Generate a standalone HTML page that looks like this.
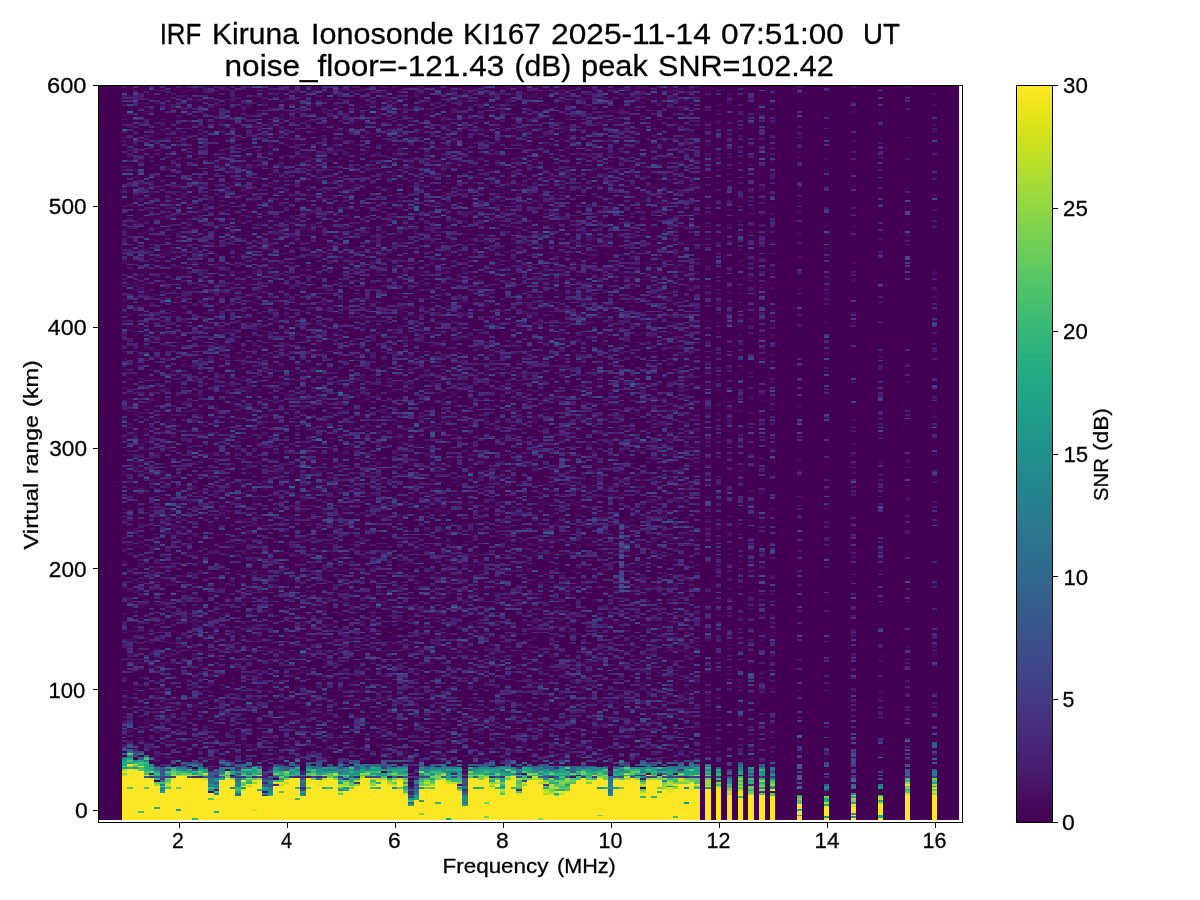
<!DOCTYPE html>
<html><head><meta charset="utf-8"><title>IRF Kiruna Ionosonde KI167</title>
<style>
html,body{margin:0;padding:0;background:#fff;width:1200px;height:900px;overflow:hidden}
svg{display:block;position:absolute;left:0;top:0}
text{font-family:"Liberation Sans",sans-serif;fill:#000;stroke:#000;stroke-width:0.3px}
#txt{will-change:transform}
</style></head><body>
<svg width="1200" height="900" viewBox="0 0 1200 900">
<defs><linearGradient id="vir" x1="0" y1="1" x2="0" y2="0"><stop offset="0.0000" stop-color="#440154"/><stop offset="0.0333" stop-color="#470d60"/><stop offset="0.0667" stop-color="#481a6c"/><stop offset="0.1000" stop-color="#482475"/><stop offset="0.1333" stop-color="#472f7d"/><stop offset="0.1667" stop-color="#443983"/><stop offset="0.2000" stop-color="#414487"/><stop offset="0.2333" stop-color="#3d4d8a"/><stop offset="0.2667" stop-color="#39568c"/><stop offset="0.3000" stop-color="#355f8d"/><stop offset="0.3333" stop-color="#31688e"/><stop offset="0.3667" stop-color="#2d708e"/><stop offset="0.4000" stop-color="#2a788e"/><stop offset="0.4333" stop-color="#27808e"/><stop offset="0.4667" stop-color="#23888e"/><stop offset="0.5000" stop-color="#21918c"/><stop offset="0.5333" stop-color="#1f988b"/><stop offset="0.5667" stop-color="#1fa188"/><stop offset="0.6000" stop-color="#22a884"/><stop offset="0.6333" stop-color="#2ab07f"/><stop offset="0.6667" stop-color="#35b779"/><stop offset="0.7000" stop-color="#44bf70"/><stop offset="0.7333" stop-color="#54c568"/><stop offset="0.7667" stop-color="#67cc5c"/><stop offset="0.8000" stop-color="#7ad151"/><stop offset="0.8333" stop-color="#90d743"/><stop offset="0.8667" stop-color="#a5db36"/><stop offset="0.9000" stop-color="#bddf26"/><stop offset="0.9333" stop-color="#d2e21b"/><stop offset="0.9667" stop-color="#eae51a"/><stop offset="1.0000" stop-color="#fde725"/></linearGradient></defs>
<rect x="0" y="0" width="1200" height="900" fill="#fff"/>
<rect x="98" y="85" width="861" height="735" fill="#440154"/>
<g shape-rendering="crispEdges" fill="none">
<path stroke="#470d60" stroke-width="1" d="M408 786.5h6M230 775.5h5m341 0h5m157 0h5M608 766.5h5M203 757.5h5m114 0h5m103 0h11m70 0h11m10 0h6m21 0h6m11 0h5m65 0h5m16 0h6m97 0h5M176 748.5h5m22 0h5m49 0h5m22 0h5m22 0h5m6 0h5m70 0h11m211 0h5M144 737.5h16m43 0h5m17 0h5m54 0h5m6 0h5m43 0h6m178 0h5m81 0h6m16 0h5M149 728.5h5m49 0h5m76 0h5m222 0h5m33 0h5m38 0h5m11 0h5m135 0h6M203 717.5h11m75 0h11m54 0h11m157 0h5m157 0h5M306 708.5h5m65 0h5m38 0h11m97 0h5m38 0h6m48 0h6m16 0h5m33 0h5M138 699.5h6m16 0h5m43 0h6m75 0h6m16 0h5m17 0h5m97 0h6m5 0h5m22 0h5m38 0h6m16 0h11m37 0h6m102 0h6M171 690.5h5m92 0h5m11 0h5m54 0h6m32 0h6m16 0h5m6 0h5m108 0h5m6 0h5m16 0h6m75 0h6m81 0h5M165 679.5h6m10 0h11m22 0h5m22 0h5m265 0h5m54 0h6m32 0h5m33 0h11m81 0h5m5 0h6M122 670.5h5m27 0h6m75 0h6m21 0h6m70 0h5m17 0h5m92 0h5m22 0h5m54 0h11m49 0h5m43 0h11m16 0h6m5 0h5m54 0h6M144 659.5h5m81 0h5m76 0h5m103 0h5m38 0h6m86 0h5m108 0h6m11 0h5M198 650.5h5m184 0h5m32 0h6m59 0h6m43 0h5m11 0h5m22 0h5m22 0h5m27 0h6M127 641.5h6m21 0h6m16 0h16m33 0h5m11 0h5m178 0h17m178 0h5m38 0h5m60 0h5m38 0h5m76 0h5M181 632.5h6m21 0h11m200 0h5m11 0h6m16 0h5m49 0h5m76 0h5m151 0h6m5 0h6m5 0h5M127 621.5h6m59 0h6m54 0h5m113 0h6m54 0h5m33 0h5m65 0h11m48 0h11m76 0h5M149 612.5h5m6 0h5m60 0h5m32 0h6m11 0h5m27 0h5m173 0h6m5 0h5m92 0h6M181 601.5h6m16 0h5m33 0h11m16 0h5m81 0h6m118 0h6m340 0h5M144 592.5h5m5 0h6m11 0h5m5 0h6m48 0h6m21 0h6m5 0h6m21 0h6m145 0h6m38 0h5m5 0h6m48 0h11m11 0h5m71 0h5m86 0h6M133 583.5h5m27 0h6m21 0h6m151 0h5m38 0h5m130 0h5m6 0h5m11 0h5m27 0h6m5 0h6m16 0h5m16 0h6m70 0h5m211 0h5M187 574.5h5m227 0h5m6 0h5m27 0h6m135 0h5m16 0h6M122 563.5h5m22 0h11m5 0h6m86 0h5m38 0h6m70 0h5m49 0h5m49 0h5m97 0h6m81 0h5M295 554.5h11m27 0h10m92 0h6m10 0h6m70 0h5m373 0h5M122 543.5h5m92 0h6m59 0h5m33 0h5m114 0h5m5 0h6m81 0h16m43 0h6m27 0h16m27 0h5M122 534.5h5m6 0h5m33 0h10m27 0h11m38 0h5m17 0h5m38 0h5m6 0h5m49 0h5m167 0h6m81 0h5m27 0h6M171 525.5h10m71 0h5m16 0h6m5 0h5m27 0h6m21 0h6m38 0h5m22 0h5m43 0h6m48 0h6m10 0h6m146 0h5m27 0h5m103 0h5M219 516.5h6m64 0h6m102 0h6m54 0h5m70 0h6m119 0h5m86 0h6M127 505.5h6m124 0h5m33 0h11m70 0h11m16 0h5m11 0h5m38 0h6m70 0h5m76 0h5m70 0h6M122 496.5h5m17 0h5m38 0h5m92 0h5m6 0h5m11 0h5m87 0h5m6 0h5m32 0h6m5 0h6m70 0h5m49 0h11m86 0h5m184 0h5M127 485.5h6m27 0h11m10 0h6m5 0h6m37 0h6m92 0h10m11 0h11m81 0h5m6 0h5m38 0h5m98 0h5m65 0h5m70 0h6M133 476.5h5m87 0h5m43 0h6m21 0h6m10 0h6m5 0h11m124 0h6m37 0h6m38 0h5m43 0h6m5 0h5m114 0h5M181 467.5h6m54 0h5m43 0h11m114 0h5m54 0h5m76 0h5m81 0h6m32 0h6m54 0h5M171 458.5h5m49 0h5m11 0h11m91 0h6m59 0h6m27 0h5m43 0h6m27 0h5m16 0h6m81 0h5m43 0h6m5 0h5M160 447.5h5m65 0h11m11 0h5m437 0h6M176 438.5h5m6 0h11m21 0h6m334 0h11m22 0h5m60 0h5m27 0h5M154 427.5h6m75 0h6m11 0h5m43 0h6m167 0h5m65 0h6m10 0h6m119 0h5m49 0h5M144 418.5h5m16 0h6m54 0h5m49 0h5m130 0h5m38 0h11m27 0h5m32 0h6m21 0h6m38 0h10m11 0h6M149 409.5h5m17 0h5m54 0h5m76 0h5m38 0h6m37 0h6m27 0h5m22 0h5m211 0h5m49 0h5m200 0h5M154 400.5h6m27 0h5m60 0h5m38 0h5m60 0h5m22 0h5m59 0h6m54 0h11m32 0h11m27 0h5m49 0h5m16 0h6m21 0h6m59 0h6M138 389.5h6m10 0h6m5 0h6m32 0h5m11 0h6m21 0h11m184 0h5m27 0h5m125 0h10m103 0h5m6 0h5m65 0h5M154 380.5h6m151 0h5m38 0h6m16 0h5m92 0h5m60 0h5m11 0h5m92 0h6m16 0h5m6 0h5m189 0h5M160 369.5h16m32 0h6m21 0h6m11 0h5m49 0h5m11 0h5m27 0h6m75 0h6m108 0h5m16 0h6m54 0h5m103 0h5m27 0h5m76 0h5M181 360.5h6m43 0h5m11 0h6m32 0h5m76 0h5m22 0h5m119 0h6m75 0h6m54 0h5m27 0h5m76 0h5M176 351.5h5m27 0h6m81 0h5m38 0h5m6 0h5m38 0h5m87 0h5m87 0h5m22 0h10m6 0h5m22 0h5m16 0h6M235 342.5h6m11 0h5m11 0h5m65 0h5m38 0h6m86 0h5m87 0h5m27 0h6m37 0h6M246 331.5h6m16 0h5m38 0h5m22 0h5m87 0h11m10 0h6m5 0h6m43 0h5m108 0h6m43 0h5M181 322.5h6m11 0h5m32 0h6m32 0h6m10 0h6m21 0h6m81 0h5m92 0h5m98 0h5m130 0h5m81 0h5M208 311.5h6m16 0h5m38 0h6m102 0h6m54 0h5m32 0h6m16 0h5m319 0h5M327 302.5h6m16 0h5m27 0h6m10 0h6m65 0h5m5 0h6m54 0h5m43 0h6m5 0h6m10 0h6m108 0h5M127 293.5h6m16 0h5m87 0h5m60 0h5m32 0h6m129 0h6m70 0h5m76 0h5m87 0h5m6 0h5M203 284.5h5m17 0h5m59 0h6m108 0h5m11 0h11m21 0h6m75 0h6m11 0h5m11 0h5m16 0h6m43 0h11m70 0h5M154 273.5h6m11 0h5m27 0h5m27 0h6m48 0h6m48 0h6m38 0h5m227 0h5m33 0h5M203 264.5h5m11 0h11m43 0h6m59 0h5m87 0h11m189 0h5m38 0h5M133 253.5h5m141 0h5m103 0h5m22 0h5m43 0h6m21 0h6m48 0h6m54 0h5M208 244.5h6m11 0h5m16 0h6m21 0h6m5 0h5m27 0h6m92 0h5m86 0h6m21 0h6m27 0h5m6 0h5m108 0h5M154 235.5h11m16 0h6m16 0h5m11 0h6m27 0h5m43 0h6m5 0h5m11 0h6m21 0h6m86 0h5m44 0h5m27 0h5m6 0h5m16 0h11m27 0h6m43 0h5m16 0h6m232 0h5M198 226.5h5m32 0h6m5 0h6m16 0h5m11 0h5m141 0h11m75 0h6m43 0h5m81 0h6m27 0h5m162 0h5M187 215.5h5m54 0h6m21 0h6m10 0h6m21 0h6m65 0h5m108 0h5m33 0h5m11 0h5m17 0h5m16 0h6m21 0h6m43 0h5M133 206.5h5m114 0h5m27 0h5m103 0h5m49 0h5m114 0h5m16 0h6m38 0h5m22 0h5m16 0h6m86 0h5m130 0h5M133 195.5h5m49 0h5m22 0h11m10 0h6m65 0h5m5 0h6m5 0h6m27 0h5m5 0h6m16 0h5m6 0h5m49 0h5m130 0h5m27 0h6m10 0h6m11 0h5m43 0h6m221 0h5M149 186.5h5m65 0h11m5 0h6m59 0h6m64 0h6m43 0h5m60 0h5m11 0h5m60 0h5m27 0h6m5 0h5m6 0h5m27 0h6m21 0h6m5 0h11m59 0h6m59 0h5M176 177.5h5m11 0h6m37 0h6m237 0h6m21 0h6m5 0h6m37 0h6m21 0h6m5 0h6m86 0h5M149 168.5h5m11 0h6m16 0h5m54 0h6m59 0h5m44 0h5m65 0h5m11 0h5m98 0h5m130 0h5m81 0h5M176 157.5h5m22 0h5m6 0h5m6 0h5m5 0h6m65 0h5m27 0h5m6 0h5m119 0h11m81 0h5m11 0h5m76 0h5m11 0h6m5 0h5M138 148.5h6m59 0h5m152 0h5m22 0h5m243 0h5M144 137.5h5m16 0h11m22 0h5m103 0h5m27 0h5m135 0h6m48 0h6m16 0h5m49 0h5m22 0h11m16 0h5m92 0h6m113 0h5M138 128.5h6m91 0h6m16 0h5m44 0h5m140 0h6m16 0h11m43 0h11m5 0h6m97 0h5m6 0h5m11 0h5m92 0h5M149 119.5h5m6 0h5m205 0h6m38 0h5m54 0h5m33 0h5m49 0h5m16 0h6m11 0h5m151 0h6M127 110.5h6m75 0h6m27 0h5m70 0h6m16 0h5m49 0h5m211 0h11m59 0h11m189 0h5M192 99.5h6m145 0h11m103 0h5m6 0h5m5 0h6m48 0h6m70 0h5m135 0h6M133 90.5h5m87 0h5m5 0h6m21 0h6m146 0h5m27 0h5m92 0h6m43 0h5m70 0h6m32 0h6M181 85.5h6m92 0h5m16 0h6m48 0h6m5 0h5m22 0h11m232 0h5m54 0h6m16 0h5m27 0h6m151 0h5"/>
<path stroke="#470d60" stroke-width="2" d="M208 792h6m48 0h6m502 0h5M457 785h5M387 777h5m70 0h6m102 0h6M268 774h5m249 0h5m81 0h5m33 0h5m22 0h5M208 770h6m11 0h5M208 768h6m48 0h6M208 765h6m248 0h6M154 759h6m243 0h5m70 0h6m32 0h6m21 0h6m16 0h5m22 0h5M165 756h6m10 0h6m183 0h6m11 0h5m70 0h6m21 0h11m27 0h5m146 0h6M230 754h5m38 0h6m70 0h5m49 0h5m16 0h6m54 0h5m60 0h5m5 0h6m92 0h5M273 752h6m27 0h5m11 0h5m76 0h5m65 0h5m33 0h5m49 0h5m33 0h5m27 0h5m33 0h5M295 750h5m22 0h5m6 0h5m108 0h5m6 0h5m27 0h6m37 0h6m27 0h5m108 0h6M176 747h5m65 0h6m108 0h5m11 0h5m60 0h5m5 0h6m11 0h5m22 0h5m22 0h5m5 0h6m21 0h6m16 0h5m27 0h6m59 0h6M133 745h5m114 0h5m119 0h5m54 0h6m37 0h6m38 0h5m43 0h6M144 743h10m87 0h5m87 0h5m11 0h5m141 0h5m11 0h5m6 0h5m59 0h11m22 0h5m81 0h6m5 0h5M489 741h11m16 0h6m54 0h5m81 0h5m81 0h6M214 739h5m54 0h6m27 0h5m5 0h17m48 0h6m140 0h5m27 0h6M235 736h6m21 0h11m38 0h5m49 0h11m11 0h5m5 0h6m32 0h6m48 0h6m10 0h6m27 0h5m65 0h5m27 0h6M165 734h6m97 0h5m81 0h11m16 0h6m54 0h5m32 0h6m108 0h5m43 0h6M127 732h6m43 0h5m44 0h10m49 0h5m81 0h6m5 0h6m91 0h6m54 0h5m43 0h6m32 0h11m49 0h5m38 0h5M127 730h6m21 0h6m140 0h6m5 0h5m189 0h6m21 0h6m5 0h6m27 0h5M122 727h5m87 0h5m38 0h5m33 0h5m11 0h5m22 0h5m33 0h5m33 0h5m49 0h5m27 0h5m22 0h5m60 0h11m64 0h6m21 0h6M203 725h5m92 0h6m37 0h11m65 0h5m17 0h10m17 0h5m97 0h6m48 0h6m10 0h6m59 0h6m48 0h6M144 723h5m16 0h6m113 0h5m87 0h5m38 0h5m11 0h6m5 0h5m27 0h6m5 0h6m16 0h5m38 0h11m21 0h6m11 0h5m22 0h10m87 0h5M122 721h5m17 0h10m227 0h6m91 0h6m21 0h11m16 0h6m54 0h11m5 0h5m17 0h5m16 0h6m10 0h6m16 0h5m44 0h5M144 719h5m43 0h6m48 0h6m118 0h6m16 0h5m49 0h5m11 0h6m27 0h5m32 0h6m11 0h5M144 716h5m135 0h5m11 0h6m16 0h5m33 0h5m59 0h6m16 0h5m22 0h5m38 0h6m16 0h5m6 0h5m49 0h5m27 0h5m6 0h5m33 0h5M122 714h5m33 0h5m38 0h5m33 0h5m76 0h5m243 0h6m16 0h5M257 712h5m44 0h5m16 0h6m172 0h6m75 0h6m54 0h5m54 0h6M192 710h6m21 0h6m135 0h5m11 0h5m16 0h6m48 0h6m11 0h5m54 0h5m92 0h6m10 0h6m16 0h5m17 0h5m49 0h5M138 707h6m16 0h5m6 0h5m16 0h11m54 0h5m11 0h6m21 0h11m32 0h6m43 0h5m6 0h5m11 0h5m114 0h5m43 0h6m21 0h6m75 0h6M181 705h6m5 0h11m146 0h5m141 0h5m22 0h5m43 0h6m43 0h5m92 0h5M138 703h6m10 0h6m21 0h6m65 0h5m27 0h5m11 0h6m48 0h6m54 0h5m97 0h6m43 0h5m27 0h6m5 0h11m65 0h5M133 701h5m119 0h5m33 0h5m16 0h6m48 0h6m43 0h5m6 0h5m38 0h5m33 0h5m49 0h5m6 0h5m22 0h5m5 0h6m54 0h5m11 0h5M122 698h5m49 0h5m17 0h10m173 0h6m70 0h5m6 0h5m5 0h6m113 0h6m16 0h5m60 0h5m16 0h6m167 0h5M154 696h6m146 0h5m22 0h5m38 0h5m65 0h5m65 0h6m102 0h11m11 0h5m16 0h6M225 694h5m5 0h6m5 0h6m183 0h6m70 0h5m43 0h6m38 0h5m11 0h5m54 0h11m16 0h6M208 692h6m146 0h5m11 0h5m33 0h5m162 0h5m98 0h5m189 0h5M133 689h5m81 0h6m5 0h5m17 0h5m16 0h6m16 0h5m38 0h5m17 0h10m6 0h5m97 0h6m97 0h5m27 0h6m151 0h5M295 687h11m81 0h5m54 0h5m125 0h5m59 0h6m38 0h5m49 0h5M138 685h6m27 0h5m32 0h6m21 0h6m16 0h5m130 0h5m60 0h5m6 0h5m32 0h6m32 0h6m5 0h5m33 0h5m43 0h6m43 0h5M203 683h5m38 0h6m97 0h5m49 0h5m76 0h11m32 0h5m6 0h11m21 0h6m10 0h11m38 0h11m5 0h6m16 0h5m16 0h6m38 0h5m16 0h6M154 681h6m97 0h5m92 0h6m54 0h5m130 0h5m59 0h6m65 0h5M138 678h6m32 0h5m11 0h11m27 0h5m87 0h5m38 0h5m49 0h5m54 0h6m75 0h6m54 0h5m49 0h5m11 0h11m59 0h6M171 676h5m81 0h5m54 0h6m11 0h5m16 0h6m5 0h5m22 0h5m27 0h6m21 0h6m200 0h5m108 0h5M192 674h6m10 0h11m43 0h6m16 0h5m6 0h5m81 0h6m75 0h6m54 0h5m70 0h6m124 0h5m27 0h6M187 672h5m6 0h5m97 0h6m32 0h11m43 0h5m189 0h6m43 0h11m11 0h5m43 0h6m48 0h6M181 669h6m5 0h6m86 0h5m65 0h6m91 0h6m119 0h5M203 667h5m11 0h6m129 0h6m108 0h5m49 0h5m11 0h5m141 0h5M133 665h5m22 0h5m216 0h6m32 0h5m33 0h5m87 0h5m38 0h5m16 0h6m43 0h5M133 663h16m11 0h11m10 0h6m81 0h5m27 0h6m91 0h6m27 0h5m130 0h5m11 0h11m65 0h5m27 0h5m54 0h6M230 661h5m6 0h5m22 0h5m238 0h5m38 0h5m17 0h5m16 0h6m16 0h5m22 0h5m6 0h5m216 0h5M127 658h6m21 0h6m21 0h6m113 0h11m86 0h6m129 0h6m11 0h5m108 0h5m17 0h5m27 0h5M192 656h6m16 0h5m76 0h5m70 0h6m97 0h5m22 0h5m6 0h5m11 0h5m17 0h5m32 0h6m54 0h5m119 0h5m76 0h5M127 654h6m27 0h11m5 0h5m98 0h10m6 0h5m130 0h11m102 0h11m49 0h5m38 0h5m38 0h5m238 0h5M149 652h5m49 0h5m22 0h5m71 0h5m135 0h11m102 0h6m32 0h6m5 0h5m38 0h6m5 0h5m17 0h5M154 649h6m27 0h5m16 0h6m16 0h5m33 0h16m81 0h11m32 0h6m5 0h5m38 0h6m16 0h5m60 0h5m32 0h6m38 0h5m32 0h11m49 0h5M181 647h6m59 0h6m48 0h6m81 0h5m92 0h5m38 0h5m44 0h5m324 0h5m22 0h5M289 645h6m59 0h6m48 0h6m113 0h5m71 0h5m16 0h6m64 0h6m27 0h5m200 0h5M133 643h5m11 0h5m11 0h11m22 0h5m65 0h11m37 0h11m27 0h6m43 0h5m97 0h6m173 0h5M127 640h6m27 0h5m38 0h5m6 0h5m27 0h6m5 0h5m81 0h6m5 0h6m16 0h5m324 0h6m48 0h6M144 638h5m32 0h6m32 0h6m16 0h5m6 0h5m27 0h5m11 0h11m16 0h6m10 0h6m183 0h6M154 636h6m21 0h6m86 0h6m32 0h5m76 0h5m44 0h5m59 0h6m43 0h5m54 0h6m70 0h5m33 0h5m38 0h5M144 634h5m86 0h6m43 0h5m76 0h11m32 0h6m32 0h5m27 0h6m32 0h6m48 0h11m103 0h5m162 0h5M127 631h11m22 0h5m6 0h5m59 0h6m324 0h5m124 0h6m5 0h6M149 629h5m173 0h6m5 0h5m22 0h5m98 0h5m32 0h6m5 0h6m10 0h6m54 0h5m11 0h5m71 0h5m16 0h6m140 0h5M133 627h5m54 0h6m16 0h11m21 0h6m5 0h5m54 0h6m43 0h5m11 0h6m16 0h5m11 0h5m49 0h5m6 0h5m130 0h5m92 0h5M192 625h6m54 0h5m43 0h6m21 0h6m135 0h5m32 0h6m54 0h5m16 0h6m54 0h5m6 0h5M192 623h6m5 0h5m92 0h6m27 0h5m22 0h5m103 0h5m22 0h5m22 0h5m5 0h6m11 0h5m16 0h6m27 0h5m5 0h6m5 0h6m43 0h5M171 620h5m32 0h6m119 0h5m59 0h6m156 0h6m11 0h5m70 0h6M138 618h6m43 0h5m11 0h11m183 0h6m27 0h5m16 0h11m70 0h6m21 0h6m5 0h6m64 0h6m16 0h11m65 0h5m5 0h6M257 616h5m146 0h6m156 0h6m140 0h5m38 0h6m5 0h5M122 614h5m60 0h5m6 0h5m16 0h6m113 0h5m27 0h6m59 0h6m21 0h6m5 0h5m44 0h10m49 0h5m22 0h5m11 0h6m5 0h5m54 0h6M133 611h5m43 0h6m183 0h6m21 0h6m113 0h6m86 0h5m17 0h5m43 0h6M198 609h5m16 0h6m43 0h5m81 0h6m221 0h5m22 0h5m6 0h5m124 0h6M138 607h6m178 0h5m43 0h6m11 0h5m22 0h5m65 0h5m16 0h11m38 0h5m98 0h5M138 605h6m10 0h11m184 0h5m27 0h6m21 0h6m189 0h10m60 0h5M181 603h6m54 0h5m135 0h6m16 0h5m54 0h6m59 0h5M127 600h6m11 0h5m16 0h6m21 0h6m32 0h5m27 0h11m70 0h6m27 0h5m49 0h5m27 0h6m124 0h5m22 0h5m22 0h5m38 0h11M198 598h5m22 0h5m16 0h6m37 0h6m43 0h5m38 0h6m27 0h5m205 0h6m97 0h5M138 596h11m38 0h5m33 0h5m32 0h6m38 0h5m119 0h5m6 0h5m119 0h5M208 594h6m135 0h5m54 0h6m32 0h5m17 0h5m43 0h6m64 0h6m21 0h6m11 0h5m5 0h6m113 0h6m5 0h5M127 591h17m37 0h6m16 0h5m81 0h6m11 0h5m27 0h11m97 0h5m11 0h6m37 0h6m48 0h6m16 0h5m60 0h5m33 0h5M187 589h5m22 0h5m60 0h5m11 0h5m76 0h5m6 0h5m22 0h5m65 0h5m54 0h6m37 0h6m16 0h5m22 0h11m81 0h5M208 587h6m200 0h5m16 0h6m129 0h6m27 0h5m43 0h6m10 0h17m54 0h5M165 585h11m49 0h5m22 0h5m16 0h6m64 0h6m27 0h5m114 0h5m16 0h6m21 0h6m16 0h5m11 0h5m54 0h11M138 582h6m27 0h5m43 0h6m5 0h5m33 0h5m11 0h5m33 0h5m49 0h5m6 0h5m22 0h10m114 0h11m129 0h6M414 580h5m70 0h6m5 0h5m27 0h6m5 0h6m16 0h5m16 0h6m32 0h6m27 0h5M127 578h6m11 0h5m92 0h5m43 0h6m108 0h11m10 0h6m27 0h5m103 0h5m65 0h5m87 0h5M181 576h6m75 0h6m27 0h5m130 0h11m37 0h6m156 0h6m16 0h5m103 0h5M192 573h6m10 0h6m54 0h5m6 0h5m124 0h6m248 0h5M235 571h6m5 0h16m27 0h6m43 0h11m48 0h6m27 0h5m11 0h5m27 0h6m27 0h5m38 0h5m11 0h6m97 0h5M127 569h6m32 0h6m48 0h6m81 0h5m184 0h5m16 0h6m64 0h6m11 0h5M138 567h6m10 0h6m124 0h5m22 0h5m146 0h6m5 0h5m119 0h6m21 0h16m108 0h6M138 565h6m75 0h6m54 0h5m27 0h5m81 0h6m65 0h16m167 0h6m27 0h5m5 0h6M122 562h5m49 0h5m17 0h5m49 0h5m162 0h5m27 0h6m21 0h6m11 0h5m27 0h5m76 0h5m27 0h11m54 0h6m27 0h5M171 560h5m76 0h5m11 0h5m27 0h6m81 0h5m43 0h6m102 0h6m37 0h6m70 0h5m81 0h6M133 558h5m6 0h5m92 0h5m87 0h5m22 0h10m227 0h6m113 0h5m103 0h5m22 0h5M138 556h6m5 0h5m11 0h6m54 0h5m65 0h5m60 0h10m33 0h5m124 0h6m59 0h11m243 0h5M127 553h6m54 0h11m21 0h6m16 0h5m11 0h5m6 0h11m5 0h11m43 0h5m33 0h5m65 0h5m22 0h5m6 0h5m43 0h6m11 0h5m11 0h5m33 0h5m151 0h6M208 551h6m27 0h5m60 0h10m33 0h5m6 0h10m38 0h6m10 0h6m227 0h5m216 0h5M122 549h5m22 0h5m189 0h6m70 0h5m6 0h5m16 0h6m65 0h5m146 0h5m6 0h5m38 0h5M138 547h6m10 0h6m162 0h5m27 0h6m64 0h6m65 0h5m5 0h6m65 0h5m59 0h6m11 0h5m32 0h6M127 545h6m21 0h6m70 0h5m17 0h5m5 0h6m81 0h5m173 0h11m38 0h5m5 0h11m6 0h5m5 0h6m27 0h5M138 542h6m86 0h5m27 0h6m32 0h6m27 0h5m70 0h6m32 0h5m11 0h11m38 0h11m16 0h5m11 0h5m92 0h6m27 0h5m59 0h6M187 540h5m54 0h6m21 0h6m21 0h6m43 0h5m6 0h5m38 0h5m97 0h6m38 0h10m92 0h6m10 0h11m6 0h5m5 0h6m16 0h5M198 538h5m22 0h5m16 0h6m48 0h6m32 0h5m103 0h5m49 0h5m33 0h5m22 0h5m11 0h5m6 0h5m60 0h5m5 0h6m75 0h6M176 536h5m11 0h6m37 0h6m38 0h5m22 0h5m32 0h6m146 0h5m32 0h6m11 0h5m76 0h5m32 0h6m32 0h6m16 0h5M160 533h5m27 0h6m48 0h6m140 0h5m98 0h5m16 0h6m205 0h5M127 531h6m32 0h6m113 0h5m11 0h6m10 0h6m86 0h6m10 0h6m11 0h5m22 0h5m5 0h6m119 0h5m11 0h5m16 0h6m16 0h5m38 0h6M133 529h5m33 0h5m5 0h6m21 0h6m54 0h5m38 0h11m11 0h5m103 0h5m92 0h5m81 0h6m86 0h5M171 527h10m152 0h5m86 0h6m70 0h11m27 0h5m54 0h6m32 0h5m76 0h5M122 524h5m11 0h6m16 0h5m6 0h5m130 0h5m22 0h5m16 0h6m91 0h6m16 0h5m76 0h5m6 0h5M165 522h6m81 0h5m22 0h5m211 0h5m54 0h5m65 0h6M122 520h5m44 0h5m38 0h5m16 0h11m43 0h6m102 0h6m102 0h6m27 0h5m87 0h5m70 0h6M149 518h5m135 0h11m6 0h5m5 0h6m156 0h6m38 0h5m32 0h6m75 0h6m38 0h5M219 515h6m32 0h5m76 0h5m33 0h11m10 0h6m75 0h6m92 0h5m11 0h5m65 0h5m130 0h5m103 0h5M246 513h6m59 0h5m130 0h5m44 0h10m98 0h5m86 0h6M149 511h5m17 0h5m54 0h5m65 0h6m16 0h5m108 0h6m5 0h5m27 0h11m22 0h5m70 0h6m54 0h5m16 0h6m5 0h6M122 509h5m27 0h6m59 0h6m199 0h17m118 0h6m11 0h5m59 0h6m59 0h6m59 0h5m49 0h5M225 507h10m17 0h5m5 0h6m21 0h6m16 0h5m22 0h11m27 0h5m103 0h11m145 0h6M144 504h5m254 0h5m6 0h5m49 0h5m70 0h11m5 0h6m5 0h6M187 502h11m156 0h6m70 0h5m60 0h5m38 0h5m33 0h5m70 0h6m16 0h11m43 0h5M165 500h6m5 0h5m71 0h10m22 0h5m11 0h6m59 0h11m5 0h6m10 0h6m5 0h6m151 0h11m43 0h5m6 0h5m11 0h5m6 0h5m11 0h11m221 0h5M160 498h5m87 0h5m189 0h5m38 0h6m97 0h5m65 0h5m38 0h6m194 0h5M160 495h5m33 0h5m11 0h5m16 0h6m16 0h5m33 0h11m5 0h5m49 0h11m48 0h6m21 0h6m102 0h6m43 0h5m6 0h5m27 0h6m21 0h6M154 493h6m297 0h5m200 0h5m6 0h5m81 0h6m86 0h5M187 491h5m6 0h5m5 0h6m32 0h6m21 0h6m37 0h6m11 0h5m16 0h6m27 0h5m119 0h5m70 0h6m135 0h5m16 0h6m5 0h6M133 489h5m33 0h5m16 0h6m64 0h6m65 0h5m32 0h6m54 0h11m27 0h5m11 0h5m114 0h5m65 0h5m146 0h5M133 487h5m38 0h5m11 0h6m113 0h5m108 0h6m135 0h11m10 0h11m27 0h6m37 0h6M268 484h5m16 0h6m75 0h6m108 0h5m16 0h6m5 0h6m21 0h6m129 0h6M149 482h5m135 0h6m16 0h5m6 0h5m54 0h6m21 0h6m5 0h5m17 0h5m5 0h6m81 0h5m11 0h5m6 0h5m54 0h6m43 0h5m6 0h5M127 480h6m16 0h11m32 0h6m81 0h5m70 0h6m32 0h5m114 0h5m65 0h5m27 0h6m21 0h6m5 0h6m10 0h11m6 0h5M171 478h5m38 0h5m60 0h5m43 0h6m16 0h5m108 0h6m32 0h5m6 0h5M122 475h5m141 0h5m6 0h5m81 0h5m92 0h6m10 0h6m97 0h5M122 473h5m11 0h6m16 0h5m81 0h6m21 0h6m10 0h6m5 0h6m5 0h5m233 0h5m5 0h6m54 0h5m227 0h5M122 471h5m152 0h16m16 0h16m33 0h5m76 0h5m32 0h6m16 0h5m27 0h6m27 0h5m22 0h5m22 0h5m114 0h5m54 0h5M133 469h5m119 0h5m27 0h6m32 0h6m48 0h6m10 0h6m92 0h5m70 0h6m81 0h5m16 0h6m10 0h6M165 466h6m54 0h5m86 0h11m70 0h6m5 0h6m54 0h5m54 0h5m11 0h6m5 0h5m11 0h6m32 0h5m6 0h5m65 0h5M127 464h6m113 0h6m5 0h5m49 0h5m92 0h6m21 0h6m37 0h6m43 0h5m44 0h5m11 0h5m33 0h5m216 0h5M138 462h6m48 0h6m54 0h10m33 0h5m60 0h5m5 0h11m65 0h5m22 0h5m6 0h5m6 0h5m124 0h6m37 0h6m205 0h5m22 0h5M203 460h5m65 0h6m194 0h5m92 0h6m75 0h6m32 0h5m103 0h5m103 0h5M381 457h6m75 0h6m54 0h5m200 0h5M122 455h11m75 0h6m5 0h6m135 0h5m59 0h6m43 0h5m22 0h11m113 0h6m37 0h6m178 0h5m76 0h5M154 453h6m48 0h6m21 0h6m65 0h5m5 0h6m102 0h6m97 0h5m87 0h5m43 0h11m16 0h6M273 451h6m64 0h6m48 0h6m189 0h5m22 0h5m11 0h11M144 449h5m16 0h6m54 0h5m59 0h6m5 0h11m16 0h6m75 0h6m10 0h6m102 0h6m97 0h5m130 0h5M138 446h6m27 0h5m11 0h5m70 0h6m16 0h5m11 0h6m43 0h5m43 0h6m11 0h5m5 0h6m11 0h5m124 0h6m10 0h6m16 0h5m54 0h11M138 444h6m5 0h5m114 0h5m103 0h5m27 0h6m70 0h5m97 0h6m5 0h6m48 0h11m22 0h5m5 0h6m27 0h5m119 0h5M144 442h5m65 0h5m162 0h6m10 0h6m113 0h6m21 0h6m37 0h6m38 0h5M122 440h5m11 0h6m21 0h6m48 0h6m81 0h5m130 0h5m11 0h5m97 0h6m43 0h5m6 0h5m11 0h5m27 0h6M171 437h5m5 0h6m5 0h6m48 0h6m280 0h6m86 0h6m48 0h6m21 0h6m5 0h5m17 0h5m27 0h5M127 435h11m16 0h6m11 0h5m27 0h5m6 0h5m43 0h6m70 0h5m108 0h6m54 0h5m33 0h5m130 0h5M133 433h5m6 0h5m124 0h6M176 431h5m6 0h5m6 0h5m238 0h5m184 0h5m16 0h6m37 0h6m27 0h5M219 429h6m32 0h5m98 0h5m5 0h6m21 0h6m21 0h6m59 0h6m10 0h6m21 0h6m21 0h6m81 0h5m54 0h6M160 426h5m76 0h5m119 0h11m27 0h5m243 0h16M171 424h5m22 0h5m11 0h5m16 0h6m108 0h5m38 0h5m87 0h5m27 0h6m32 0h5m33 0h5m60 0h5m65 0h5M165 422h6m81 0h5m11 0h11m16 0h5m97 0h6m59 0h11m59 0h6m27 0h5m16 0h6m27 0h5m43 0h6m11 0h5m38 0h5m27 0h6m5 0h5M446 420h5m44 0h5m32 0h6m313 0h5M208 417h6m302 0h11m5 0h6m27 0h5m11 0h5m108 0h6m232 0h5M133 415h5m22 0h5m16 0h6m11 0h5m65 0h5m16 0h6m16 0h5m22 0h5m17 0h5m22 0h5m5 0h6m16 0h5m27 0h11m49 0h5m103 0h5m11 0h5m44 0h5m27 0h5m157 0h5M138 413h11m65 0h5m27 0h6m81 0h5m43 0h11m151 0h6m21 0h6m54 0h10m49 0h5m11 0h6m5 0h5m27 0h6M127 411h11m6 0h5m11 0h5m16 0h17m16 0h5m16 0h6m38 0h10m49 0h5m38 0h6m113 0h5m189 0h6m38 0h5m135 0h5M214 408h5m33 0h5m70 0h6m97 0h5m135 0h6m97 0h5m49 0h5M127 406h6m5 0h6m70 0h5m103 0h5m124 0h6m32 0h6m108 0h5m11 0h5m16 0h6m70 0h5m76 0h5M203 404h5m22 0h5m60 0h5m38 0h5m49 0h5m184 0h5m11 0h6m5 0h16m22 0h5m22 0h5m38 0h5M127 402h6m43 0h16m38 0h5m44 0h5m49 0h5m103 0h5m5 0h6m43 0h11m27 0h5m38 0h5m65 0h6m70 0h5M127 399h6m32 0h6m64 0h6m75 0h6m16 0h5m54 0h6m11 0h5m22 0h5m162 0h11m38 0h5m43 0h6m37 0h6m16 0h5m157 0h5M198 397h5m22 0h5m54 0h16m16 0h6m32 0h6m140 0h5m38 0h6m37 0h6m32 0h6m5 0h5m98 0h5m5 0h6M192 395h11m81 0h5m65 0h6m16 0h5m70 0h6m151 0h5m44 0h5m22 0h5m70 0h6M127 393h6m54 0h5m87 0h10m146 0h6m10 0h6m11 0h5m49 0h5m16 0h6m75 0h6M165 391h6m48 0h6m21 0h6m86 0h5m49 0h5m60 0h5m11 0h5m27 0h6m65 0h5m5 0h11m11 0h5M122 388h5m22 0h5m11 0h6m21 0h6m37 0h6m5 0h6m16 0h5m70 0h6m27 0h5m97 0h6m5 0h6m5 0h5m76 0h5m11 0h6M225 386h5m16 0h6m32 0h5m17 0h5m70 0h6m27 0h5m43 0h6m43 0h5m22 0h5m33 0h5m54 0h5m65 0h6M160 384h5m33 0h5m22 0h5m16 0h6m37 0h6m54 0h5m33 0h10m6 0h5m22 0h5m16 0h6m102 0h11m11 0h11m65 0h5M176 382h5m11 0h6m59 0h5m17 0h10m27 0h11m11 0h5m27 0h6m16 0h5m33 0h5m103 0h5m54 0h6m5 0h5m6 0h5m43 0h6m54 0h5m38 0h5m130 0h5M127 379h6m5 0h6m48 0h6m16 0h5m11 0h5m81 0h6m38 0h5m173 0h5m135 0h6M322 377h11m27 0h5m59 0h6m70 0h5m11 0h6m37 0h6m21 0h6m5 0h6m145 0h6M133 375h5m151 0h6m11 0h5m59 0h6m21 0h6m59 0h6m48 0h6m5 0h5m49 0h5M154 373h6m135 0h16m113 0h6m11 0h5m22 0h5m43 0h6m21 0h6m124 0h5m11 0h5m54 0h6M127 371h6m146 0h5m5 0h6m11 0h5m59 0h6m27 0h11m70 0h5m216 0h6m113 0h5M192 368h6m129 0h6m43 0h5m27 0h6m5 0h5m60 0h11m5 0h5m54 0h11m49 0h5m33 0h5m65 0h5M160 366h5m16 0h11m70 0h11m6 0h5m32 0h6m16 0h5m38 0h6m140 0h5m17 0h5m27 0h5m11 0h6m194 0h5M181 364h6m113 0h6m102 0h6m199 0h6m11 0h5m270 0h5M489 362h6m43 0h5m33 0h5m124 0h6M122 359h5m17 0h5m54 0h5m27 0h11m124 0h6m129 0h6m48 0h6m16 0h5m33 0h5m135 0h6M268 357h5m6 0h5m119 0h11m27 0h5m76 0h10m27 0h6m59 0h6m64 0h6m178 0h5M138 355h6m54 0h5m70 0h6m226 0h6m27 0h11m10 0h6m16 0h5m44 0h5m27 0h5m11 0h6m86 0h5M187 353h11m167 0h5m125 0h5m16 0h6m162 0h5m135 0h5M149 350h11m11 0h5m27 0h5m6 0h5m33 0h5m76 0h5m232 0h6m5 0h5m33 0h5m38 0h5m22 0h5M144 348h5m81 0h5m22 0h11m11 0h10m81 0h6m16 0h5m81 0h6m32 0h6m118 0h6m5 0h6m16 0h5M127 346h6m11 0h5m16 0h6m27 0h10m17 0h5m22 0h5m27 0h5m27 0h6m27 0h5m22 0h5m6 0h5m38 0h5m43 0h6m59 0h6m86 0h5m33 0h5M225 344h5m178 0h6m16 0h5m16 0h6m54 0h5m87 0h5m11 0h5m22 0h5m146 0h5M149 341h11m38 0h5m11 0h5m81 0h6m64 0h6m32 0h6m16 0h5m16 0h6m108 0h5m135 0h6M176 339h5m135 0h6m11 0h5m119 0h5m6 0h10m54 0h6m5 0h6m27 0h5m5 0h11M230 337h5m11 0h6m5 0h5m60 0h5m124 0h6m16 0h5m65 0h6m21 0h6m27 0h5m11 0h5m22 0h11M122 335h5m6 0h5m22 0h5m6 0h5m86 0h6m27 0h5m162 0h6m21 0h6m59 0h5m22 0h5m11 0h6m32 0h5m22 0h5m71 0h5m16 0h6m5 0h5M138 333h6m91 0h6m54 0h5m33 0h5m5 0h6m81 0h5m103 0h5m16 0h6m16 0h5m17 0h5m32 0h6m21 0h6m43 0h5M127 330h6m38 0h5m27 0h5m17 0h5m22 0h10m38 0h6m16 0h5m195 0h5m59 0h6m21 0h6M138 328h6m167 0h5m33 0h5m6 0h5m11 0h5m16 0h6m16 0h5m33 0h5m22 0h5m43 0h6m75 0h6m21 0h6M133 326h5m54 0h6m5 0h5m49 0h5m103 0h5m27 0h6m54 0h5M246 324h6m70 0h5m16 0h6m86 0h6m81 0h5m22 0h5m5 0h6m75 0h6m92 0h5m54 0h5M181 321h6m75 0h6m5 0h6m91 0h6m65 0h5m5 0h6m113 0h6m32 0h5m27 0h6m5 0h6m48 0h6m221 0h5M273 319h6m5 0h5m71 0h5m81 0h5m38 0h6m43 0h5m81 0h6m5 0h5m98 0h5m5 0h6M171 317h5m27 0h5m44 0h5m81 0h5m17 0h5m38 0h5m6 0h5m65 0h5m11 0h5m65 0h6m16 0h5m6 0h5m59 0h6m5 0h6M127 315h6m108 0h5m38 0h5m22 0h11m27 0h5m22 0h5m151 0h6m11 0h5m59 0h6m27 0h11M181 313h6m16 0h11m183 0h6m59 0h6m37 0h6m11 0h10m108 0h6m70 0h5m130 0h5M144 310h5m16 0h6m16 0h5m114 0h5m11 0h5m70 0h6m21 0h6m5 0h6m32 0h5m11 0h6m5 0h5m27 0h6m92 0h5m59 0h6m70 0h5M219 308h6m37 0h6m129 0h11m16 0h6m108 0h5m22 0h5M122 306h5m6 0h11m48 0h6m81 0h5m81 0h5m33 0h5m11 0h5m22 0h5m33 0h5m11 0h5m125 0h5m27 0h5M257 304h5m33 0h5m162 0h6m16 0h5m33 0h5m189 0h5M122 301h5m6 0h5m130 0h5m16 0h6m59 0h6m10 0h6m32 0h6m27 0h5m70 0h6m21 0h11m5 0h6m11 0h5m5 0h6M122 299h5m222 0h5m38 0h11m11 0h5m5 0h6m237 0h6m5 0h6M133 297h5m43 0h6m32 0h6m27 0h5m27 0h5m103 0h5m135 0h6m129 0h11m254 0h5M144 295h5m5 0h6m65 0h5m22 0h5m16 0h6m259 0h5m38 0h16M144 292h5m108 0h5m11 0h6m135 0h5m70 0h6m75 0h6m5 0h5m71 0h5m5 0h6m54 0h5M133 290h11m86 0h5m22 0h5m17 0h5m16 0h6m27 0h5m70 0h6m10 0h6m173 0h5m11 0h5m49 0h5m254 0h5M165 288h6m27 0h5m97 0h11m16 0h6m37 0h6m102 0h6m48 0h6m32 0h6m21 0h6m27 0h5m54 0h5m44 0h5m16 0h6m5 0h5M198 286h5m22 0h5m76 0h5m113 0h6m21 0h6m81 0h5m108 0h6m16 0h5m6 0h5M133 283h5m6 0h5m130 0h5m86 0h6m32 0h6m32 0h5m49 0h5m22 0h5m27 0h6m16 0h5m81 0h6M203 281h5m33 0h5m11 0h5m71 0h5m43 0h6m5 0h5m22 0h5m27 0h6m16 0h5m27 0h6m27 0h5m6 0h5m22 0h10m87 0h5m70 0h6m97 0h5M225 279h5m86 0h6m54 0h5m11 0h11m119 0h5m27 0h5m6 0h5m70 0h17m10 0h6m178 0h5M154 277h6m48 0h6m21 0h6m32 0h6m405 0h10m54 0h6M138 275h6m21 0h6m10 0h11m11 0h11m32 0h6m27 0h5m22 0h5m43 0h6m16 0h5m97 0h6m21 0h6m27 0h5m6 0h5m22 0h5m76 0h5M252 272h5m5 0h6m108 0h5m38 0h5m11 0h11m16 0h6m151 0h5m27 0h11m22 0h5m5 0h6m232 0h5M300 270h6m21 0h6m21 0h6m48 0h6m48 0h6m135 0h10m60 0h5m27 0h6m59 0h5M144 268h5m5 0h6m54 0h5m54 0h6m54 0h5m59 0h6m119 0h10m11 0h6m5 0h5m38 0h6m5 0h11m32 0h6m16 0h5m6 0h5m16 0h6m48 0h6M160 266h5m11 0h5m11 0h6m10 0h17m64 0h6m43 0h5m81 0h6m65 0h5m54 0h5m6 0h11m37 0h6m27 0h5m22 0h11m21 0h6M122 263h5m71 0h5m38 0h5m22 0h5m11 0h5m162 0h6m38 0h5m16 0h6m59 0h5m60 0h5m200 0h5M122 261h5m60 0h11m64 0h6m102 0h6m11 0h5m49 0h5m43 0h6m10 0h6m32 0h6m16 0h5m81 0h6m81 0h5M295 259h5m33 0h5m5 0h6m11 0h5m16 0h11m5 0h6m59 0h6m27 0h5m22 0h5m11 0h5m33 0h5m5 0h6m38 0h5M154 257h6m11 0h5m27 0h5m103 0h5m44 0h5m194 0h6m108 0h5m119 0h5M165 255h6m43 0h5m108 0h6m43 0h5m205 0h6m81 0h5M122 252h5m38 0h6m21 0h6m156 0h6m64 0h6m11 0h5m38 0h5m6 0h5m5 0h6m38 0h5m5 0h6m113 0h6M144 250h5m11 0h5m65 0h5m6 0h5m16 0h11m119 0h5m17 0h5m194 0h6m119 0h5m5 0h6M268 248h5m6 0h5m11 0h5m6 0h5m32 0h6m5 0h11m59 0h6m5 0h6m32 0h5m11 0h6m5 0h5m152 0h5m162 0h5M181 246h6m27 0h5m6 0h5m16 0h6m16 0h5m54 0h6m10 0h6m38 0h5m124 0h6m5 0h5m22 0h5m92 0h6M203 243h5m60 0h5m54 0h6m64 0h6m21 0h17m10 0h6m54 0h5m87 0h5m54 0h5m103 0h5M154 241h6m135 0h5m151 0h6m5 0h6m16 0h5m87 0h5m5 0h6m11 0h5m81 0h5m33 0h5M149 239h5m76 0h5m6 0h5m76 0h5m70 0h6m43 0h5m17 0h5m97 0h6m16 0h5m27 0h6m21 0h6m10 0h6m21 0h6m178 0h5M187 237h5m97 0h11m38 0h5m49 0h5m54 0h6m32 0h6m75 0h6m43 0h5m11 0h11m27 0h5M138 234h6m43 0h5m76 0h5m6 0h5m81 0h5m27 0h6m32 0h6m21 0h6m10 0h11m16 0h6m5 0h6m32 0h11m16 0h5m152 0h5m54 0h5m22 0h5m76 0h5M144 232h5m27 0h5m65 0h6m162 0h5m16 0h6m75 0h6m140 0h5m81 0h6M122 230h5m44 0h5m11 0h5m22 0h5m6 0h5m43 0h6m21 0h11m92 0h5m6 0h5m151 0h6m86 0h5m6 0h5M127 228h6m21 0h6m5 0h6m16 0h5m108 0h11m27 0h5m81 0h6m97 0h11m119 0h5m32 0h6m232 0h5M165 225h6m135 0h5m70 0h6m5 0h5m11 0h6m91 0h6m38 0h5m173 0h5M122 223h5m6 0h11m43 0h5m6 0h10m49 0h5m6 0h5m22 0h5m162 0h6m86 0h5M144 221h5m38 0h5m43 0h6m32 0h6m81 0h5m54 0h5m27 0h6m5 0h6m5 0h5m11 0h11m38 0h11m48 0h6m21 0h6m108 0h5M138 219h6m10 0h6m5 0h6m5 0h5m44 0h5m54 0h5m60 0h5m297 0h6M160 217h5m6 0h5m16 0h6m124 0h5m16 0h6m38 0h5m70 0h6m48 0h11m22 0h5m86 0h6m32 0h6M160 214h5m141 0h5m119 0h5m33 0h5m59 0h6m102 0h6m5 0h6m91 0h6m5 0h6m5 0h5m76 0h5M208 212h6m32 0h6m10 0h6m32 0h11m22 0h5m86 0h6m32 0h6m5 0h5m33 0h5m146 0h5m130 0h5M144 210h5m11 0h5m33 0h5m65 0h5m22 0h5m11 0h5m130 0h5m22 0h5m98 0h5m16 0h6m124 0h5M176 208h5m11 0h6m16 0h5m49 0h5m92 0h5m11 0h6m10 0h6m151 0h5m6 0h5m38 0h5m135 0h6M154 205h6m59 0h11m108 0h5m38 0h6m48 0h11m49 0h10m108 0h6m54 0h5m16 0h6m5 0h6M208 203h6m27 0h5m22 0h5m114 0h10m11 0h6m108 0h5m119 0h5M138 201h6m27 0h5m5 0h6m21 0h6m32 0h11m346 0h5m32 0h6M133 199h5m11 0h5m11 0h11m11 0h5m43 0h6m75 0h6m102 0h6m38 0h5m22 0h5m162 0h11M133 197h5m65 0h5m11 0h6m27 0h5m184 0h5m92 0h11m43 0h5m16 0h6m21 0h11M138 194h6m5 0h5m44 0h10m81 0h6m48 0h6m102 0h6m43 0h5m33 0h5m11 0h5m65 0h6M149 192h5m92 0h6m135 0h5m248 0h6m48 0h6m48 0h6M122 190h5m81 0h6m11 0h5m43 0h6m43 0h5m103 0h5m16 0h6m32 0h11m43 0h6m16 0h5m27 0h6m43 0h5m108 0h6M122 188h5m17 0h5m5 0h6m11 0h5m162 0h5m17 0h5m16 0h11m5 0h6m81 0h5m11 0h5m44 0h5m49 0h5m43 0h6m27 0h5m59 0h6m5 0h6m32 0h5m103 0h5M138 185h6m32 0h5m17 0h5m38 0h5m27 0h6m10 0h6m48 0h6m11 0h10m49 0h11m54 0h5m27 0h6m10 0h6m59 0h6m10 0h6m11 0h5m59 0h6M225 183h10m17 0h5m86 0h11m151 0h6m205 0h5M149 181h5m44 0h5m11 0h5m33 0h5m32 0h6m5 0h6m10 0h6m167 0h6m43 0h5m124 0h6M198 179h5m54 0h5m54 0h6m92 0h10m22 0h5m44 0h5m113 0h6m38 0h5m5 0h6m97 0h5M154 176h6m173 0h5m16 0h6m70 0h16m27 0h5m6 0h5m92 0h5m27 0h6m21 0h11m11 0h16M176 174h5m54 0h6m75 0h6m59 0h6m5 0h5m17 0h5m22 0h5m54 0h5m6 0h5m16 0h6m27 0h5m33 0h5m22 0h10m17 0h5m65 0h5M241 172h5m135 0h6m5 0h5m87 0h5m27 0h6m118 0h6M133 170h5m27 0h6m5 0h5m49 0h5m11 0h6m37 0h6m5 0h6m5 0h5m54 0h6m16 0h5m11 0h6m16 0h5m38 0h5m17 0h5m43 0h6m43 0h5m6 0h5m11 0h5m92 0h5m103 0h5M127 167h6m32 0h11m32 0h6m27 0h5m6 0h5m5 0h6m11 0h5m43 0h6m32 0h5m27 0h6m38 0h10m17 0h5m5 0h6m86 0h6m27 0h10m17 0h5m5 0h6M154 165h6m11 0h5m76 0h5m22 0h5m124 0h6m32 0h5m44 0h5m81 0h5m98 0h5m59 0h6M176 163h5m11 0h6m32 0h5m76 0h5m92 0h6m27 0h5m5 0h6m108 0h5M327 161h6m91 0h6m43 0h5m60 0h5m65 0h5m6 0h5m81 0h6m59 0h5M187 159h11m59 0h5m17 0h5m5 0h6m11 0h5m27 0h5m60 0h11m54 0h5m43 0h6m43 0h5m87 0h5m54 0h5m103 0h5M149 156h5m60 0h5m22 0h5m33 0h10m6 0h16m43 0h6m16 0h5m65 0h5m87 0h5m108 0h6m48 0h6M176 154h5m11 0h6m102 0h6m10 0h6m48 0h6m48 0h6m75 0h6m65 0h5m5 0h6m16 0h11m5 0h16m76 0h5M181 152h6m81 0h5m33 0h5m22 0h5m38 0h5m16 0h6m124 0h5m33 0h5m362 0h5M333 150h5m27 0h5m17 0h5m43 0h6m21 0h6m86 0h5m38 0h6m16 0h5m27 0h6m81 0h5M327 147h11m135 0h5m44 0h5m38 0h5m54 0h6m21 0h6m32 0h5M133 145h5m130 0h5m11 0h5m65 0h6m21 0h6m43 0h5m54 0h6m32 0h5m17 0h5m113 0h6m11 0h10m11 0h6m37 0h6M181 143h6m81 0h5m76 0h5m108 0h6m16 0h5m27 0h6m27 0h5m140 0h6m5 0h6M181 141h6m113 0h6m81 0h5m59 0h6m21 0h6m27 0h5m335 0h5M138 139h6m16 0h5m27 0h6m27 0h5m5 0h6m194 0h6m118 0h6m43 0h5m6 0h16M149 136h5m27 0h6m75 0h11m265 0h11m16 0h5m119 0h5M154 134h6m92 0h5m16 0h11m81 0h11m21 0h6m38 0h5m27 0h5m108 0h6m21 0h6m11 0h5m49 0h5M176 132h5m103 0h5m22 0h5m141 0h5m11 0h5m6 0h5m33 0h5m32 0h6m5 0h6m59 0h5m49 0h5m103 0h5m130 0h5M149 130h5m6 0h11m5 0h5m38 0h6m54 0h5m11 0h5m22 0h5m6 0h5m5 0h6m70 0h5m17 0h5m54 0h5m60 0h5m362 0h5M127 127h6m21 0h6m43 0h5m33 0h5m76 0h5m119 0h5m49 0h5m54 0h11m54 0h6m37 0h6M149 125h5m38 0h6m32 0h5m17 0h5m11 0h5m60 0h5m76 0h5m5 0h6m11 0h5m151 0h6m21 0h6m59 0h5m238 0h5M219 123h6m43 0h11m108 0h5m200 0h5m108 0h6m5 0h5m49 0h5M295 121h5m11 0h5m38 0h6m81 0h5m27 0h22m108 0h16m97 0h5M279 118h5m5 0h11m38 0h5m119 0h6m81 0h5m11 0h5m70 0h6m16 0h5M122 116h5m87 0h5m49 0h5m6 0h5m113 0h6m146 0h5m22 0h5m5 0h6m48 0h6M144 114h5m130 0h5m22 0h5m49 0h5m59 0h6m48 0h6m5 0h6m16 0h5m6 0h5m5 0h6m86 0h6M144 112h10m33 0h5m70 0h6m21 0h6m81 0h5m33 0h5m119 0h5m60 0h5m5 0h6m232 0h5M187 109h5m184 0h5m27 0h6m10 0h6m189 0h5m54 0h6m21 0h6M181 107h6m59 0h6m64 0h6m27 0h5m6 0h5m27 0h5m6 0h5m11 0h5m76 0h5m49 0h5m33 0h5m76 0h5M160 105h11m43 0h11m21 0h6m81 0h5m27 0h11m119 0h5m11 0h5m22 0h11m16 0h5m11 0h5m130 0h5m38 0h6m167 0h5M138 103h11m5 0h6m102 0h6m43 0h5m103 0h5m6 0h5m70 0h6m21 0h6m16 0h5m6 0h5m60 0h5m5 0h6m5 0h11m5 0h6m54 0h5m38 0h5M192 101h11m5 0h6m16 0h5m60 0h5m162 0h6m37 0h6m124 0h5m38 0h11m38 0h5M144 98h5m11 0h5m11 0h5m49 0h5m49 0h5m71 0h5m16 0h6m59 0h5m6 0h11m21 0h6m81 0h16m5 0h6m48 0h6m16 0h5M127 96h6m119 0h5m43 0h6m145 0h6m27 0h11m32 0h11m5 0h6m10 0h6m70 0h5M414 94h10m17 0h5m65 0h5m6 0h5m5 0h6m43 0h5m38 0h6m97 0h5m200 0h5M122 92h5m54 0h6m81 0h5m6 0h5m11 0h5m27 0h6m48 0h6m27 0h5m5 0h6m200 0h5m32 0h6M192 89h6m27 0h5m108 0h5m17 0h5m54 0h5m49 0h5m27 0h6m108 0h5m11 0h5m38 0h6m5 0h5M203 87h5m141 0h5m27 0h6m5 0h5m22 0h5m81 0h6m5 0h6m113 0h11m48 0h6m97 0h5m49 0h5m49 0h5"/>
<path stroke="#481a6c" stroke-width="1" d="M171 757.5h5m86 0h6m21 0h6m32 0h6m70 0h5m195 0h5m32 0h6m11 0h5M133 748.5h5m11 0h5m98 0h5m108 0h5m11 0h6m54 0h5m16 0h6m16 0h5m6 0h5m27 0h5m157 0h5M241 737.5h5m27 0h6m10 0h6m5 0h6m108 0h16m5 0h6m37 0h6m16 0h11m27 0h5m49 0h5m22 0h5m6 0h5m70 0h6m59 0h5M187 728.5h5m16 0h6m32 0h6m210 0h6m16 0h5m16 0h6m59 0h6m48 0h6m167 0h5M268 717.5h5m60 0h10m33 0h5m6 0h10m17 0h10m33 0h5m135 0h6m32 0h5m17 0h5m11 0h5m27 0h6m5 0h5m76 0h5M144 708.5h5m5 0h6m54 0h5m38 0h5m238 0h5m87 0h5m38 0h5m11 0h11m5 0h17m5 0h5m184 0h5M154 699.5h6m124 0h5m38 0h6m16 0h5m43 0h11m168 0h10m103 0h5m44 0h5M192 690.5h6m5 0h5m54 0h6m70 0h5m108 0h11m49 0h5m49 0h5m33 0h5m16 0h6m5 0h5m157 0h5m22 0h5m22 0h5M122 679.5h5m17 0h5m49 0h5m92 0h5m22 0h5m43 0h11m33 0h5m70 0h6m27 0h5m27 0h5m38 0h6m10 0h6m70 0h11M306 670.5h5m92 0h11m54 0h10m195 0h5m49 0h5M127 659.5h11m60 0h5m157 0h5m70 0h11m22 0h5m49 0h5m38 0h5m38 0h5m17 0h10m11 0h6m5 0h5m22 0h5M127 650.5h6m97 0h5m11 0h6m10 0h6m43 0h16m6 0h5m43 0h6m27 0h5m22 0h5m11 0h5m11 0h5m49 0h5m119 0h6m10 0h6m21 0h6M149 641.5h5m98 0h10m98 0h5m22 0h5m16 0h6m108 0h5m54 0h5m92 0h6m5 0h11m16 0h5M122 632.5h5m33 0h5m222 0h5m81 0h5m119 0h11M122 621.5h5m6 0h5m43 0h11m49 0h11m48 0h6m16 0h5m33 0h5m22 0h5m43 0h6m5 0h16m11 0h5m27 0h6m16 0h11m81 0h5m70 0h6M133 612.5h5m38 0h5m76 0h5m92 0h6m16 0h5m38 0h5m6 0h11m54 0h5m27 0h5m44 0h5m43 0h6m54 0h5M160 601.5h5m33 0h5m124 0h6m118 0h6m27 0h5m11 0h5m211 0h5m184 0h5M133 592.5h5m76 0h5m38 0h5m22 0h5m44 0h5m97 0h6m5 0h5m22 0h5m49 0h5m71 0h5m11 0h5m49 0h5M225 583.5h5m351 0h5m27 0h6m5 0h6m27 0h5m5 0h11M133 574.5h5m16 0h6m5 0h6m75 0h6m5 0h5m22 0h5m17 0h10m38 0h6m32 0h5m54 0h6m59 0h6m21 0h6m91 0h6m32 0h6m54 0h5m108 0h5M138 563.5h6m37 0h6m16 0h5m38 0h6m81 0h5m16 0h6m43 0h5m70 0h6m5 0h6m108 0h5m27 0h5m22 0h5m11 0h6M127 554.5h6m102 0h6m48 0h6m27 0h5m92 0h5m6 0h5m27 0h11m27 0h11m48 0h6m102 0h6m21 0h6m27 0h5M154 543.5h6m11 0h5m11 0h5m43 0h6m48 0h6m32 0h6m43 0h11m21 0h6m113 0h5m38 0h6m48 0h6m37 0h6m97 0h5M154 534.5h11m65 0h5m81 0h6m5 0h6m5 0h5m11 0h6m59 0h5m22 0h5m17 0h5m38 0h5m60 0h5m81 0h5m60 0h5m6 0h5M127 525.5h6m5 0h6m21 0h6m37 0h6m5 0h6m102 0h6m86 0h5m130 0h5m17 0h5m43 0h6m21 0h6M376 516.5h5m168 0h5m54 0h5m38 0h6m5 0h5m38 0h6m16 0h5M203 505.5h5m98 0h10m11 0h6m5 0h5m11 0h6m10 0h6m48 0h6m65 0h10m22 0h5m27 0h6m151 0h5M127 496.5h6m92 0h10m6 0h5m33 0h5m22 0h5m22 0h5m27 0h5m211 0h5m17 0h16m27 0h5m119 0h5m22 0h5M219 485.5h11m32 0h6m11 0h5m16 0h6m10 0h6m5 0h6m16 0h5m16 0h6m97 0h11m129 0h11m114 0h5m135 0h5m22 0h5M127 476.5h6m129 0h6m27 0h5m146 0h5m27 0h11m38 0h5m146 0h6m54 0h5M133 467.5h5m70 0h6m16 0h5m11 0h11m227 0h5m22 0h5m114 0h5m92 0h5m173 0h5M214 458.5h5m81 0h6m97 0h5m27 0h6m27 0h5m11 0h5m22 0h5m135 0h6M262 447.5h6m38 0h5m16 0h6m10 0h6m11 0h10m17 0h5m11 0h5m49 0h5m6 0h5m38 0h11m102 0h6M127 438.5h6m16 0h5m54 0h11m108 0h11m22 0h5m5 0h6m129 0h6m102 0h6M127 427.5h6m16 0h5m38 0h6m27 0h5m81 0h5m92 0h6m81 0h5m81 0h5m81 0h6M154 418.5h6m27 0h5m60 0h5m65 0h5m22 0h5m130 0h5m16 0h6m5 0h6m113 0h5M381 409.5h6m27 0h5m22 0h5m16 0h6m5 0h5m108 0h11m11 0h5m38 0h6m5 0h5M122 400.5h5m38 0h6m351 0h5m11 0h5m54 0h6m37 0h6m11 0h5M127 389.5h6m75 0h6m65 0h5m38 0h5m33 0h5m5 0h6m16 0h5m60 0h5m43 0h6M165 380.5h6m27 0h5m92 0h5m60 0h5m119 0h11m221 0h5M122 369.5h5m49 0h5m152 0h5m113 0h6m11 0h5m103 0h5m16 0h6m10 0h11m70 0h6m178 0h5M165 360.5h6m37 0h6m113 0h6m5 0h5m11 0h11m65 0h5m27 0h6m21 0h11m54 0h5m22 0h5M122 351.5h5m179 0h10m65 0h6m48 0h6m59 0h5m22 0h5m27 0h6m5 0h6m48 0h6m21 0h6M176 342.5h5m98 0h5m11 0h5m135 0h6m48 0h11m135 0h5m98 0h5M133 331.5h5m16 0h6m48 0h6m48 0h6m16 0h5m54 0h6m38 0h5m5 0h6m97 0h5m33 0h5m65 0h5m71 0h5m5 0h6M144 322.5h5m5 0h6m11 0h5m70 0h6m54 0h5m108 0h5m71 0h5m5 0h11m16 0h6m21 0h6m27 0h5m22 0h5m43 0h6m21 0h6m16 0h5m130 0h5M122 311.5h5m173 0h6m43 0h5m49 0h5m43 0h6m38 0h5m16 0h11m22 0h10m11 0h6m151 0h5M176 302.5h5m71 0h5m5 0h6m70 0h5m103 0h5m6 0h5m60 0h16m86 0h6m43 0h5m70 0h6M176 293.5h5m6 0h5m135 0h6m48 0h6m10 0h6m38 0h5m38 0h11m70 0h5m6 0h5m16 0h6m64 0h6m32 0h6m5 0h5m103 0h5M127 284.5h6m5 0h6m43 0h5m22 0h11m21 0h6m32 0h5m6 0h11m86 0h5m98 0h5m97 0h11m16 0h6m54 0h5m70 0h6M160 273.5h5m22 0h5m76 0h5m43 0h6m16 0h5m54 0h6m11 0h5m16 0h11m59 0h11m38 0h5m27 0h6m38 0h5m59 0h6m16 0h5m38 0h6m5 0h5m157 0h5M149 264.5h5m17 0h5m11 0h5m22 0h5m243 0h6m32 0h5m33 0h5m16 0h6m11 0h5m54 0h5m11 0h6m5 0h5m11 0h6m10 0h6m48 0h6M160 253.5h5m38 0h5m6 0h5m65 0h5m54 0h6m189 0h5m11 0h5m87 0h5m22 0h5m92 0h5M154 244.5h6m11 0h10m38 0h6m5 0h11m48 0h6m5 0h6m91 0h6m156 0h6m65 0h5m43 0h6m21 0h6m48 0h6m140 0h5M165 235.5h6m5 0h5m65 0h6m32 0h11m11 0h5m11 0h5m22 0h5m6 0h5m221 0h11m11 0h5m27 0h6m81 0h5M262 226.5h6m43 0h5m81 0h6m108 0h5m11 0h5m27 0h6m65 0h5m70 0h6m5 0h5m38 0h6M149 215.5h5m17 0h5m22 0h5m59 0h6m32 0h6m27 0h10m76 0h5m38 0h6m48 0h6m48 0h6M192 206.5h6m21 0h6m16 0h5m43 0h6m5 0h6m70 0h5m114 0h5m11 0h5m11 0h5m22 0h5m49 0h5m11 0h6M122 195.5h5m49 0h5m98 0h5m38 0h5m114 0h5m32 0h6m54 0h5m54 0h6m16 0h5m135 0h6M127 186.5h6m81 0h5m27 0h11m5 0h11m76 0h5m54 0h6m27 0h5m81 0h5m49 0h5m6 0h5m254 0h5M246 177.5h6m16 0h5m157 0h5m38 0h5m60 0h11m86 0h11m48 0h6m70 0h5M225 168.5h5m38 0h5m81 0h6m5 0h5m6 0h5m33 0h5m38 0h5m43 0h6m81 0h5m70 0h6m54 0h5M133 157.5h5m43 0h6m113 0h6m108 0h5m11 0h5m81 0h6m75 0h6m81 0h5m27 0h5m6 0h5m65 0h5M149 148.5h5m6 0h5m178 0h11m43 0h6m38 0h5m38 0h5m76 0h5m33 0h5M230 137.5h5m81 0h6m86 0h16m33 0h5m27 0h6m10 0h6m65 0h5m43 0h6m275 0h5M230 128.5h5m44 0h5m76 0h5m97 0h6m91 0h6m5 0h6m54 0h10m11 0h6m48 0h6m221 0h5M122 119.5h5m17 0h5m76 0h5m11 0h11m27 0h5m5 0h6m27 0h5m33 0h5m38 0h5m33 0h5m5 0h6m135 0h5m60 0h5M225 110.5h5m76 0h5m38 0h5m49 0h5m43 0h11m103 0h5m49 0h5m27 0h6m48 0h6m5 0h5M149 99.5h5m71 0h5m54 0h5m216 0h6m16 0h5m44 0h10m49 0h5m6 0h5m16 0h6m11 0h5m5 0h6M154 90.5h6m27 0h5m11 0h5m103 0h5m27 0h6m11 0h5m65 0h5m27 0h6m64 0h6m21 0h6m48 0h6M138 85.5h6m75 0h6m151 0h5m38 0h5m27 0h6m5 0h6m48 0h6m27 0h5m54 0h5m17 0h5m43 0h6"/>
<path stroke="#481a6c" stroke-width="2" d="M408 788h6M408 781h6M414 779h5m221 0h6M262 777h6m38 0h5M300 774h6m145 0h6m5 0h6M608 772h5M462 770h6M268 768h5M154 761h6m81 0h5m173 0h5m17 0h5m54 0h5m254 0h6M198 759h10m11 0h6m48 0h6m81 0h5m194 0h6m86 0h11m86 0h6M154 756h6m75 0h6m38 0h5m113 0h6m70 0h5m65 0h6m5 0h5m17 0h5m22 0h5m27 0h5m44 0h5M154 754h6m38 0h5m103 0h10m44 0h5m70 0h11m108 0h5m92 0h6M214 752h5m16 0h6m38 0h5m65 0h5m16 0h6m102 0h6m21 0h6m11 0h5m151 0h6m21 0h6m5 0h5m17 0h5m27 0h5m49 0h5M252 750h5m124 0h6m124 0h5m43 0h6m21 0h6m38 0h5m59 0h6m38 0h5m5 0h6M149 747h5m11 0h6m10 0h6m5 0h6m10 0h6m59 0h6m10 0h6m21 0h6m5 0h6m59 0h5m103 0h5m60 0h5m6 0h5m43 0h6m21 0h6m16 0h5m27 0h6m59 0h5M122 745h5m98 0h5m16 0h6m59 0h5m65 0h6m108 0h5m54 0h5m22 0h5m38 0h6m16 0h5m22 0h5m60 0h5M262 743h6m38 0h5m108 0h5m125 0h5M127 741h6m5 0h6m21 0h11m5 0h6m43 0h5m38 0h6m16 0h5m49 0h5m11 0h5m71 0h5m119 0h5m76 0h5m6 0h5M149 739h5m38 0h6m270 0h5m92 0h11m64 0h6m70 0h5M127 736h6m16 0h5m76 0h5m6 0h5m54 0h6m21 0h6m5 0h11m65 0h5m5 0h6m97 0h5m49 0h5m44 0h5m16 0h6m16 0h5M171 734h5m65 0h5m81 0h6m183 0h6m226 0h6M154 732h6m86 0h6m183 0h6m32 0h5m54 0h6M122 730h5m11 0h6m59 0h5m22 0h5m162 0h6m11 0h5m11 0h5m38 0h5m157 0h11m5 0h6M144 727h5m54 0h5m81 0h6m32 0h6m48 0h6m75 0h6m75 0h6m81 0h5m38 0h5m70 0h6m70 0h5M160 725h5m97 0h11m254 0h5m65 0h11m5 0h6m75 0h6M122 723h5m33 0h5m76 0h5m27 0h6m16 0h5m65 0h5m54 0h11m6 0h5m49 0h5m140 0h6m124 0h5M181 721h6m86 0h6m10 0h6m194 0h6m21 0h6m43 0h5M127 719h6m43 0h11m11 0h5m32 0h6m59 0h11m70 0h6m43 0h5m157 0h5m11 0h11m38 0h5M138 716h6m21 0h6m48 0h11m49 0h5m103 0h5m22 0h5m43 0h6m21 0h6m32 0h5m27 0h22m76 0h5m27 0h5m157 0h5M225 714h5m76 0h5m16 0h11m11 0h5m27 0h6m91 0h6m11 0h5m97 0h6m70 0h5m6 0h5m70 0h6M149 712h5m27 0h6m92 0h16m21 0h6m48 0h6m11 0h5m130 0h5m49 0h10m292 0h5M171 710h5m11 0h5m119 0h5m119 0h6m37 0h6m48 0h6m178 0h5m184 0h5M203 707h5m6 0h5m157 0h5m103 0h5m33 0h5m135 0h5m211 0h5m49 0h5M176 705h5m152 0h5m130 0h5m70 0h6m10 0h6m140 0h6M165 703h6m32 0h5m22 0h5m60 0h5m33 0h5m54 0h11m97 0h5m38 0h6m10 0h6m59 0h6m10 0h6m286 0h5M122 701h5m92 0h6m5 0h5m108 0h6m16 0h5m11 0h6m10 0h6m102 0h6m86 0h6m5 0h5m27 0h6m16 0h5m184 0h5m22 0h5M127 698h6m92 0h5m43 0h6m10 0h6m16 0h5m71 0h5m16 0h6m59 0h5m17 0h10m81 0h6m86 0h6m32 0h5M235 696h6m102 0h6m81 0h5m114 0h5m11 0h5m43 0h11m38 0h5m11 0h6M133 694h5m141 0h5m22 0h5m86 0h6m27 0h5m60 0h5m38 0h5m103 0h5m254 0h5m22 0h5M154 692h11m33 0h5m65 0h5m27 0h6m48 0h6m21 0h6m151 0h5m33 0h5m65 0h5m97 0h6m5 0h6m5 0h5M154 689h6m27 0h5m54 0h6m151 0h5m6 0h5m5 0h6m16 0h5m17 0h5m32 0h6m129 0h6m81 0h5m27 0h6m86 0h5M160 687h5m27 0h6m5 0h5m49 0h5m54 0h6m16 0h5m76 0h5m27 0h6m38 0h5m32 0h6M133 685h5m54 0h6m21 0h6m91 0h6m162 0h5m6 0h5m86 0h6m92 0h5M208 683h6m16 0h5m38 0h6m108 0h5m140 0h6m286 0h5M122 681h5m152 0h5m232 0h6m5 0h5m38 0h6m5 0h11m43 0h5m54 0h6m70 0h5m130 0h5M122 678h5m130 0h5m65 0h6m5 0h5m60 0h5m27 0h6m21 0h6m97 0h5m281 0h5M208 676h6m32 0h11m32 0h6m86 0h6m59 0h5m17 0h5m157 0h5m32 0h6m5 0h11m189 0h5M219 674h6m124 0h11m178 0h5m130 0h5M160 672h5m87 0h5m151 0h6m97 0h5m6 0h5m119 0h5M138 669h6m27 0h5m167 0h6m65 0h5m97 0h6m16 0h5m16 0h6m65 0h5m216 0h5M235 667h6m156 0h11m87 0h5m59 0h6m81 0h11m70 0h5M198 665h5m76 0h5m49 0h10m54 0h6m11 0h5m59 0h6m32 0h6m48 0h6m32 0h5m6 0h16m70 0h6M171 663h5m59 0h6m92 0h5m22 0h5m5 0h6m48 0h6m108 0h5m216 0h6m140 0h5M149 661h5m189 0h6m43 0h5m189 0h6m38 0h5m38 0h11M192 658h6m5 0h5m33 0h5m43 0h6m21 0h6m167 0h6m102 0h6m86 0h5M127 656h6m32 0h6m129 0h6m81 0h5m32 0h6m200 0h5m49 0h5m38 0h5M133 654h5m11 0h5m17 0h5m16 0h6m10 0h6m86 0h11m108 0h5m98 0h5m11 0h5m97 0h6m5 0h6m113 0h5m76 0h5M176 652h5m17 0h5m16 0h6m91 0h6m5 0h6m16 0h5m65 0h5m65 0h11m76 0h5m38 0h11M360 649h5m38 0h5m22 0h5m54 0h6m43 0h5m54 0h6m43 0h5m33 0h5m5 0h6m48 0h6M122 647h11m43 0h5m11 0h6m27 0h5m32 0h6m75 0h6m5 0h6m86 0h5m6 0h11m37 0h6m21 0h6m59 0h6m48 0h6m10 0h6m11 0h10m184 0h5M192 645h6m102 0h6m5 0h5m27 0h6m11 0h5m70 0h6m48 0h6m54 0h5m97 0h6m21 0h6M122 643h5m11 0h6m135 0h5m11 0h5m92 0h11m27 0h11m16 0h5m6 0h5m113 0h6m86 0h6m5 0h5M122 640h5m49 0h5m87 0h5m38 0h5m17 0h5m27 0h5m65 0h6m86 0h5m49 0h5m22 0h5m11 0h6m43 0h5m70 0h6M133 638h5m49 0h5m103 0h5m49 0h5m65 0h5m11 0h6m16 0h5m6 0h5m11 0h5m60 0h5m81 0h5m38 0h6m32 0h5M138 636h6m113 0h5m103 0h5m33 0h5m6 0h5m184 0h5m22 0h5m27 0h5m38 0h6m5 0h5m130 0h5M214 634h5m33 0h10m81 0h6m5 0h6m59 0h11m54 0h5m33 0h5m22 0h5m97 0h6m16 0h5M138 631h6m86 0h5m98 0h10m33 0h5m54 0h6m118 0h6m5 0h6m48 0h6m221 0h5M138 629h6m70 0h5m27 0h6m10 0h6m43 0h5m81 0h6m38 0h5m11 0h5m60 0h10m114 0h5m16 0h6m65 0h5m5 0h6M208 627h6m11 0h5m22 0h5m65 0h5m97 0h11m11 0h5m6 0h5m38 0h5m27 0h11m11 0h16m119 0h5M122 625h5m27 0h6m11 0h5m119 0h5m22 0h5m33 0h5m27 0h5m17 0h5m5 0h6m21 0h6m54 0h5m87 0h5m32 0h6M122 623h5m11 0h11m11 0h5m16 0h6m54 0h5m124 0h6m102 0h6m16 0h5m38 0h6m16 0h5m124 0h6m70 0h5M160 620h5m11 0h5m11 0h6m210 0h6m64 0h6m48 0h6m200 0h5M149 618h11m21 0h6m102 0h6m54 0h5m81 0h6m5 0h5m92 0h6m5 0h5m44 0h10m22 0h5M171 616h5m97 0h6m16 0h5m11 0h5m54 0h6m11 0h16m162 0h5m60 0h5m43 0h6m43 0h5m119 0h5M171 614h5m49 0h5m16 0h6m16 0h5m33 0h5m81 0h5m17 0h5m22 0h5m70 0h6m10 0h6m27 0h5m6 0h5m16 0h6m10 0h6m38 0h5M165 611h6m64 0h6m21 0h6m54 0h5m92 0h5m49 0h5m81 0h11m65 0h5m17 0h5m32 0h6m97 0h5m22 0h5M176 609h5m71 0h5m38 0h5m11 0h5m33 0h5m33 0h5m22 0h10m38 0h6m64 0h11m114 0h5m43 0h6m140 0h5M165 607h6m43 0h5m65 0h5m60 0h5m49 0h5m65 0h5m11 0h6m64 0h6m16 0h5m11 0h11m5 0h6M165 605h6m10 0h6m5 0h6m21 0h6m16 0h5m6 0h5m108 0h5m130 0h5m6 0h11m43 0h5m6 0h5M138 603h6m16 0h5m49 0h5m43 0h6m43 0h5m17 0h5m5 0h6m27 0h5m43 0h6m16 0h5m87 0h11m108 0h5m16 0h6M181 600h6m11 0h5m86 0h6m11 0h5m16 0h6m27 0h5m5 0h6m119 0h5m27 0h5m17 0h5m5 0h6m11 0h5m86 0h6m54 0h5m16 0h6m5 0h6M122 598h11m108 0h5m76 0h11m27 0h5m43 0h6m21 0h11m32 0h6m11 0h16m27 0h5m11 0h5m54 0h11m124 0h6M154 596h6m178 0h11m16 0h5m152 0h5m146 0h5M138 594h6m151 0h5m81 0h6m10 0h6m92 0h5m32 0h11m22 0h5m108 0h6m5 0h5M176 591h5m33 0h5m27 0h6m5 0h5m49 0h5m60 0h5m135 0h6m91 0h6m38 0h5m108 0h5M127 589h6m21 0h6m59 0h6m124 0h5m43 0h6m97 0h5m11 0h6m48 0h6m75 0h6m48 0h6m194 0h5M122 587h5m146 0h6m54 0h5m59 0h6m16 0h5m76 0h5m44 0h5m11 0h5m65 0h5m76 0h5M230 585h5m98 0h5m92 0h5m119 0h5m114 0h5m11 0h5m103 0h5M122 582h11m21 0h6m21 0h6m108 0h11m21 0h6m70 0h5m38 0h5m11 0h6m16 0h5m60 0h5M133 580h5m92 0h5m38 0h6m43 0h5m43 0h6m5 0h6m48 0h6m16 0h5m33 0h5m27 0h5m108 0h6m43 0h5m33 0h5M138 578h6m16 0h5m43 0h11m216 0h6m5 0h5m130 0h5m54 0h11m119 0h5M149 576h5m22 0h5m11 0h6m54 0h5m49 0h5m5 0h6m11 0h5m76 0h5m140 0h6M198 573h5m49 0h5m54 0h11m70 0h5m162 0h6m11 0h5m49 0h10m17 0h5m32 0h6M149 571h5m44 0h5m76 0h5m22 0h5m16 0h6m27 0h5m76 0h5m38 0h5m11 0h11m5 0h6m102 0h11m92 0h5m16 0h6M176 569h5m141 0h5m6 0h5m11 0h5m16 0h6m27 0h5m6 0h5m11 0h5m92 0h5m22 0h5m157 0h5m17 0h5M171 567h5m146 0h5m92 0h5m22 0h11m119 0h5m27 0h5m76 0h5m65 0h6m59 0h5M171 565h5m16 0h6m102 0h6m16 0h5m38 0h5m92 0h6m140 0h5m11 0h6m10 0h6m70 0h5m6 0h5M154 562h6m108 0h5m38 0h5m11 0h6m75 0h6m21 0h6m21 0h6m221 0h5m54 0h6M138 560h6m10 0h6m86 0h6m64 0h6m48 0h6m21 0h11m38 0h5m6 0h5m65 0h5m141 0h5M176 558h5m71 0h10m87 0h5m22 0h5m33 0h5m81 0h5m265 0h5m103 0h5M160 556h5m27 0h6m37 0h6m48 0h6m11 0h5m76 0h5m81 0h5m27 0h6m248 0h6M208 553h11m33 0h5m124 0h6m54 0h5m43 0h6m43 0h5m119 0h5m27 0h6m151 0h5M122 551h5m22 0h5m11 0h6m43 0h5m16 0h6m75 0h6m5 0h6m48 0h11m11 0h5m124 0h6m113 0h6m16 0h5m38 0h5m76 0h5M165 549h6m16 0h5m11 0h5m38 0h6m10 0h6m32 0h6m108 0h5m108 0h5m65 0h6m5 0h11m27 0h5m227 0h5M149 547h5m76 0h5m22 0h5m27 0h6m92 0h5m5 0h6m97 0h5M144 545h5m32 0h6m59 0h6m37 0h6m38 0h5m32 0h6m70 0h5m11 0h6m43 0h5m168 0h10m54 0h6m70 0h5M225 542h5m11 0h5m6 0h5m16 0h6m16 0h5m16 0h6m38 0h5m49 0h5m146 0h5m38 0h5m265 0h5M176 540h5m60 0h5m11 0h5m65 0h6m113 0h5m22 0h5m44 0h5m16 0h6m27 0h5m243 0h5M122 538h5m33 0h5m22 0h5m76 0h5m22 0h5m60 0h5m16 0h6m21 0h11m54 0h5m38 0h6m5 0h5m44 0h5m5 0h6m11 0h5m16 0h6m194 0h5M138 536h6m118 0h6m59 0h6m21 0h6m129 0h6m10 0h6m151 0h5m184 0h5M133 533h5m27 0h6m10 0h11m157 0h5m16 0h6m70 0h5m152 0h5m70 0h11m16 0h6m194 0h5M133 531h5m38 0h5m65 0h6m86 0h5m152 0h10m60 0h5m6 0h5m65 0h5m254 0h5M149 529h5m270 0h6m48 0h17m27 0h5m16 0h11m22 0h5m86 0h6m32 0h6M138 527h6m16 0h5m92 0h5m54 0h6m81 0h5m178 0h6m232 0h5M127 524h6m119 0h5m70 0h6m108 0h5m22 0h5m108 0h5m6 0h5m22 0h5m114 0h5m108 0h5M192 522h6m43 0h11m70 0h5m16 0h6m16 0h5m114 0h5m92 0h5m119 0h6m113 0h5M127 520h6m27 0h11m10 0h6m16 0h5m292 0h5m6 0h11m10 0h6m108 0h5m65 0h5M176 518h5m76 0h5m11 0h6m102 0h11m205 0h11m38 0h5m11 0h5m130 0h5M154 515h6m5 0h6m37 0h11m92 0h5m38 0h6m10 0h6m16 0h5m6 0h5m103 0h11m10 0h6M122 513h5m17 0h5m11 0h5m22 0h5m27 0h6m97 0h5m33 0h5m59 0h6m86 0h11m27 0h5m76 0h5M225 511h5m65 0h5m33 0h5m27 0h5m292 0h5m38 0h6M160 509h5m27 0h6m102 0h11m22 0h5m5 0h6m70 0h5m92 0h6m32 0h5m238 0h5M149 507h5m6 0h5m16 0h6m5 0h6m21 0h6m21 0h6m27 0h5m86 0h6m16 0h5m27 0h6m11 0h5m65 0h5m6 0h5m59 0h6m5 0h6m81 0h5m243 0h5M176 504h5m17 0h5m5 0h6m16 0h5m17 0h5m200 0h5m33 0h5m65 0h5m70 0h6m11 0h5m54 0h5M214 502h5m11 0h5m44 0h5m76 0h5m22 0h5m43 0h6m5 0h5m17 0h5m27 0h5m49 0h5m87 0h5m33 0h5m243 0h5M181 500h11m43 0h6m75 0h6m5 0h6m16 0h5m130 0h11m156 0h6m10 0h6m11 0h5M127 498h6m167 0h6m86 0h5m11 0h6m5 0h5m6 0h5m151 0h6m21 0h6M268 495h16m38 0h5m49 0h5m124 0h11m76 0h11m248 0h5M138 493h6m70 0h5m22 0h5m81 0h6m37 0h6m48 0h6m92 0h5m11 0h5m27 0h6m59 0h5m38 0h6M203 491h5m6 0h5m33 0h5m27 0h5m71 0h5m11 0h11m27 0h5m130 0h5m49 0h5m243 0h5M138 489h6m10 0h6m59 0h6m64 0h6m16 0h11m16 0h5m65 0h6m64 0h6m200 0h5M149 487h5m11 0h6m16 0h5m16 0h6m11 0h5m103 0h5m11 0h5m6 0h5m11 0h5m33 0h5m54 0h5m6 0h5m11 0h5m103 0h11m16 0h11m43 0h5m157 0h5M241 484h5m11 0h5m38 0h6m59 0h5m60 0h5m130 0h5m6 0h5m103 0h5m16 0h6m5 0h5m157 0h5M127 482h6m27 0h5m27 0h6m37 0h6m11 0h5m5 0h6m119 0h5m43 0h6m54 0h5m70 0h11m351 0h5M144 480h5m97 0h6m32 0h5m11 0h6m16 0h5m6 0h5m32 0h6m54 0h5m43 0h6m5 0h6m102 0h6m16 0h5m200 0h5m22 0h5m22 0h5M208 478h6m11 0h5m38 0h5m97 0h6m16 0h5m11 0h6m10 0h6m21 0h6m21 0h6m11 0h5m54 0h5m22 0h5m65 0h6M154 475h6m216 0h5m16 0h11m6 0h5m16 0h11m189 0h5m157 0h5m76 0h5M144 473h5m167 0h6m32 0h6m10 0h6m178 0h5m114 0h5M133 471h11m16 0h5m11 0h5m22 0h11m59 0h6m124 0h5m27 0h6m43 0h11m91 0h6m5 0h6m64 0h6m5 0h6m75 0h6m167 0h5M144 469h5m32 0h6m75 0h6m5 0h6m32 0h5m33 0h5m22 0h5m130 0h5m16 0h6m59 0h6m10 0h6M246 466h6m27 0h5m49 0h10m11 0h6m10 0h6m48 0h6m102 0h6m167 0h6m37 0h6M160 464h5m16 0h6m5 0h6m32 0h5m44 0h16m43 0h5m33 0h5m16 0h6m16 0h5m98 0h5m157 0h5M133 462h5m6 0h5m49 0h5m11 0h5m211 0h5m65 0h5m141 0h5m43 0h6M214 460h5m49 0h5m33 0h5m49 0h5m167 0h6m59 0h6M133 457h11m5 0h11m92 0h5m194 0h6m92 0h5m38 0h5m54 0h6m59 0h5M133 455h11m10 0h6m21 0h11m43 0h6m129 0h6m21 0h6m27 0h5m22 0h5m6 0h5m43 0h6m54 0h5m27 0h5m60 0h5m16 0h6m48 0h6M214 453h5m54 0h6m5 0h11m48 0h6m16 0h5m22 0h5m22 0h5m6 0h5m43 0h6m38 0h5m38 0h5m22 0h5m254 0h5M127 451h6m27 0h5m87 0h5m97 0h6m16 0h5m11 0h5m6 0h5m54 0h6m81 0h5m54 0h5m60 0h5M235 449h6m11 0h5m103 0h5m173 0h5m54 0h6m21 0h6m16 0h5m6 0h5M154 446h6m32 0h6m59 0h5m11 0h6m32 0h5m216 0h6m146 0h5m16 0h6M289 444h6m54 0h5m119 0h5m17 0h5m38 0h5m65 0h5m49 0h5M187 442h5m43 0h6m59 0h6m194 0h5m17 0h5m76 0h10m22 0h5m6 0h5m16 0h6m32 0h6m5 0h5m17 0h5M149 440h5m27 0h6m92 0h5m124 0h6m10 0h6m5 0h6m37 0h6m27 0h5m81 0h6m27 0h5M122 437h5m6 0h5m11 0h5m81 0h6m16 0h5m11 0h6m27 0h5m81 0h11m81 0h5m38 0h5m33 0h5m65 0h5m44 0h16m59 0h6m32 0h5M122 435h5m71 0h5m49 0h10m54 0h6m75 0h6m5 0h6m91 0h6m43 0h5m65 0h6m108 0h5M208 433h11m43 0h6m11 0h5m11 0h5m33 0h5m38 0h5m87 0h5m97 0h6m16 0h16m59 0h6M365 431h5m11 0h11m38 0h11m97 0h5m54 0h6m81 0h5m162 0h5M144 429h5m86 0h6m54 0h5m6 0h10m17 0h5m65 0h11m37 0h6m59 0h6m21 0h6m16 0h5m49 0h5m6 0h5m59 0h6M149 426h5m22 0h5m22 0h5m108 0h6m108 0h5m33 0h5m22 0h5m38 0h5m76 0h5M127 424h6m124 0h5m103 0h5m65 0h6m189 0h5m16 0h6m5 0h5m17 0h5m81 0h5m103 0h5M192 422h6m5 0h5m22 0h5m27 0h6m173 0h10m33 0h5m16 0h11m54 0h6m21 0h6m54 0h5m16 0h6m113 0h5M122 420h5m54 0h6m5 0h6m102 0h6m64 0h6m16 0h5m22 0h5m162 0h6m11 0h5m43 0h6m32 0h11m16 0h5m6 0h5M138 417h6m54 0h5m11 0h5m43 0h6m151 0h5m125 0h5m22 0h5m32 0h11m27 0h6M171 415h10m81 0h6m102 0h6m27 0h5m16 0h6m48 0h11m27 0h6m59 0h5m11 0h6m91 0h6m5 0h6M225 413h5m97 0h6m86 0h5m65 0h6m97 0h5m49 0h5m27 0h6M268 411h5m70 0h6m16 0h5m6 0h5m11 0h5m114 0h11m43 0h5m49 0h5m11 0h5m27 0h6M122 408h5m114 0h5m54 0h6m5 0h5m76 0h5m87 0h5m22 0h5m33 0h5m76 0h5m5 0h6m59 0h6M154 406h6m11 0h5m59 0h11m16 0h6m32 0h6m156 0h6m5 0h5m17 0h5m151 0h16m11 0h11M181 404h6m70 0h5m179 0h5m38 0h5m103 0h5m6 0h5m59 0h6m11 0h5M144 402h5m92 0h5m27 0h6m21 0h6m10 0h11m11 0h5m27 0h6m27 0h5m65 0h5m65 0h6m140 0h5M149 399h5m44 0h5m16 0h6m37 0h6m5 0h6m16 0h5m6 0h5m11 0h5m38 0h5m146 0h6m118 0h11m11 0h5m17 0h5M230 397h5m87 0h5m43 0h11m38 0h5m22 0h5m6 0h5m87 0h5m11 0h5m81 0h6m27 0h5m243 0h5M176 395h5m108 0h6m11 0h5m54 0h5m49 0h5m60 0h11m5 0h5m81 0h6m27 0h5m254 0h5M133 393h11m54 0h5m22 0h5m38 0h5m27 0h6m27 0h5m270 0h5m27 0h6m113 0h6M160 391h5m60 0h5m5 0h6m70 0h5m33 0h5m6 0h5m146 0h5m16 0h6m102 0h6m32 0h6m54 0h5M181 388h6m54 0h5m27 0h11m119 0h11m37 0h6m5 0h6m27 0h5m135 0h5m38 0h6m43 0h5m16 0h6M144 386h5m5 0h6m70 0h5m195 0h5m146 0h5m65 0h6m21 0h11m5 0h6M154 384h6m43 0h5m22 0h5m44 0h5m54 0h5m27 0h6m32 0h6m48 0h6m5 0h5m6 0h5m33 0h5M214 382h5m54 0h6m48 0h11m49 0h5m11 0h11m70 0h5m6 0h5m43 0h6m75 0h6m43 0h5m173 0h5M171 379h10m27 0h6m21 0h6m48 0h6m16 0h5m38 0h6m16 0h5m6 0h5m59 0h6m5 0h6m10 0h6m38 0h10m17 0h5m216 0h5M181 377h6m32 0h6m16 0h5m6 0h5m5 0h11m146 0h5m33 0h5m11 0h5m184 0h5m17 0h16M214 375h11m43 0h5m87 0h5m54 0h11m5 0h6m32 0h5m6 0h5m11 0h5m17 0h5m32 0h6m11 0h5m11 0h5m33 0h5m81 0h5M127 373h11m38 0h5m33 0h5m38 0h5m65 0h11m92 0h5m60 0h5m5 0h6m16 0h5m22 0h5m92 0h6M171 371h5m70 0h6m10 0h6m5 0h6m32 0h5m108 0h6m43 0h5m33 0h5M165 368h6m70 0h5m65 0h5m22 0h5m168 0h5m11 0h5m38 0h6m59 0h5m11 0h6m21 0h6m32 0h5m103 0h5m49 0h5M122 366h5m11 0h6m48 0h6m59 0h5m92 0h6m5 0h5m60 0h5m6 0h5m59 0h6m27 0h5m11 0h16m168 0h5m135 0h5M192 364h6m43 0h5m11 0h5m17 0h5m11 0h5m114 0h10m54 0h11m54 0h6m118 0h6M154 362h6m38 0h10m17 0h5m11 0h5m11 0h11m38 0h5m59 0h6m86 0h6m75 0h6m221 0h5M165 359h6m37 0h6m5 0h6m75 0h6m16 0h11m48 0h6m226 0h6m5 0h6m37 0h6m259 0h5M149 357h11m48 0h6m140 0h6m10 0h6m5 0h6m5 0h5m38 0h6m32 0h5m22 0h5m38 0h6m43 0h5m6 0h5m97 0h6M219 355h6m37 0h6m70 0h5m6 0h5m16 0h6m16 0h5m11 0h6m27 0h10m11 0h6m21 0h6m5 0h5m71 0h5m27 0h5M235 353h6m129 0h6m16 0h5m60 0h5m157 0h5m54 0h6m5 0h5M241 350h5m70 0h6m151 0h5m11 0h6m54 0h5m5 0h6m32 0h6m329 0h5M133 348h5m11 0h5m54 0h6m86 0h6m54 0h5m22 0h5m54 0h5m44 0h5m167 0h6m5 0h6m32 0h5m38 0h6m167 0h5M122 346h5m6 0h5m43 0h6m32 0h6m16 0h5m11 0h5m33 0h5m114 0h5m22 0h5m54 0h5m6 0h11m129 0h6m21 0h6M165 344h6m43 0h5m33 0h5m22 0h10m65 0h6m43 0h5m254 0h5m38 0h6m27 0h5m189 0h5M349 341h5m49 0h5m6 0h10m17 0h5m59 0h6m65 0h5m43 0h6m54 0h5m38 0h5M127 339h6m135 0h5m33 0h5m16 0h6m5 0h5m11 0h6m10 0h6m27 0h5m11 0h5m27 0h6m167 0h6m32 0h5m6 0h5M154 337h6m16 0h5m27 0h6m70 0h11m75 0h6m27 0h5m11 0h5m33 0h5m162 0h6m43 0h11M252 335h10m6 0h5m27 0h6m32 0h5m27 0h6m43 0h5m6 0h5m33 0h5m103 0h5m27 0h5m38 0h6M165 333h6m54 0h10m33 0h5m103 0h5m11 0h11m11 0h5m5 0h6m11 0h5m22 0h5m5 0h6m146 0h5m16 0h6m91 0h6m178 0h5M219 330h6m5 0h11m43 0h5m49 0h5m49 0h5m22 0h5m54 0h6M252 328h5m194 0h6m162 0h5m70 0h6m48 0h6m16 0h5M214 326h5m76 0h5m103 0h5m130 0h5m11 0h5m6 0h5m60 0h10m33 0h5m38 0h5m27 0h6m43 0h5M171 324h5m119 0h5m16 0h6m167 0h6m10 0h6m21 0h11m65 0h16m6 0h5m11 0h5m22 0h5m11 0h5m33 0h5M122 321h5m33 0h5m70 0h6m86 0h6m32 0h5m6 0h11m27 0h5m130 0h5m70 0h6M181 319h6m124 0h5m292 0h5m49 0h5m60 0h5m27 0h6M149 317h5m87 0h11m10 0h6m5 0h6m70 0h11m32 0h5m22 0h5m54 0h6m81 0h5m11 0h5M154 315h6m248 0h6m5 0h5m11 0h6m16 0h11m75 0h6m27 0h5m54 0h5m27 0h6m11 0h5m108 0h5M165 313h6m48 0h6m32 0h5m6 0h5m11 0h5m49 0h5m11 0h6m64 0h6m5 0h6m16 0h5m70 0h6m59 0h6m21 0h6m32 0h5m92 0h6M133 310h5m22 0h5m65 0h5m6 0h5m27 0h6m48 0h6m32 0h5m6 0h5m173 0h11M133 308h5m43 0h6m81 0h5m33 0h10m27 0h6m32 0h6m32 0h5m6 0h5m92 0h5m60 0h5m22 0h5m70 0h6M149 306h5m27 0h6m38 0h5m140 0h6m21 0h6m108 0h5m11 0h5m44 0h5m124 0h6M149 304h5m38 0h6m16 0h5m87 0h5m11 0h5m200 0h5m6 0h5m43 0h6m11 0h5m65 0h5m146 0h5M198 301h10m38 0h6m21 0h6m43 0h5m135 0h6m64 0h6m43 0h5m81 0h6m43 0h5m6 0h5M149 299h5m103 0h5m27 0h6m43 0h5m17 0h10m87 0h5m11 0h5m22 0h5m65 0h6m16 0h5m33 0h5m189 0h5M149 297h5m22 0h5m27 0h6m27 0h5m22 0h5m16 0h6m16 0h5m49 0h5m87 0h5m168 0h5m243 0h5M122 295h5m11 0h6m37 0h11m22 0h5m76 0h5m6 0h5m27 0h5m114 0h5m22 0h5m27 0h6m102 0h6m27 0h5M160 292h5m6 0h5m5 0h6m21 0h6m5 0h6m37 0h6m113 0h6m140 0h5m71 0h5m43 0h6m48 0h6M149 290h5m65 0h6m145 0h6m97 0h5m65 0h6m5 0h5m6 0h5m6 0h5m16 0h6m59 0h5m49 0h5m27 0h6m70 0h5M138 288h6m48 0h6m16 0h5m16 0h6m48 0h6m21 0h11m22 0h5m54 0h6m91 0h6m75 0h6m65 0h5m32 0h6m48 0h6m178 0h5M122 286h5m6 0h5m119 0h5m27 0h11m43 0h6m5 0h11m16 0h6m10 0h6m11 0h5m43 0h16m130 0h5m81 0h6m5 0h6M192 283h6m27 0h10m27 0h11m65 0h5m60 0h5m16 0h6m11 0h5m59 0h6m75 0h6m135 0h5m92 0h5M138 281h6m16 0h5m16 0h6m119 0h5m38 0h11m97 0h5m16 0h6m70 0h5m54 0h6m70 0h5m22 0h5M122 279h5m44 0h5m113 0h6m129 0h6m21 0h6m5 0h6m27 0h5m32 0h6m59 0h6m21 0h6m27 0h5M306 277h5m32 0h6m97 0h5m6 0h5m11 0h5m54 0h11m81 0h11m81 0h5m103 0h5M122 275h5m71 0h5m70 0h6m5 0h5m11 0h6m75 0h6m32 0h11m27 0h5m97 0h6m27 0h5m11 0h5m135 0h6m97 0h5M187 272h5m6 0h10m22 0h5m6 0h5m11 0h5m65 0h6m70 0h5m38 0h5m17 0h5m11 0h5m49 0h5m87 0h5m43 0h6m75 0h6m32 0h5m49 0h5M203 270h5m11 0h11m119 0h5m49 0h5m87 0h5m43 0h6m5 0h11m5 0h6m59 0h5m87 0h5M127 268h6m48 0h6m38 0h5m22 0h5m124 0h6m5 0h5m6 0h5m33 0h10m11 0h6m21 0h6m10 0h6m5 0h6m43 0h5m22 0h5m6 0h5m27 0h5M171 266h5m59 0h6m65 0h5m49 0h5m27 0h5m114 0h11M192 263h6m81 0h5m5 0h6m32 0h6m16 0h5m16 0h6m38 0h5m11 0h5m27 0h6m102 0h6m118 0h6m48 0h6M144 261h5m5 0h6m119 0h5m32 0h6m5 0h6m16 0h11m37 0h11m60 0h5m27 0h5m130 0h5m22 0h11M149 259h5m87 0h5m184 0h11m70 0h5m38 0h5m60 0h5m33 0h5m32 0h6m48 0h6m5 0h6M138 257h6m48 0h11m27 0h5m60 0h5m16 0h6m27 0h5m130 0h5m22 0h5m38 0h5m71 0h5M203 255h5m33 0h5m60 0h16m59 0h6m59 0h5m49 0h5m22 0h5m33 0h5m22 0h5m22 0h11M149 252h5m17 0h21m124 0h6m38 0h5m5 0h6m11 0h5m38 0h5m38 0h5m92 0h6m97 0h5M127 250h6m5 0h6m48 0h6m91 0h6m11 0h5m135 0h5m141 0h5m76 0h5M149 248h11m11 0h5m146 0h5m81 0h6m81 0h5m16 0h6m102 0h6m64 0h6M198 246h5m189 0h5m65 0h6m32 0h5m33 0h5m6 0h5m11 0h5m11 0h5m6 0h21m11 0h11m59 0h6m59 0h6M208 243h6m5 0h16m27 0h6m32 0h11m65 0h5m60 0h5m38 0h5m33 0h5m49 0h5m16 0h6m37 0h11m27 0h6m32 0h5m76 0h5M122 241h5m103 0h5m135 0h11m49 0h5m43 0h6m38 0h5m43 0h6m32 0h5m60 0h5m81 0h6m140 0h5M122 239h5m38 0h6m140 0h5m60 0h5m43 0h11m76 0h5m70 0h6m113 0h6M176 237h5m162 0h6m21 0h17m140 0h5m17 0h5m32 0h6m11 0h5m22 0h5M122 234h5m49 0h5m92 0h6m43 0h5m49 0h5m33 0h5m5 0h6m102 0h11m76 0h5m6 0h5m59 0h6M273 232h11m54 0h5m6 0h5m6 0h10m11 0h6m10 0h6m27 0h5m6 0h5m59 0h6m16 0h5m49 0h5m184 0h5M203 230h5m103 0h5m81 0h6m21 0h11m146 0h5m11 0h6m16 0h5M149 228h5m103 0h5m22 0h5m33 0h5m16 0h6m27 0h5m27 0h11m11 0h5m11 0h5m65 0h6m27 0h5m43 0h6m5 0h5m71 0h10m33 0h5M171 225h5m49 0h5m22 0h10m49 0h5m254 0h6m172 0h6m5 0h6m5 0h5M144 223h5m200 0h11m54 0h5m5 0h11m43 0h6m92 0h5m16 0h6m16 0h5m65 0h5m11 0h6M133 221h5m108 0h6m32 0h5m98 0h5m11 0h5m16 0h6m16 0h5m49 0h5m11 0h6m5 0h5m38 0h6m81 0h5M127 219h6m54 0h5m6 0h5m124 0h6m118 0h6m54 0h5m49 0h5m70 0h6m21 0h6M165 217h6m27 0h5m43 0h6m21 0h6m10 0h6m5 0h6m86 0h5m162 0h6m38 0h5m22 0h5m38 0h5M176 214h5m206 0h5m22 0h5m38 0h11m32 0h5m38 0h6m43 0h5m33 0h5m59 0h6M149 212h5m11 0h6m27 0h5m16 0h6m86 0h16m54 0h6m32 0h5m44 0h5m27 0h5m44 0h5m32 0h6m48 0h6m59 0h6M225 210h5m124 0h6m16 0h5m124 0h6m21 0h6m5 0h6m54 0h10m11 0h6m27 0h5m270 0h5M144 208h5m5 0h6m5 0h6m32 0h5m76 0h5m38 0h6m5 0h11m38 0h5m86 0h11m6 0h5m16 0h6m302 0h5m22 0h5M127 205h6m38 0h5m11 0h5m87 0h5m232 0h6m54 0h5m5 0h6m156 0h6M370 203h6m81 0h5m16 0h6m27 0h5m11 0h5m125 0h5m27 0h5m65 0h6M219 201h6m81 0h5m32 0h6m48 0h6m11 0h5m27 0h5m27 0h6m5 0h6m5 0h5m27 0h6m11 0h5m162 0h5m6 0h5m16 0h6M138 199h6m64 0h6m38 0h5m16 0h6m43 0h11m43 0h5m173 0h5m49 0h5M144 197h5m16 0h6m10 0h6m21 0h6m16 0h5m98 0h5m59 0h11m92 0h5m44 0h5m184 0h5M133 194h5m33 0h5m5 0h6m27 0h5m54 0h6m21 0h6m102 0h6m48 0h6m10 0h6m11 0h5m16 0h6m5 0h5m60 0h5m49 0h5m11 0h5m11 0h6m86 0h5M171 192h10m38 0h6m97 0h5m22 0h5m60 0h5m108 0h5m17 0h5m5 0h6m43 0h11m59 0h11m49 0h5M241 190h5m16 0h6m48 0h6m5 0h6m10 0h6m5 0h6m102 0h6m10 0h6m32 0h6m48 0h6m97 0h11m32 0h5M252 188h5m16 0h6m97 0h5m87 0h5m54 0h5m346 0h5M171 185h5m38 0h5m76 0h5m38 0h5m11 0h6m37 0h6m11 0h5m86 0h6m11 0h5m32 0h6m81 0h5m38 0h5m11 0h6M138 183h6m5 0h5m114 0h5m54 0h6m37 0h6m70 0h5m22 0h5m11 0h6m37 0h6m16 0h5m17 0h5m5 0h6m16 0h5m17 0h5m103 0h5M133 181h5m22 0h5m27 0h6m210 0h6m172 0h6m16 0h5m11 0h6m48 0h6m5 0h5m33 0h5M527 179h5m157 0h5M198 176h5m119 0h5m43 0h6m16 0h5m71 0h5m76 0h21m6 0h5m22 0h5m16 0h6m140 0h5M149 174h5m60 0h5m49 0h5m6 0h10m173 0h6m102 0h6m21 0h6m59 0h5m103 0h5M171 172h5m54 0h5m81 0h6m189 0h5m49 0h5m38 0h5M122 170h5m33 0h5m157 0h11m32 0h5m71 0h5m81 0h5m33 0h5m103 0h5m200 0h5M122 167h5m49 0h5m38 0h6m10 0h6m5 0h6m81 0h5m11 0h5m49 0h11m113 0h5m27 0h11M214 165h5m54 0h6m16 0h5m54 0h6m10 0h6m5 0h6m54 0h5m27 0h5m38 0h6m64 0h6m65 0h5M225 163h5m389 0h5m43 0h6m5 0h6m54 0h5M149 161h5m17 0h5m76 0h16m102 0h11m49 0h11m16 0h5m33 0h5m194 0h6M138 159h6m32 0h5m38 0h6m86 0h5m6 0h5m70 0h6m75 0h6m27 0h5m16 0h6m43 0h5m6 0h5m27 0h6m275 0h5M127 156h6m5 0h6m102 0h6m118 0h6m5 0h6m37 0h6m156 0h6m16 0h5m27 0h6m21 0h6m65 0h5m5 0h6M127 154h6m21 0h6m59 0h6m97 0h5m16 0h6m11 0h5m11 0h5m11 0h5m44 0h5m38 0h16m70 0h6m108 0h5m16 0h6m16 0h5m200 0h5M322 152h11m10 0h6m75 0h6m65 0h5m119 0h5m227 0h5M127 150h11m16 0h6m38 0h10m11 0h6m16 0h5m11 0h5m76 0h5m54 0h6m86 0h6m37 0h17m59 0h5m65 0h11m5 0h6m16 0h5m38 0h6M160 147h5m38 0h5m60 0h5m22 0h5m178 0h6m146 0h5M203 145h5m27 0h6m54 0h5m33 0h5m38 0h5m11 0h5m11 0h6m97 0h11m275 0h5M133 143h5m92 0h5m87 0h5m97 0h6m43 0h5m65 0h6m64 0h6m16 0h5m44 0h5m189 0h5M122 141h5m11 0h6m32 0h5m71 0h5m65 0h5m16 0h11m76 0h5m49 0h5m6 0h5m103 0h10m49 0h5m17 0h5M144 139h5m16 0h6m118 0h6m38 0h10m38 0h6m5 0h5m11 0h6m27 0h5m200 0h5m6 0h5m5 0h11m6 0h5m70 0h6M144 136h5m38 0h5m11 0h5m38 0h6m27 0h5m38 0h5m33 0h5m65 0h5m11 0h5m17 0h5m97 0h6m75 0h6m81 0h5m27 0h5M133 134h5m27 0h6m27 0h5m43 0h6m10 0h6m81 0h5m76 0h5m108 0h11m173 0h5m65 0h5M122 132h5m6 0h5m43 0h6m32 0h6m140 0h5m17 0h5m5 0h6m11 0h5m108 0h5m11 0h6m43 0h5M198 130h5m43 0h6m16 0h5m65 0h5m135 0h6m21 0h6m5 0h11m11 0h5m6 0h5m22 0h10m38 0h6m54 0h5M252 127h10m6 0h5m6 0h5m146 0h5m27 0h6m54 0h5m49 0h5m97 0h6m113 0h5M122 125h5m33 0h5m141 0h5m135 0h5m11 0h6m43 0h5m16 0h6m135 0h5m16 0h6m178 0h5M138 123h6m10 0h11m114 0h5m38 0h5m22 0h5m27 0h6m129 0h6m32 0h11m32 0h6m27 0h5m92 0h5m16 0h6M187 121h5m114 0h5m27 0h5m49 0h5m11 0h6m86 0h5m22 0h5m157 0h11m70 0h5M225 118h5m146 0h5m11 0h5m44 0h10m60 0h5m6 0h5m5 0h11m70 0h6m48 0h6M176 116h5m11 0h6m48 0h6m37 0h6m32 0h6m43 0h5m22 0h5m70 0h6m86 0h6m21 0h6m81 0h5M127 114h6m70 0h5m49 0h5m49 0h5m27 0h6m156 0h6m75 0h6m27 0h5m92 0h5m17 0h5M295 112h5m22 0h5m33 0h5m65 0h5m16 0h6m43 0h5m87 0h5m22 0h11m108 0h5M138 109h6m5 0h5m27 0h6m5 0h6m43 0h5m22 0h5m27 0h6m16 0h5m60 0h5m5 0h11m22 0h5m16 0h6m38 0h5m27 0h5m38 0h6m16 0h5m65 0h5m103 0h5m130 0h5M144 107h5m22 0h5m32 0h6m27 0h5m92 0h5m92 0h6m27 0h5m5 0h6m156 0h6m21 0h6m5 0h11M122 105h5m44 0h10m81 0h6m21 0h6m162 0h5m11 0h11m21 0h6m75 0h6m65 0h5M214 103h5m22 0h5m6 0h5m113 0h6m59 0h6m43 0h5m114 0h5m81 0h5m157 0h5M279 101h5m22 0h5m5 0h6m43 0h11m48 0h6m16 0h5m6 0h5m11 0h5m81 0h6m16 0h5M138 98h6m27 0h5m11 0h5m43 0h6m21 0h6m119 0h5m146 0h5m60 0h5m5 0h6m5 0h6m10 0h6m21 0h6m54 0h5M122 96h5m49 0h11m43 0h5m22 0h5m54 0h6m16 0h5m71 0h5m49 0h5m92 0h5m60 0h5m38 0h5M138 94h6m27 0h5m54 0h5m227 0h6m27 0h10m54 0h6m21 0h6m43 0h11m59 0h6M144 92h5m54 0h5m22 0h5m54 0h6m16 0h5m22 0h5m6 0h5m16 0h11m16 0h6m48 0h6m27 0h5m11 0h5m49 0h5m81 0h6m38 0h5M203 89h5m11 0h6m16 0h5m22 0h5m11 0h5m54 0h6m108 0h5m65 0h5m60 0h5m27 0h6M122 87h5m49 0h5m6 0h5m6 0h5m11 0h11m5 0h5m11 0h6m102 0h6m297 0h5"/>
<path stroke="#482475" stroke-width="1" d="M262 795.5h6M214 775.5h5m43 0h6m372 0h6M208 766.5h6M214 757.5h5m65 0h5m98 0h5m108 0h5m92 0h6m27 0h5M144 748.5h5m49 0h5m16 0h6m70 0h5m43 0h6m5 0h6m178 0h5m11 0h5m27 0h11m6 0h5m5 0h6m119 0h5M138 737.5h6m21 0h6m97 0h5m54 0h16m6 0h5m54 0h6m81 0h5m16 0h6m140 0h5m49 0h5M154 728.5h6m32 0h6m59 0h16m60 0h5m49 0h5m27 0h5m54 0h6m16 0h5m11 0h6m10 0h6m38 0h5m92 0h5m81 0h6M122 717.5h5m189 0h6m43 0h5m27 0h11m54 0h6m10 0h6m32 0h6m81 0h5m162 0h5M127 708.5h6m86 0h6m27 0h5m59 0h6m119 0h10m87 0h11m5 0h5m54 0h6m21 0h6M235 699.5h6m11 0h5m65 0h5m27 0h6m32 0h5m17 0h5m5 0h6m65 0h5m92 0h5M122 690.5h5m125 0h5m22 0h5m16 0h6m43 0h11m64 0h6m43 0h5m38 0h6m10 0h6m16 0h5m27 0h6m27 0h5m33 0h5m11 0h5m11 0h5m22 0h5m17 0h5M160 679.5h5m81 0h6m54 0h5m146 0h5m65 0h5m54 0h6m11 0h5m11 0h5m54 0h6m43 0h5M133 670.5h5m119 0h5m22 0h5m38 0h6m10 0h6m5 0h6m75 0h6m5 0h11m21 0h6m70 0h5m71 0h5m5 0h6m21 0h6m32 0h6m140 0h5M138 659.5h6m48 0h6m70 0h11m10 0h6m27 0h5m43 0h6m11 0h10m76 0h5m17 0h5m70 0h6m21 0h6m135 0h5m54 0h5m103 0h5M208 650.5h6m59 0h6m10 0h6m97 0h11m81 0h5m27 0h6m70 0h5m33 0h5m43 0h6m32 0h5m27 0h6m5 0h6M133 641.5h5m6 0h5m11 0h5m108 0h6m5 0h5m54 0h6m65 0h5m81 0h11m135 0h5m173 0h5M154 632.5h6m70 0h5m33 0h5m43 0h6m32 0h6m54 0h5m5 0h6m108 0h5m70 0h11m60 0h5m49 0h5M154 621.5h6m59 0h6m43 0h5m130 0h5m87 0h5m86 0h6m75 0h6M171 612.5h5m38 0h5m114 0h5m32 0h6m16 0h5m216 0h6m75 0h6M144 601.5h5m43 0h6m27 0h5m27 0h5m60 0h5m54 0h6m32 0h5m11 0h6m21 0h11m65 0h5m16 0h6m11 0h5m16 0h6M219 592.5h6m27 0h5m319 0h5m5 0h6m75 0h6M122 583.5h5m173 0h6m54 0h5m65 0h5m16 0h11M192 574.5h6m37 0h6m75 0h6m81 0h5m70 0h11M176 563.5h5m11 0h6m16 0h5m54 0h6m172 0h6m70 0h5m76 0h5M181 554.5h6m16 0h5m17 0h5m124 0h6m118 0h11m27 0h6m64 0h11m38 0h5m119 0h6M424 543.5h11m65 0h5m108 0h6M181 534.5h6m5 0h6m145 0h6m59 0h6m64 0h6m16 0h11m38 0h5m54 0h5m92 0h6M144 525.5h5m97 0h6m10 0h6m11 0h5m22 0h5m146 0h5m6 0h5m76 0h5m5 0h6m27 0h5m6 0h10m17 0h5m22 0h5M154 516.5h6m113 0h6m5 0h5m114 0h5m76 0h5m16 0h6m11 0h5m86 0h6m178 0h5M176 505.5h5m38 0h6m64 0h6m38 0h5m54 0h5m227 0h6m5 0h5m38 0h6m64 0h6m43 0h5M154 496.5h6m21 0h6m5 0h11m11 0h5m38 0h5m27 0h6m5 0h6m21 0h6m21 0h6m21 0h6m145 0h6m27 0h5m16 0h6m65 0h5m22 0h5M176 485.5h5m22 0h5m114 0h5m87 0h5m43 0h6m37 0h6m38 0h5m27 0h5m6 0h5m81 0h6m5 0h5M138 476.5h11m16 0h16m27 0h6m38 0h5m103 0h5m5 0h11m11 0h5m17 0h5m16 0h6m48 0h11m43 0h6m10 0h6m5 0h6m54 0h5m32 0h6m43 0h5M149 467.5h5m125 0h5m32 0h6m32 0h11m59 0h6m38 0h5m97 0h6m43 0h5m227 0h5M144 458.5h5m59 0h6m48 0h6m54 0h5m65 0h5m179 0h5m65 0h5m108 0h6m5 0h5M122 447.5h5m22 0h5m11 0h6m16 0h5m76 0h5m157 0h5m92 0h5m38 0h6m10 0h6m48 0h6m5 0h6m10 0h6m16 0h5m44 0h5M133 438.5h5m43 0h6m16 0h5m49 0h5m44 0h5m70 0h11m70 0h6m32 0h5m22 0h5m141 0h5m27 0h6m59 0h5M262 427.5h6m48 0h6m38 0h5m32 0h6m97 0h5m65 0h11m16 0h6m48 0h6m91 0h6m97 0h5M198 418.5h5m140 0h6m92 0h5m130 0h5m16 0h6m16 0h5M122 409.5h5m17 0h5m43 0h6m16 0h5m16 0h6m32 0h6m43 0h5m81 0h6m210 0h16m49 0h5m76 0h5M149 400.5h5m227 0h6m5 0h5m11 0h6m10 0h6m5 0h6m162 0h5m22 0h5m70 0h6M160 389.5h5m65 0h5m22 0h5m92 0h6m5 0h5m54 0h6m65 0h5m27 0h5m38 0h6m37 0h6m65 0h5m49 0h5M144 380.5h5m43 0h6m16 0h5m22 0h5m11 0h5m162 0h6m5 0h6m75 0h6m108 0h5m162 0h5M149 369.5h5m44 0h5m22 0h5m27 0h5m33 0h5m11 0h5m54 0h6m32 0h6m10 0h6m11 0h5m16 0h6m124 0h5M144 360.5h5m49 0h5m32 0h11m173 0h11m70 0h5m114 0h5m22 0h5m22 0h5M133 351.5h5m27 0h11m22 0h5m16 0h6m27 0h5m16 0h6m10 0h6m32 0h6m81 0h5m5 0h6m81 0h11m70 0h5m92 0h5m11 0h6m221 0h5M149 342.5h5m49 0h5m135 0h6m75 0h11m43 0h11m178 0h11m27 0h6m16 0h5m38 0h5M122 331.5h5m22 0h5m22 0h5m11 0h6m172 0h6m43 0h5m60 0h5m60 0h5m27 0h5M300 322.5h6m108 0h5m5 0h6m5 0h6m10 0h11m60 0h5m59 0h6m32 0h6M171 311.5h5m43 0h6m16 0h5m16 0h11m54 0h6m32 0h5m49 0h11m183 0h6m11 0h5m16 0h6M187 302.5h5m6 0h5m227 0h5m54 0h6m54 0h5m22 0h5m54 0h5m98 0h5m135 0h5M171 293.5h5m5 0h6m27 0h5m33 0h5m65 0h5m27 0h6m16 0h5m211 0h5m54 0h6m5 0h5m17 0h5m108 0h5M160 284.5h11m86 0h5m173 0h6m48 0h6m10 0h17m54 0h5m11 0h5M133 273.5h5m11 0h5m60 0h5m33 0h5m22 0h5m178 0h6m91 0h6m183 0h6m43 0h5M133 264.5h5m270 0h6m10 0h6m92 0h5m5 0h6m75 0h6M138 253.5h6m48 0h6m70 0h5m76 0h5m27 0h6m48 0h6m91 0h6M149 244.5h5m6 0h5m22 0h11m64 0h11m200 0h5m125 0h5m32 0h6m70 0h5M122 235.5h5m65 0h6m97 0h5m33 0h5m32 0h6M133 226.5h5m162 0h6m43 0h5m60 0h5m5 0h6m16 0h5m17 0h5m5 0h6m21 0h6m162 0h11M165 215.5h6m37 0h6m27 0h5m76 0h5m16 0h6m124 0h11m21 0h6m54 0h5m43 0h6m59 0h6M122 206.5h5m108 0h6m27 0h5m124 0h6m75 0h6m32 0h6m54 0h10m6 0h5m65 0h5m71 0h5M165 195.5h6m32 0h5m33 0h5m6 0h5m54 0h5m108 0h6m32 0h6m81 0h5m5 0h6m16 0h5m65 0h6m16 0h5m60 0h5M160 186.5h5m6 0h10m17 0h5m27 0h5m60 0h5m6 0h10m60 0h5m33 0h5m113 0h6m32 0h11m43 0h6m97 0h5M133 177.5h5m60 0h5m27 0h5m22 0h5m76 0h5m17 0h5m32 0h6m32 0h6m16 0h5m103 0h5m22 0h5m6 0h5m130 0h5M198 168.5h5m27 0h5m65 0h6m16 0h5m22 0h5m16 0h6m27 0h5m11 0h11m129 0h6m59 0h6M187 157.5h5m6 0h5m86 0h6m92 0h5m130 0h5m81 0h16m27 0h6m91 0h6M144 148.5h5m38 0h5m33 0h10m11 0h6m43 0h5m162 0h6m48 0h6m86 0h5m44 0h5m97 0h6M187 137.5h5m65 0h5m22 0h5m6 0h5m65 0h5m76 0h5m44 0h5m16 0h6m16 0h5m38 0h5m130 0h5m76 0h5M181 128.5h11m103 0h5m11 0h5m292 0h5m65 0h11m49 0h5m81 0h5M138 119.5h6m86 0h5m38 0h6m37 0h6m21 0h6m38 0h5m5 0h6m124 0h11m43 0h5m38 0h6m10 0h6M198 110.5h10m11 0h6m32 0h11m59 0h6m32 0h5m38 0h6m48 0h11m11 0h5m38 0h5m103 0h5m22 0h5M133 99.5h16m81 0h5m54 0h6m32 0h6m5 0h5m60 0h5m114 0h5m43 0h6m97 0h5M160 90.5h5m49 0h5m11 0h5m54 0h11m33 0h5m16 0h6m59 0h5m44 0h5m54 0h5m6 0h5m6 0h5m16 0h6m48 0h6m86 0h5m103 0h5M133 85.5h5m54 0h6m5 0h5m44 0h5m16 0h6m5 0h5m27 0h6m38 0h5m22 0h5m265 0h5m5 0h6"/>
<path stroke="#482475" stroke-width="2" d="M408 794h6M408 792h6M214 790h5m243 0h6M300 788h6M748 785h6M262 783h6M192 777h11m49 0h5m38 0h11m10 0h6m32 0h6m37 0h6m86 0h6m54 0h5m130 0h5m135 0h5M149 774h5m254 0h6M300 772h6M414 770h5M235 768h6m313 0h5M219 765h6m183 0h6M225 761h5m32 0h6m75 0h6m183 0h6m16 0h5m49 0h5M208 759h6m21 0h6m5 0h6m16 0h5m6 0h5m32 0h11m81 0h6m5 0h5m11 0h6m43 0h5m16 0h6m27 0h5m54 0h6m27 0h5m59 0h6m205 0h5M295 756h5m16 0h6m32 0h6m70 0h5m6 0h5m54 0h5m103 0h5m6 0h5M160 754h5m22 0h5m70 0h11m16 0h6m86 0h11m76 0h5m59 0h6m27 0h5m11 0h5m11 0h6m221 0h5m103 0h5M154 752h6m38 0h5m86 0h6m16 0h5m22 0h5m49 0h5m119 0h6m27 0h5m16 0h6m75 0h6m32 0h5M133 750h5m49 0h5m22 0h5m286 0h6m27 0h5m124 0h6m54 0h5m27 0h6M144 747h5m108 0h5m81 0h11m54 0h6m21 0h6m108 0h5m54 0h5m22 0h5m108 0h6m151 0h5M144 745h5m86 0h6m43 0h5m17 0h5m227 0h5m6 0h5m22 0h5m59 0h6m38 0h5m5 0h6M127 743h6m27 0h5m65 0h5m206 0h5m5 0h6m86 0h6M122 741h5m27 0h6m38 0h5m59 0h6m16 0h5m119 0h6m5 0h11m27 0h5m60 0h5m113 0h6m32 0h6m194 0h5M187 739h5m11 0h5m49 0h5m27 0h6m92 0h5m54 0h5m162 0h6m119 0h5M208 736h6m11 0h5m43 0h6m113 0h5m11 0h6m27 0h5m86 0h6m75 0h11m22 0h5m16 0h6M122 734h5m98 0h5m135 0h5m22 0h5m60 0h11m54 0h5m11 0h5m6 0h5m11 0h5m108 0h6m75 0h6M181 732h6m11 0h5m5 0h11m22 0h5m54 0h11m65 0h5m65 0h5m119 0h6m86 0h5m6 0h5m92 0h5M160 730h11m5 0h5m108 0h6m59 0h6m21 0h6m32 0h5m54 0h6m5 0h6m54 0h5m92 0h5m65 0h5M138 727h6m37 0h6m119 0h5m92 0h5m87 0h5m54 0h11m38 0h5m11 0h5m60 0h10M171 725h10m65 0h6m102 0h6m129 0h6m5 0h5m49 0h5m98 0h5m54 0h5M187 723h5m22 0h5m114 0h5m146 0h5m27 0h6m102 0h6m16 0h11m27 0h5m5 0h6M127 721h6m32 0h6m86 0h5m44 0h5m5 0h6m221 0h6m32 0h5M154 719h6m5 0h6m48 0h6m5 0h5m6 0h5m108 0h6m91 0h6m27 0h5m33 0h5m92 0h11M127 716h6m38 0h5m59 0h6m27 0h5m60 0h5m130 0h5m38 0h5m70 0h6m146 0h5m27 0h5M171 714h5m5 0h11m38 0h11m173 0h5m5 0h6m183 0h6m32 0h6m10 0h6m205 0h5M144 712h5m5 0h6m38 0h5m16 0h6m27 0h5m54 0h5m119 0h6m5 0h5m119 0h6m108 0h5M138 710h6m102 0h6m291 0h6m21 0h16m265 0h5M144 707h5m97 0h6m27 0h5m146 0h5m216 0h6m248 0h5M154 705h6m59 0h6m21 0h6m5 0h11m59 0h6m81 0h5m11 0h5m11 0h11m21 0h6m32 0h6m10 0h6m48 0h6m11 0h5m86 0h6m151 0h5M171 703h5m43 0h6m32 0h11m167 0h11m49 0h5m81 0h5m81 0h11M160 701h5m38 0h5m103 0h5m87 0h5m49 0h5m162 0h11m43 0h6m21 0h6M154 698h6m27 0h11m37 0h6m5 0h6m5 0h5m60 0h5m49 0h5m33 0h5m140 0h6M208 696h6m11 0h5m22 0h10m17 0h5m32 0h6m65 0h5m11 0h5m184 0h5m38 0h5m265 0h5M198 694h5m27 0h5m141 0h5m38 0h5m17 0h5m59 0h6m32 0h6m43 0h5M343 692h6m75 0h6m11 0h5m54 0h11m5 0h22m21 0h6m59 0h6m27 0h5M149 689h5m243 0h6m194 0h6m5 0h5m38 0h6m10 0h6m43 0h5M327 687h6m64 0h17m54 0h5m54 0h5m49 0h5m6 0h5m11 0h5m292 0h5M144 685h5m38 0h5m135 0h6m16 0h5m49 0h5m81 0h6m43 0h5m22 0h5m65 0h5m65 0h6M154 683h6m16 0h5m233 0h5m5 0h6m11 0h5m5 0h6m119 0h5m76 0h5M160 681h5m22 0h5m60 0h5m5 0h6m189 0h11m54 0h5M144 678h5m103 0h5m200 0h5m38 0h5m81 0h6m92 0h5M241 676h5m76 0h5m173 0h5m44 0h5m5 0h6m5 0h6m43 0h5m38 0h5m157 0h5M181 674h6m11 0h5m54 0h5m81 0h6m65 0h5m124 0h6m59 0h5m33 0h5m16 0h6M127 672h6m48 0h6m59 0h6m10 0h6m5 0h6m75 0h6m16 0h5m54 0h6m97 0h5m33 0h5M289 669h11m65 0h5m27 0h6m65 0h5m113 0h6m21 0h6m5 0h6m5 0h11m21 0h6m124 0h5M154 667h11m22 0h11m43 0h5m54 0h6m16 0h5m6 0h5m108 0h5m54 0h6m38 0h10m6 0h5m6 0h5m5 0h6m65 0h5m5 0h6m5 0h6m221 0h5M149 665h5m65 0h6m5 0h11m5 0h6m32 0h11m32 0h6m162 0h5m54 0h16m11 0h5m184 0h5m157 0h5M214 663h5m27 0h6m10 0h6m11 0h5m119 0h5m11 0h5m17 0h5m38 0h5m38 0h5m44 0h5m22 0h5m27 0h5m33 0h5m38 0h5m49 0h5M171 661h5m5 0h6m11 0h5m59 0h6m59 0h6m5 0h5m38 0h6m102 0h6m75 0h6M160 658h5m87 0h5m81 0h5m130 0h5m98 0h5m32 0h6m38 0h5M133 656h5m135 0h6m64 0h11m11 0h5m71 0h5m11 0h11m37 0h6m43 0h5m6 0h5m6 0h5m113 0h6M262 654h6m5 0h6m37 0h11m81 0h6m75 0h6m113 0h5M235 652h6m11 0h5m22 0h5m54 0h5m114 0h5m11 0h5m22 0h5m27 0h6m5 0h6m189 0h5M138 649h11m65 0h5m276 0h5m43 0h6m5 0h11m27 0h5m16 0h6m32 0h6M311 647h5m54 0h6m119 0h5m81 0h5m17 0h5m27 0h5M122 645h5m54 0h6m38 0h10m60 0h5m81 0h6m16 0h5m49 0h5m135 0h6m10 0h11m60 0h5m189 0h5M176 643h5m54 0h6m129 0h6m5 0h6m129 0h6m27 0h5m16 0h6m32 0h5m17 0h5m113 0h6M149 640h5m152 0h5m27 0h5m87 0h5m11 0h11m27 0h5m22 0h5m33 0h5m16 0h6m27 0h5m32 0h6m70 0h5m76 0h5M154 638h11m65 0h5m119 0h11m135 0h5m92 0h6m10 0h6m5 0h6m43 0h5m16 0h6m5 0h6m27 0h5m189 0h5M133 636h5m103 0h5m22 0h5m16 0h6m48 0h6m129 0h6m5 0h6m5 0h5m65 0h6m43 0h5m33 0h5m270 0h5M149 634h5m27 0h6m5 0h6m118 0h11m11 0h5m71 0h5m32 0h6m54 0h5m38 0h5m27 0h6m97 0h5M149 631h5m33 0h11m70 0h5m11 0h5m6 0h5m27 0h6m21 0h6m162 0h5m59 0h11m6 0h5m38 0h5m16 0h6m54 0h5M241 629h5m6 0h10m6 0h5m70 0h6m146 0h5m38 0h16m16 0h6m81 0h5m16 0h6m5 0h5M160 627h5m33 0h5m32 0h6m92 0h5m5 0h6m129 0h6m102 0h6m11 0h5m162 0h5M219 625h6m32 0h11m81 0h5m22 0h5m114 0h5m27 0h5m6 0h5m54 0h6m16 0h5m70 0h6M214 623h5m87 0h5m97 0h6m32 0h11m54 0h5m65 0h5m130 0h5m76 0h5M284 620h5m27 0h6m119 0h5m5 0h11m43 0h6m11 0h5m11 0h5m114 0h5m27 0h11m48 0h6M165 618h6m64 0h6m70 0h5m6 0h5m33 0h10m54 0h6m54 0h5m60 0h5m97 0h11m22 0h5m16 0h6M144 616h5m32 0h6m232 0h5m38 0h6m16 0h5m6 0h5m22 0h5m49 0h10m49 0h5m11 0h6m16 0h5M181 614h6m5 0h6m345 0h6m21 0h6m108 0h5m16 0h6M176 611h5m254 0h6m86 0h5m22 0h5m125 0h5m49 0h5M381 609h6m43 0h5m16 0h6m156 0h6m5 0h6m5 0h5m22 0h5m49 0h5m211 0h5M230 607h11m124 0h5m6 0h5m60 0h5m281 0h5m119 0h5M225 605h10m22 0h16m43 0h6m92 0h5m16 0h6m102 0h6m70 0h5m6 0h5m113 0h6m16 0h5M127 603h6m11 0h5m16 0h11m221 0h6m92 0h5m16 0h6m54 0h5m27 0h5m54 0h6m11 0h5M187 600h5m108 0h6m97 0h5m49 0h5m16 0h6m27 0h11m102 0h6m43 0h5M154 598h6m21 0h17m108 0h5m32 0h6m232 0h5m92 0h11M181 596h6m54 0h5m27 0h6m32 0h5m179 0h5m54 0h5m130 0h5M160 594h5m27 0h6m32 0h5m6 0h5m33 0h5m43 0h6m5 0h11m27 0h5m22 0h5m27 0h6m64 0h11m38 0h5m292 0h5M219 591h6m135 0h10m17 0h5m5 0h6m108 0h5m114 0h5m70 0h6M149 589h5m179 0h5m27 0h5m81 0h17m43 0h5m103 0h5m33 0h10m22 0h5M138 587h6m5 0h5m38 0h6m108 0h5m113 0h6m16 0h5m38 0h6m21 0h6m37 0h6m32 0h6m10 0h6m38 0h5m270 0h5M154 585h6m108 0h5m38 0h5m22 0h5m60 0h5m65 0h5m60 0h5m87 0h5M360 582h5m92 0h5m97 0h6m16 0h5m6 0h5m141 0h5M171 580h5m27 0h5m108 0h6m21 0h6m5 0h6m102 0h6m5 0h5m260 0h5M165 578h6m21 0h6m32 0h5m22 0h5m6 0h5m276 0h5m5 0h6m5 0h6m16 0h5M376 576h11m16 0h11m59 0h5m17 0h5m16 0h6m16 0h5m135 0h6m32 0h5M138 573h6m10 0h11m22 0h5m81 0h6m86 0h5m17 0h5m43 0h6m10 0h6m92 0h5m43 0h6m113 0h5M127 571h6m32 0h6m102 0h6m32 0h5m54 0h6m48 0h6m27 0h5m33 0h5m49 0h5m162 0h5m76 0h5M133 569h5m87 0h5m49 0h10m65 0h11m59 0h6m16 0h5m33 0h5m119 0h5M149 567h5m6 0h5m49 0h5m108 0h6m43 0h5m103 0h5m6 0h5m146 0h5M122 565h5m141 0h5m22 0h5m38 0h5m98 0h5m38 0h5m11 0h11m65 0h16m11 0h5m65 0h5M144 562h5m124 0h6m70 0h5m33 0h5m81 0h5m38 0h11m22 0h5m27 0h5m27 0h6m97 0h5m211 0h5M262 560h6m65 0h5m135 0h5m119 0h6m113 0h5M149 558h5m11 0h6m32 0h5m38 0h6m16 0h5m49 0h5m11 0h5m92 0h6m10 0h6m54 0h5m389 0h5M187 556h5m205 0h6m32 0h6m5 0h5m11 0h6m54 0h5m49 0h5m81 0h5m71 0h5m5 0h6M149 553h5m200 0h6m5 0h5m54 0h6m21 0h6m54 0h5m27 0h6m21 0h6m10 0h6m27 0h5m27 0h6m21 0h6M198 551h5m76 0h5m49 0h5m16 0h6m16 0h5m60 0h5m43 0h6m48 0h6m10 0h6m59 0h6m10 0h6m32 0h6m54 0h5m16 0h6M127 549h6m200 0h5m11 0h5m265 0h5m43 0h6m75 0h6M165 547h16m65 0h6m81 0h5m108 0h5m87 0h5m6 0h5M171 545h5m11 0h5m22 0h5m135 0h6m37 0h6m16 0h5m11 0h6m59 0h5m92 0h6M122 542h11m156 0h6m59 0h6m37 0h6m189 0h5m6 0h5m38 0h5m76 0h5M230 540h5m17 0h5m49 0h5m5 0h11m38 0h5m49 0h5m135 0h6m43 0h5m11 0h6m10 0h6M154 538h6m48 0h6m48 0h6m124 0h5m6 0h5m124 0h6m75 0h6m32 0h6m21 0h6m54 0h5M171 536h5m297 0h5m60 0h5m33 0h5m135 0h5M176 533h5m27 0h6m38 0h5m11 0h5m60 0h10m114 0h5m114 0h5m65 0h11M365 531h5m6 0h5m54 0h6m21 0h6m37 0h11m27 0h6m86 0h5m49 0h5m65 0h6M160 529h5m97 0h6m16 0h5m146 0h6m16 0h5m6 0h5m86 0h6m38 0h5m38 0h5m11 0h5M181 527h6m32 0h6m16 0h5m81 0h6m102 0h6m16 0h5m6 0h5m151 0h6m16 0h5m6 0h10m22 0h5m65 0h6M149 524h5m38 0h6m75 0h6m5 0h5m6 0h5m16 0h6m21 0h6m27 0h11m32 0h5m65 0h6m43 0h11m21 0h6m37 0h6m54 0h5m49 0h5M122 522h5m81 0h6m286 0h5m103 0h5m33 0h5m33 0h5m216 0h5M295 520h16m22 0h5m49 0h5m22 0h5m275 0h6m38 0h5m189 0h5M165 518h6m81 0h5m81 0h5m119 0h6m5 0h5m27 0h6m140 0h11m108 0h5m76 0h5M127 515h6m200 0h5m27 0h5m103 0h5m162 0h6M241 513h5m6 0h5m76 0h5m5 0h6m21 0h6m97 0h5m33 0h5m97 0h6m11 0h5M127 511h6m5 0h6m10 0h6m48 0h6m21 0h6m135 0h5m119 0h5m33 0h5m54 0h6m54 0h5M138 509h6m21 0h6m16 0h5m6 0h5m49 0h5m5 0h6m5 0h6m91 0h6m5 0h6m70 0h5m22 0h5m6 0h5m108 0h5m44 0h5M154 507h6m135 0h5m16 0h6m27 0h11m48 0h6m43 0h5m119 0h5m6 0h5m27 0h6m5 0h5m11 0h6M154 504h6m75 0h6m32 0h6m16 0h5m81 0h6m5 0h5m11 0h6m118 0h6m81 0h5m70 0h6m178 0h5M149 502h5m54 0h6m108 0h5m76 0h5m16 0h6m54 0h5m119 0h5m54 0h6M133 500h5m11 0h5m17 0h5m243 0h5m184 0h5m125 0h5M435 498h11m22 0h5m65 0h5m114 0h5m11 0h5m16 0h6m38 0h5M122 495h5m81 0h6m113 0h6m97 0h5m130 0h5m11 0h5m38 0h11m54 0h11M192 493h6m27 0h5m54 0h11m43 0h5m33 0h5m27 0h6m5 0h5m162 0h6m97 0h5m22 0h5M144 491h5m70 0h6m54 0h5m22 0h5m130 0h5m5 0h6m27 0h5m43 0h6m16 0h5m11 0h6m16 0h5m16 0h6m16 0h5m238 0h5M203 489h5m44 0h5m319 0h5m27 0h5m81 0h6m27 0h5m27 0h6M160 487h5m76 0h5m135 0h6m102 0h6m232 0h5m146 0h5M149 484h5m22 0h5m98 0h5m103 0h5m5 0h6m16 0h11m59 0h11m59 0h6M230 482h5m92 0h6m16 0h5m43 0h6m119 0h5m22 0h5m43 0h6m16 0h5m33 0h5m5 0h6m43 0h5M241 480h5m92 0h11m27 0h5m6 0h5m232 0h6m5 0h5m6 0h5m43 0h6m16 0h5M127 478h6m32 0h6m129 0h6m27 0h5m211 0h5m43 0h6m10 0h6m54 0h5m92 0h5M127 475h6m5 0h6m156 0h6m27 0h5m5 0h6m11 0h5m59 0h6m16 0h5m38 0h6m5 0h5m92 0h6m59 0h5m38 0h6M149 473h5m87 0h5m16 0h6m81 0h5m6 0h5m11 0h5m33 0h5m32 0h6m11 0h5m92 0h5m11 0h5m6 0h5m43 0h11M219 471h6m37 0h11m27 0h6m32 0h5m49 0h5m33 0h5m178 0h6M149 469h5m71 0h5m11 0h5m33 0h5m124 0h6m75 0h6m54 0h10m49 0h5m22 0h5m87 0h5m27 0h6M127 466h6m5 0h6m5 0h5m17 0h21m16 0h6m38 0h5m5 0h6m27 0h5m43 0h6m70 0h5m22 0h5m38 0h6m21 0h6m27 0h5m32 0h6M187 464h5m27 0h6m97 0h5m173 0h5m6 0h5m27 0h6m189 0h5M241 462h5m43 0h6m38 0h5m119 0h5m16 0h6m38 0h5m16 0h6m48 0h6m54 0h5m189 0h5M187 460h5m49 0h5m157 0h16m194 0h6m43 0h5M306 457h5m81 0h5m6 0h5m103 0h5m189 0h6m113 0h5M214 455h5m6 0h5m16 0h6m5 0h5m103 0h5m125 0h5m32 0h6m32 0h6m108 0h5M176 453h5m6 0h5m103 0h5m22 0h5m27 0h6m86 0h16m49 0h5m33 0h5m5 0h6m75 0h6m81 0h5M133 451h5m33 0h5m11 0h5m6 0h5m81 0h5m17 0h5m22 0h5m70 0h6m64 0h6m70 0h5m44 0h5m76 0h10M138 449h6m5 0h5m87 0h5m27 0h6m151 0h5m184 0h5m27 0h6M198 446h5m32 0h6m27 0h5m60 0h5m38 0h5m92 0h5m146 0h6M127 444h6m70 0h5m49 0h5m17 0h5m38 0h5m130 0h5m81 0h11M122 442h5m33 0h5m6 0h5m43 0h6m81 0h5m65 0h5m65 0h5m6 0h5m11 0h5m81 0h6m54 0h5m16 0h6m5 0h6m70 0h5m16 0h6m16 0h5M154 440h6m27 0h5m76 0h5m157 0h5m60 0h5m103 0h5m43 0h6m16 0h5m49 0h5m27 0h6M268 437h5m11 0h5m76 0h5m87 0h5m11 0h5m454 0h5M192 435h6m27 0h10m60 0h5m49 0h5m11 0h5m49 0h5m22 0h5m108 0h11m16 0h6m43 0h5m17 0h5M127 433h6m27 0h5m151 0h6m65 0h5m130 0h5m16 0h6m10 0h6m48 0h6m27 0h5m27 0h6M322 431h5m173 0h5m38 0h6m140 0h5M171 429h5m76 0h5m11 0h5m81 0h6m59 0h5m71 0h5m178 0h6m32 0h5M284 426h5m38 0h6m27 0h5m146 0h5m76 0h5m27 0h6m86 0h5M208 424h6m86 0h6m21 0h6m156 0h6m102 0h6m91 0h6m48 0h6m5 0h6m167 0h5M219 422h6m64 0h6m48 0h11m65 0h5m184 0h11m27 0h5m11 0h5M133 420h5m6 0h5m22 0h5m38 0h5m97 0h11m38 0h5m17 0h5m113 0h6m59 0h6m5 0h5m87 0h5M295 417h5m22 0h5m22 0h5m27 0h11m5 0h6m5 0h6m27 0h5m5 0h6m81 0h11m43 0h5m70 0h6m97 0h5m49 0h5M192 415h6m135 0h5m16 0h6m210 0h6m32 0h11m108 0h5m173 0h5M295 413h5m38 0h5m27 0h6m75 0h6m27 0h5m65 0h5m6 0h5m27 0h6m10 0h6M154 411h6m92 0h5m38 0h5m22 0h5m97 0h6m16 0h5m135 0h6m65 0h10m6 0h5m227 0h5M127 408h6m48 0h6m92 0h5m157 0h5m22 0h5m151 0h6m21 0h6M122 406h5m71 0h5m5 0h6m32 0h6m27 0h5m11 0h5m6 0h5m70 0h6m140 0h5m141 0h5m27 0h6M187 404h5m54 0h6m59 0h5m11 0h6m10 0h6m65 0h5m27 0h5m87 0h5m27 0h6m10 0h6m178 0h5M138 402h6m162 0h5m108 0h5m11 0h6m86 0h5m17 0h5m5 0h6m5 0h6m86 0h5m27 0h6M138 399h6m43 0h5m92 0h11m5 0h6m37 0h6m38 0h5m27 0h5m49 0h5m6 0h5m54 0h11m22 0h5m22 0h5m43 0h6m21 0h6m54 0h5M165 397h6m135 0h10m27 0h6m119 0h5m38 0h5m38 0h5m49 0h5m60 0h5m200 0h5M316 395h6m92 0h5m97 0h6m5 0h5m98 0h5m5 0h6m32 0h6m54 0h5M122 393h5m22 0h11m16 0h5m146 0h6m27 0h10m11 0h6m43 0h5m54 0h6m10 0h6m151 0h5m157 0h5m49 0h5M127 391h6m65 0h5m38 0h5m43 0h6m5 0h6m16 0h5m76 0h5m33 0h5m113 0h6m194 0h6M208 388h6m232 0h5m17 0h5m324 0h5M138 386h6m70 0h11m37 0h6m75 0h6m38 0h5m59 0h6m11 0h5m27 0h5m162 0h6m43 0h5M235 384h6m43 0h5m87 0h5m54 0h6m16 0h5m43 0h6m32 0h6m75 0h6m10 0h6m21 0h6m16 0h5m22 0h5M122 382h5m11 0h6m21 0h6m10 0h6m43 0h5m11 0h6m48 0h6m5 0h5m49 0h5m6 0h5m92 0h11m81 0h5m60 0h5m22 0h5m216 0h5M198 379h5m43 0h6m221 0h5m54 0h6m394 0h5M192 377h6m16 0h5m11 0h5m44 0h5m32 0h6m27 0h5m81 0h6m21 0h6m54 0h5m5 0h6m75 0h6M122 375h5m44 0h5m11 0h5m65 0h5m22 0h5m168 0h5m70 0h6m151 0h5m211 0h5M122 373h5m71 0h5m119 0h5m49 0h5m141 0h5m5 0h11m43 0h17m27 0h5m43 0h6m21 0h6M181 371h6m21 0h6m135 0h5m168 0h5m32 0h6m5 0h6m64 0h6m81 0h5M365 368h5m17 0h5m22 0h5m43 0h6m27 0h5M198 366h5m49 0h5m275 0h6m5 0h6m70 0h5m103 0h5m173 0h5M127 364h6m38 0h5m167 0h6m113 0h16m11 0h11m16 0h6m5 0h16m65 0h5m33 0h5m54 0h6M127 362h6m5 0h6m194 0h11m16 0h5m44 0h5m16 0h6m10 0h11m119 0h5m11 0h6M198 359h5m54 0h5m179 0h5m5 0h6m43 0h5m60 0h5m38 0h5m184 0h5M225 357h5m16 0h6m167 0h5m6 0h5m141 0h10m49 0h5M225 355h5m49 0h10m27 0h11m70 0h6m124 0h5m54 0h6m156 0h6M138 353h11m16 0h6m81 0h5m11 0h5m16 0h6m11 0h5m76 0h5m43 0h6m70 0h5m33 0h5m43 0h6m27 0h5m81 0h5m38 0h6M219 350h6m178 0h5m92 0h5m103 0h5m17 0h10m54 0h6m16 0h5m17 0h5m135 0h5m22 0h5M122 348h5m92 0h6m226 0h6m156 0h6m43 0h5M171 346h5m32 0h6m75 0h6m178 0h5m27 0h6m16 0h5m92 0h6m140 0h5M133 344h5m22 0h5m27 0h6m135 0h5m38 0h11m48 0h6m48 0h6m48 0h6m32 0h5m54 0h6m38 0h10M127 341h6m11 0h5m76 0h5m16 0h6m5 0h5m54 0h6m11 0h5m178 0h6m48 0h6m27 0h5m49 0h5m76 0h5m81 0h5M122 339h5m27 0h6m32 0h6m27 0h5m59 0h6m65 0h5m189 0h5M122 337h5m22 0h5m38 0h6m5 0h5m27 0h6m32 0h11m97 0h16m65 0h6m43 0h5m70 0h6m97 0h5m22 0h5M230 335h5m54 0h6m27 0h5m205 0h6m108 0h5M122 333h5m65 0h6m113 0h5m6 0h5m157 0h5m87 0h5m65 0h5m38 0h11M176 330h5m11 0h6m199 0h6m48 0h6m54 0h5m243 0h6M208 328h6m32 0h6m75 0h6m162 0h5m27 0h5m60 0h5m33 0h5m70 0h6M187 326h5m27 0h6m21 0h11m5 0h6m32 0h6m32 0h5m103 0h5m44 0h5m16 0h6m27 0h5m297 0h5M154 324h6m5 0h6m81 0h10m44 0h5m22 0h5m38 0h5m38 0h5m33 0h5m54 0h6m48 0h6m5 0h5m173 0h6M127 321h6m5 0h6m21 0h6m5 0h5m135 0h6m216 0h5m11 0h5m22 0h5m17 0h5m11 0h5m38 0h5m27 0h6M176 319h5m6 0h5m27 0h6m102 0h6m54 0h5m11 0h5m22 0h5m43 0h6m81 0h5m81 0h6M165 317h6m5 0h5m11 0h11m27 0h5m146 0h6m70 0h5m27 0h6m16 0h5m70 0h6m5 0h6m21 0h6m43 0h5M138 315h6m48 0h6m21 0h6m48 0h6m16 0h5m60 0h5m103 0h5m54 0h5m146 0h6m54 0h5m16 0h6M149 313h16m65 0h5m38 0h6m16 0h5m87 0h5m38 0h5m11 0h5m222 0h5M235 310h6m48 0h11m38 0h5m17 0h5m16 0h11m86 0h6m32 0h6m48 0h6m10 0h6m156 0h6M241 308h5m38 0h5m38 0h6m27 0h5m92 0h5m49 0h5m38 0h5m49 0h5m44 0h5M154 306h6m173 0h5m49 0h10m11 0h6m129 0h6m16 0h5m11 0h5m71 0h5m32 0h6M165 304h6m32 0h5m22 0h5m49 0h5m81 0h6m21 0h11m108 0h6m37 0h6m43 0h5m33 0h5m11 0h5m22 0h11m232 0h5M241 301h5m362 0h5m33 0h5M127 299h6m21 0h6m5 0h6m10 0h11m43 0h6m65 0h5m11 0h5m92 0h5m11 0h6m21 0h6m48 0h6m43 0h5m11 0h5m22 0h5m6 0h11m10 0h6m16 0h5M144 297h5m86 0h6m59 0h6m10 0h6m129 0h6m32 0h6m10 0h6m16 0h5m6 0h5m22 0h5m16 0h6m59 0h6m37 0h6M127 295h6m135 0h5m11 0h5m76 0h5m65 0h6m86 0h5m76 0h5m6 0h5m22 0h5m33 0h5m5 0h6M187 292h11m16 0h5m6 0h5m5 0h6m124 0h5m6 0h5m151 0h6m27 0h5m16 0h6M208 290h6m38 0h5m70 0h6m21 0h6m16 0h5m38 0h5m6 0h5m6 0h5m22 0h5m140 0h6m32 0h11m27 0h5M230 288h5m22 0h5m135 0h6m32 0h6m59 0h5m44 0h5m22 0h10m38 0h6M165 286h6m32 0h5m11 0h6m113 0h5m49 0h5m11 0h6m70 0h5m76 0h5m11 0h5m27 0h6m27 0h5m76 0h5M149 283h5m33 0h5m27 0h6m32 0h5m33 0h11m108 0h5m43 0h6m54 0h5m16 0h6m27 0h5M284 281h5m6 0h5m70 0h6m124 0h5m17 0h5m38 0h5m27 0h6m48 0h6m102 0h6M133 279h5m97 0h6m11 0h10m11 0h6m27 0h5m27 0h11m97 0h5m17 0h5m65 0h11m129 0h6m248 0h5M165 277h6m5 0h11m59 0h6m16 0h5m16 0h6m54 0h5m54 0h6m108 0h5m27 0h5m33 0h5m16 0h6m43 0h5m6 0h5M133 275h5m11 0h11m183 0h6m173 0h5m76 0h5m38 0h5m22 0h5m11 0h5M284 272h11m59 0h6m64 0h6m86 0h6m54 0h5m22 0h5M198 270h5m54 0h5m44 0h5m49 0h10m6 0h5m54 0h6m64 0h6m81 0h5m16 0h6M149 268h5m65 0h6m43 0h5m81 0h6m172 0h6m48 0h6m32 0h11m54 0h5m33 0h5m16 0h6M138 266h6m340 0h5m54 0h6m113 0h5m103 0h5M235 263h6m140 0h6m5 0h5m60 0h5m60 0h5m22 0h10m33 0h5m27 0h16M138 261h6m102 0h6m91 0h6m102 0h6m151 0h5m76 0h5m65 0h6M122 259h5m65 0h6m54 0h5m119 0h5m308 0h5M160 257h5m135 0h6m32 0h5m22 0h5m60 0h5m33 0h5m162 0h5m108 0h6m124 0h5M181 255h6m5 0h6m102 0h6m151 0h5m16 0h6m11 0h5m11 0h5m16 0h6m119 0h5M127 252h11m6 0h5m59 0h6m16 0h5m54 0h6m27 0h5m49 0h5m249 0h5m22 0h10m211 0h5M122 250h5m146 0h6m21 0h6m21 0h6m48 0h6m54 0h5m11 0h5m27 0h6m16 0h5m6 0h5m32 0h6m21 0h6m70 0h5M192 248h6m59 0h5m38 0h6m64 0h6m16 0h5m17 0h5m119 0h5m87 0h5m70 0h6M138 246h6m10 0h6m27 0h5m27 0h6m194 0h5m22 0h11m32 0h11m119 0h5m16 0h6m92 0h5M122 243h5m130 0h5m11 0h6m54 0h5m22 0h10m33 0h5m87 0h5m16 0h6m205 0h5m16 0h6m5 0h6M219 241h6m27 0h5m5 0h6m43 0h5m157 0h5m49 0h5m108 0h6m92 0h5m5 0h6M133 239h5m54 0h6m5 0h11m11 0h5m43 0h6m16 0h5m38 0h5m65 0h6m21 0h6m32 0h5m11 0h6m64 0h6m108 0h5M127 237h6m200 0h5m70 0h11m27 0h5m71 0h5m11 0h5m65 0h5m146 0h6M262 234h6m21 0h6m59 0h6m32 0h5m54 0h6m119 0h5m27 0h5m54 0h6m178 0h5M122 232h5m60 0h5m16 0h6m16 0h5m87 0h5m124 0h6m43 0h5m44 0h10m76 0h5m33 0h5m11 0h5M149 230h5m11 0h6m108 0h5m11 0h5m22 0h5m33 0h5m11 0h5m141 0h5m97 0h6m10 0h6M133 228h5m43 0h6m27 0h5m33 0h5m11 0h5m92 0h5m33 0h5m27 0h6m37 0h6m11 0h5m81 0h5m44 0h5M133 225h11m32 0h5m6 0h5m11 0h11m5 0h6m48 0h16m49 0h5m157 0h5m54 0h6m32 0h11m59 0h6m43 0h5m17 0h5M208 223h6m27 0h5m43 0h6m21 0h6m151 0h5m33 0h11m64 0h6m32 0h11m113 0h6m124 0h5M122 221h11m324 0h5m16 0h6m21 0h6m162 0h5m92 0h5m22 0h5m130 0h5M230 219h5m71 0h5m27 0h5m17 0h5m5 0h6m5 0h11m54 0h5m38 0h6m10 0h6m48 0h6m21 0h6m178 0h5M365 217h5m6 0h5m49 0h5m130 0h5M154 214h6m11 0h5m5 0h6m81 0h5m49 0h5m65 0h5m22 0h5m125 0h10m6 0h5m92 0h5M160 212h5m114 0h5m146 0h5m11 0h5m6 0h5m16 0h6m113 0h6m32 0h5m11 0h11M138 210h6m59 0h5m76 0h5m27 0h6m48 0h6m140 0h6m5 0h5m81 0h6m48 0h6m65 0h5M149 208h5m17 0h5m81 0h5m54 0h6m86 0h6m113 0h16m43 0h6m11 0h5m16 0h6m5 0h5m54 0h6m5 0h6M203 205h5m168 0h5m16 0h6m21 0h6m108 0h5m16 0h6m119 0h5m189 0h5M149 203h5m76 0h5m27 0h6m11 0h10m130 0h5m11 0h6m167 0h5m22 0h5m27 0h6m54 0h5M198 201h5m92 0h5m108 0h6m129 0h6m75 0h6m16 0h5m33 0h10M154 199h6m97 0h5m6 0h5m92 0h5m76 0h5m38 0h6m48 0h6m10 0h6m5 0h6m70 0h5M192 197h6m37 0h6m16 0h5m81 0h6m27 0h11m75 0h6m48 0h6m75 0h6m145 0h6M257 194h11m27 0h5m97 0h6m43 0h5m6 0h5m189 0h11M122 192h5m11 0h6m10 0h6m5 0h6m27 0h10m17 0h10m297 0h6m43 0h5m184 0h5m130 0h5M144 190h5m11 0h5m33 0h5m54 0h5m22 0h5m17 0h5m38 0h5m27 0h6m32 0h5m11 0h6m16 0h5m11 0h5m103 0h5m27 0h6m43 0h5m81 0h6M181 188h6m38 0h5m49 0h5m43 0h6m118 0h6m113 0h11m81 0h5m22 0h11m124 0h5M122 185h11m16 0h5m38 0h6m5 0h5m54 0h6m16 0h5m168 0h5m81 0h6m210 0h6M127 183h6m102 0h6m54 0h5m114 0h5m11 0h5m22 0h11m97 0h11m70 0h5m27 0h6m86 0h5m22 0h5M138 181h6m140 0h5m44 0h5m11 0h5m6 0h5m5 0h6m11 0h5m119 0h5m6 0h5m32 0h6m5 0h6m27 0h5M181 179h6m48 0h11m60 0h5m32 0h11m6 0h10m17 0h5m11 0h5m60 0h5m76 0h5m27 0h5m17 0h5m32 0h6m27 0h5m254 0h5M165 176h6m43 0h11m5 0h5m44 0h5m5 0h6m81 0h5m43 0h6m92 0h5M376 174h5m54 0h6m37 0h11m60 0h5m124 0h6M203 172h5m65 0h6m21 0h6m183 0h6m64 0h6m65 0h5m16 0h6m32 0h5M273 170h6m16 0h5m6 0h5m5 0h6m75 0h6m75 0h6m32 0h6m32 0h5m54 0h6m119 0h5M311 167h5m44 0h5m167 0h6m156 0h6M187 165h5m54 0h6m5 0h11m54 0h5m22 0h5m103 0h5m22 0h5m11 0h5m22 0h5m87 0h5m103 0h5m27 0h6m32 0h5M138 163h6m27 0h5m103 0h5m135 0h11m38 0h5m22 0h5m11 0h11m32 0h5m76 0h5M127 161h6m70 0h5m98 0h5m38 0h5m54 0h6m70 0h5m38 0h5m92 0h11M133 159h5m276 0h10m227 0h6m32 0h5m157 0h5M289 156h6m167 0h6m59 0h5m27 0h6m32 0h6m91 0h6M165 154h6m43 0h5m76 0h5m33 0h5m124 0h6m113 0h5m6 0h11m91 0h6m70 0h5M122 152h5m44 0h5m11 0h5m103 0h5m16 0h6m92 0h5m59 0h6m124 0h5m125 0h5m135 0h5M138 150h6m86 0h5m92 0h6m91 0h6m92 0h10m27 0h6m21 0h6m81 0h5M149 147h5m135 0h6m70 0h5m6 0h5m87 0h5m135 0h5m44 0h5m65 0h5m6 0h5m54 0h5m76 0h5M122 145h5m49 0h5m6 0h5m108 0h6m5 0h5m130 0h5m49 0h5m71 0h5m11 0h5m33 0h5m22 0h5m16 0h6M154 143h6m43 0h16m97 0h6m86 0h6m27 0h5m32 0h6m5 0h6m75 0h6m75 0h6M154 141h6m38 0h10m17 0h5m130 0h5m38 0h5m11 0h5m130 0h5m6 0h5m65 0h5m65 0h6m16 0h5M257 139h11m27 0h5m22 0h5m60 0h5m59 0h6m65 0h5m211 0h5m5 0h6M127 136h6m59 0h6m178 0h5m6 0h5m108 0h5m6 0h5m76 0h5m27 0h6m43 0h11M171 134h5m81 0h5m206 0h5m5 0h6m43 0h5m173 0h6M171 132h5m27 0h5m38 0h6m97 0h5m70 0h11m16 0h6m92 0h5m54 0h5m6 0h11m75 0h6m48 0h6M127 130h6m97 0h5m22 0h5m22 0h5m65 0h6m27 0h10m49 0h5m6 0h5m6 0h5m216 0h5m22 0h5M133 127h5m87 0h5m76 0h5m238 0h5m16 0h6M127 125h6m5 0h6m27 0h5m22 0h5m5 0h6m5 0h6m37 0h6m167 0h6m54 0h5m38 0h5m6 0h5m16 0h6m10 0h11m16 0h6m86 0h6m27 0h5M144 123h5m27 0h5m17 0h5m32 0h6m48 0h6m5 0h6m59 0h5m81 0h6m16 0h5m65 0h6m32 0h5m60 0h5m11 0h5M144 121h5m27 0h5m27 0h6m32 0h11m92 0h5m384 0h5m16 0h6M214 118h5m11 0h5m81 0h6m21 0h6m21 0h6m27 0h11m54 0h5m5 0h6m135 0h5m146 0h5M208 116h6m5 0h6m27 0h10m38 0h6m37 0h6m11 0h5m103 0h5m108 0h5m17 0h5m151 0h6M241 114h5m54 0h6m21 0h6m59 0h5m103 0h5m22 0h5m33 0h11m75 0h6m16 0h5m70 0h6M165 112h6m27 0h5m16 0h6m178 0h5m49 0h5m16 0h6m75 0h6m32 0h6M295 109h5m49 0h5m146 0h5M160 107h5m65 0h5m44 0h5m97 0h6m27 0h5m146 0h5m65 0h5m65 0h6M133 105h5m97 0h6m65 0h5m5 0h6m108 0h5m6 0h5m221 0h6m21 0h6m38 0h5M133 103h5m38 0h11m59 0h6m81 0h16m43 0h5m54 0h11m119 0h5m38 0h6m43 0h5M154 101h6m5 0h6m70 0h5m97 0h6m38 0h5m76 0h5m119 0h5m11 0h5m60 0h5M122 98h16m151 0h11m70 0h6m92 0h5m119 0h5m38 0h5m49 0h11m48 0h6M133 96h11m54 0h10m38 0h6m129 0h6m10 0h6m54 0h5m33 0h5m92 0h5m70 0h6M219 94h6m43 0h11m54 0h10m11 0h6m5 0h5m103 0h5m27 0h6m5 0h6m70 0h5m22 0h5m114 0h5M133 92h5m27 0h6m37 0h6m205 0h5m44 0h5m113 0h6m5 0h6m86 0h5M273 89h6m16 0h5m22 0h5m38 0h5m33 0h5m70 0h6m48 0h6m38 0h5m70 0h6m81 0h5M133 87h5m11 0h5m6 0h5m97 0h6m11 0h5m22 0h5m16 0h6m37 0h6m65 0h5m162 0h5m11 0h6m59 0h5"/>
<path stroke="#472f7d" stroke-width="1" d="M214 766.5h5m384 0h5M165 757.5h6m64 0h6m38 0h5m22 0h5m113 0h6m21 0h6m205 0h5m38 0h6m5 0h5M327 748.5h11m22 0h5m135 0h11m135 0h5m6 0h5M160 737.5h5m33 0h5m27 0h5m27 0h6m108 0h5m130 0h5m16 0h6m27 0h5m27 0h6m21 0h6m37 0h6m11 0h5M160 728.5h5m70 0h6m113 0h11m5 0h11m33 0h5m5 0h6m21 0h6m70 0h5m27 0h6m54 0h5m16 0h6m5 0h6m275 0h5M127 717.5h6m27 0h5m6 0h5m5 0h6m27 0h5m11 0h5m22 0h5m49 0h5m173 0h6m48 0h6m37 0h6m21 0h6m43 0h5M160 708.5h5m11 0h5m49 0h5m6 0h5m92 0h5m6 0h11m91 0h6m11 0h5m22 0h5m194 0h6M144 699.5h5m32 0h6m129 0h6m43 0h11m54 0h5m249 0h5m162 0h5M246 690.5h6m5 0h5m103 0h5m114 0h5m11 0h11m102 0h6m32 0h6M252 679.5h5m108 0h5m22 0h5m76 0h5m27 0h6m65 0h5M160 670.5h5m16 0h6m21 0h11m33 0h5m135 0h5m22 0h5m6 0h5m27 0h6m27 0h5m32 0h6m38 0h5m5 0h6m178 0h5M171 659.5h5m5 0h6m32 0h6m16 0h11m5 0h5m17 0h5m11 0h5m124 0h6m54 0h5m38 0h5m27 0h6m38 0h5m119 0h5M154 650.5h6m11 0h5m5 0h6m5 0h6m21 0h6m10 0h6m11 0h10m38 0h6m21 0h6m10 0h6m5 0h6m59 0h5m44 0h5m22 0h5m11 0h5m43 0h6m38 0h5m38 0h5m254 0h5m22 0h5M246 641.5h6m81 0h5m11 0h5m43 0h6m59 0h6m86 0h5M165 632.5h6m16 0h5m6 0h5m54 0h5m11 0h6m59 0h5m6 0h5m54 0h6m91 0h6m21 0h6m5 0h6m178 0h5m119 0h5M198 621.5h5m11 0h5m70 0h6m86 0h6m27 0h5m173 0h5m76 0h5M154 612.5h6m21 0h6m11 0h10m216 0h6m38 0h5m43 0h6m27 0h10m11 0h6m32 0h5m22 0h5m87 0h5m6 0h5M122 601.5h5m11 0h6m43 0h5m43 0h6m21 0h6m5 0h6m21 0h6m10 0h6m16 0h5m27 0h6m27 0h5m81 0h6m151 0h5m227 0h5M192 592.5h6m70 0h5m54 0h6m54 0h5m16 0h6m410 0h5M144 583.5h10m87 0h5m6 0h5m59 0h11m49 0h5m6 0h5m22 0h5m76 0h5m59 0h6m5 0h6m275 0h5M122 574.5h5m22 0h5m184 0h5m22 0h5m125 0h5m5 0h6m11 0h5m140 0h6m205 0h5M160 563.5h5m6 0h5m92 0h5m6 0h5m59 0h6m151 0h5m11 0h6m32 0h5M160 554.5h5m54 0h6m43 0h5m33 0h10m27 0h6m11 0h5m16 0h11m5 0h6m5 0h6m10 0h6m146 0h5m32 0h6m38 0h5M133 543.5h5m43 0h6m70 0h5m216 0h6m194 0h6m5 0h5m54 0h6M306 534.5h5m103 0h5m162 0h5m44 0h5m22 0h5m5 0h6m16 0h5m157 0h5M230 525.5h5m87 0h5m22 0h5m141 0h5m11 0h5m65 0h5m60 0h5m76 0h5M122 516.5h5m22 0h5m22 0h5m130 0h5m49 0h5m17 0h5m32 0h6m48 0h6m97 0h5m319 0h5M165 505.5h6m27 0h5m32 0h6m21 0h6m11 0h5m65 0h5m33 0h5m5 0h6m70 0h11m70 0h5m22 0h5m76 0h5M176 496.5h5m71 0h5m232 0h6m64 0h6m173 0h5M187 485.5h5m200 0h5M203 476.5h5m76 0h5m17 0h5m54 0h5m195 0h5m22 0h5m76 0h5m92 0h5M144 467.5h5m119 0h5m38 0h5m6 0h5m38 0h5m22 0h11m54 0h5m151 0h6m38 0h5M284 458.5h5m17 0h5m22 0h5m16 0h6m21 0h6m172 0h6m129 0h6M138 447.5h6m10 0h6m124 0h5m22 0h5m81 0h6m11 0h5m32 0h6m75 0h6m16 0h5m6 0h5m6 0h5m81 0h5m60 0h5M154 438.5h6m65 0h5m11 0h5m103 0h5m97 0h11m114 0h5m81 0h5m71 0h5m135 0h5M279 427.5h5m92 0h5m43 0h6m5 0h6m21 0h6m16 0h5m65 0h5M235 418.5h6m16 0h5m11 0h6m10 0h6m248 0h6m64 0h6m11 0h5m243 0h5M165 409.5h6m5 0h5m65 0h11m11 0h5m16 0h6m97 0h5m81 0h11m16 0h6m32 0h6m16 0h5m43 0h6M192 400.5h6m70 0h5m6 0h5m113 0h6m70 0h11m5 0h6m5 0h5m157 0h5m211 0h5m49 0h5M133 389.5h5m54 0h6m37 0h6m75 0h6m75 0h6m59 0h6m32 0h5m11 0h6m54 0h5m43 0h6m21 0h6m167 0h5M149 380.5h5m92 0h6m140 0h11m5 0h6m64 0h6m21 0h6m54 0h5m43 0h6m108 0h5M127 369.5h6m5 0h6m205 0h5m22 0h5m92 0h5m22 0h5m60 0h5m81 0h6m16 0h5M127 360.5h6m5 0h6m81 0h5m32 0h6m38 0h5m383 0h6M127 351.5h6m59 0h6m5 0h5m6 0h5m27 0h6m113 0h5m27 0h6m92 0h5m22 0h5m22 0h10m22 0h5m27 0h6m65 0h5m38 0h5M154 342.5h6m11 0h5m32 0h6m48 0h6m32 0h6m86 0h5m119 0h6m5 0h5m49 0h5m60 0h5m43 0h6m124 0h5M235 331.5h6m81 0h5m265 0h5m60 0h5m97 0h6M208 322.5h6m5 0h6m140 0h5m17 0h5m16 0h6m129 0h11m11 0h5m76 0h5m227 0h5m49 0h5M187 311.5h5m184 0h5m11 0h5m92 0h6m64 0h6m59 0h6m16 0h5m6 0h5m27 0h11M160 302.5h5m6 0h5m43 0h6m59 0h11m16 0h11m54 0h5m92 0h5m76 0h5m11 0h6m16 0h5m81 0h6M122 293.5h5m38 0h6m113 0h5m27 0h6m11 0h5m27 0h5m135 0h6M171 284.5h5m22 0h5m49 0h5m54 0h5m6 0h5m33 0h5m108 0h5m65 0h6m32 0h5m44 0h5m16 0h6m21 0h6m54 0h5M198 273.5h5m54 0h5m87 0h11m135 0h5m32 0h11m6 0h5m54 0h5M208 264.5h6m16 0h5m6 0h5m16 0h6m92 0h5m16 0h6m70 0h5m27 0h6m86 0h5m184 0h5M127 253.5h6m11 0h5m81 0h5m92 0h6m21 0h6m64 0h6m65 0h5m16 0h6m59 0h5m49 0h11m70 0h5m38 0h6M127 244.5h6m32 0h6m167 0h5m33 0h5m11 0h5m71 0h5m22 0h5m27 0h5m6 0h5m43 0h6m32 0h6m16 0h5m43 0h6M208 235.5h6m162 0h5m38 0h11m5 0h6m37 0h6m16 0h5m11 0h6m10 0h6m38 0h5m22 0h5m11 0h5m33 0h5m32 0h6m48 0h6M165 226.5h6m108 0h5m32 0h6m11 0h5m38 0h5m222 0h5m5 0h6m70 0h11m70 0h5m157 0h5M295 215.5h5m319 0h5m27 0h6m27 0h5m38 0h5m119 0h5M230 206.5h5m27 0h6m162 0h11m64 0h6m86 0h11m43 0h6m140 0h5M225 195.5h5m59 0h6m5 0h6m27 0h5m11 0h5m33 0h5m16 0h6m37 0h6m86 0h6m16 0h5m6 0h5m216 0h5M133 186.5h5m16 0h6m21 0h6m54 0h5m92 0h5M252 177.5h5m27 0h5m11 0h6m10 0h11m38 0h5m238 0h5m33 0h5m54 0h6M160 168.5h5m38 0h5m27 0h6m21 0h6m16 0h5m6 0h5m141 0h5m5 0h6m70 0h5m6 0h5m60 0h10m6 0h5m70 0h6m5 0h6M149 157.5h5m11 0h6m86 0h5m17 0h5m162 0h5m6 0h5m87 0h5m38 0h5m76 0h5m200 0h5M273 148.5h6m43 0h5m49 0h5m38 0h5m11 0h6m5 0h5m60 0h5m60 0h10m33 0h5m60 0h5m38 0h5m38 0h5m103 0h5M122 137.5h11m43 0h5m87 0h5m60 0h5m22 0h5m27 0h5m44 0h5m22 0h5m54 0h5m81 0h11m6 0h5m135 0h5M165 128.5h6m129 0h6m32 0h5m6 0h5m22 0h5m16 0h6m38 0h5m49 0h5m5 0h11m22 0h5m60 0h5m16 0h6M133 119.5h5m60 0h5m5 0h6m21 0h6m11 0h5m11 0h5m38 0h5m33 0h5m92 0h5m6 0h5m33 0h5m70 0h6M268 110.5h11m5 0h5m11 0h6m54 0h5m22 0h5m151 0h6m27 0h5m76 0h5M187 99.5h5m6 0h5m103 0h5m54 0h5m27 0h6m38 0h16m38 0h5m16 0h6m32 0h5m33 0h5m130 0h5M208 90.5h6m43 0h5m119 0h6m221 0h5m60 0h5M176 85.5h5m108 0h6m27 0h5m216 0h6m75 0h6m21 0h6m32 0h5"/>
<path stroke="#472f7d" stroke-width="2" d="M516 790h6M273 785h6M343 779h6M149 777h5m87 0h5m43 0h6m43 0h5m157 0h5m22 0h5m60 0h5m81 0h6m32 0h5m27 0h6m5 0h6m86 0h5m49 0h5M262 774h6M262 772h6M268 770h5m405 0h6M516 768h6M160 765h11m10 0h6m92 0h5m130 0h5M198 763h5m65 0h5m227 0h5M338 761h5m146 0h6m64 0h6m92 0h5m11 0h5m11 0h5m22 0h5M306 759h5m27 0h11m75 0h6m21 0h6m151 0h5m103 0h5m38 0h6M208 756h6m32 0h11m49 0h5m38 0h5m60 0h5m113 0h6m48 0h6m81 0h5M165 754h6m37 0h6m81 0h5m16 0h6m48 0h6m38 0h5m200 0h5m11 0h5m38 0h6m54 0h5M171 752h10m216 0h6m43 0h5m44 0h5m76 0h10m6 0h5m60 0h5M144 750h5m22 0h5m32 0h6m32 0h6m16 0h5m6 0h10m76 0h5m17 0h10m54 0h6m11 0h10m38 0h6m275 0h5M122 747h5m135 0h11m124 0h6m237 0h6M149 745h5m11 0h11m43 0h6m108 0h5m49 0h5m32 0h6m32 0h6m91 0h6m48 0h6m32 0h6m10 0h6M138 743h6m64 0h6m5 0h11m38 0h5m22 0h5m130 0h11m59 0h5m108 0h6m27 0h5m43 0h6M214 741h5m103 0h5m87 0h5m16 0h6m21 0h6m5 0h5m108 0h6M160 739h5m11 0h5m60 0h5m151 0h11m54 0h6m21 0h6m21 0h6m10 0h6m108 0h5m16 0h6m86 0h6m86 0h5m22 0h5m22 0h5M192 736h6m86 0h5m168 0h5m49 0h11m27 0h10m65 0h6M181 734h6m5 0h6m5 0h5m38 0h6m135 0h5m97 0h6m5 0h5M122 732h5m76 0h5m54 0h6m27 0h5m16 0h6m65 0h5m200 0h5m11 0h5M149 730h5m38 0h6m48 0h6m27 0h10m60 0h5m87 0h5m16 0h6m59 0h5m87 0h11m27 0h5m86 0h6M160 727h5m254 0h5m11 0h6m318 0h6m86 0h5M149 725h5m38 0h6m32 0h5m49 0h5m184 0h11m65 0h5m5 0h11m22 0h5m49 0h5m87 0h5M127 723h6m102 0h6m81 0h5m27 0h11m22 0h5m22 0h5m43 0h6m97 0h5m22 0h5m60 0h5M208 721h6m16 0h5m60 0h5m27 0h6m21 0h6m108 0h10m44 0h10m22 0h5m65 0h6m54 0h5m81 0h5M160 719h5m92 0h5m49 0h5m81 0h6m86 0h6m16 0h5m22 0h11m21 0h6m102 0h6m64 0h6m151 0h5M154 716h6m38 0h5m59 0h6m129 0h6m189 0h5m97 0h6M127 714h6m11 0h5m119 0h5m16 0h11m97 0h6m38 0h5m81 0h5m27 0h6m205 0h5m157 0h5M133 712h5m87 0h5m130 0h5m27 0h5m27 0h11m76 0h5m97 0h6m70 0h11M230 710h5m92 0h6m54 0h5m11 0h5m6 0h5m54 0h5m11 0h6m70 0h5m60 0h5m38 0h11m64 0h6M133 707h5m27 0h6m16 0h5m27 0h6m10 0h6m11 0h5m70 0h6m37 0h6m124 0h5m6 0h5M316 705h6m59 0h6m5 0h5m6 0h5m103 0h5m60 0h5m11 0h5m11 0h5m33 0h5m11 0h5M176 703h5m227 0h6m97 0h5m11 0h5m114 0h5M138 701h6m70 0h5m49 0h5m6 0h5m43 0h6m27 0h5m27 0h5m11 0h6m32 0h5m27 0h6m5 0h16m130 0h5m11 0h6M133 698h5m11 0h5m17 0h5m54 0h5m49 0h5m11 0h6m10 0h6m43 0h5m49 0h5m22 0h11m75 0h6m38 0h5m11 0h5m6 0h10m11 0h11m27 0h5m22 0h5m103 0h5M122 696h5m22 0h5m92 0h6m10 0h6m383 0h6m275 0h5M192 694h6m102 0h6m16 0h5m81 0h11m54 0h5m22 0h5m27 0h6m70 0h5m11 0h6m5 0h5m11 0h6m10 0h6M257 692h5m27 0h6m11 0h5m38 0h5m16 0h6m11 0h5m5 0h6m43 0h5m114 0h11m54 0h5m27 0h5m38 0h6M165 689h6m108 0h5m16 0h6m232 0h5M176 687h5m243 0h6m5 0h6m81 0h5m43 0h6m183 0h6M354 685h6m10 0h11m146 0h5m98 0h5m32 0h6m86 0h6M133 683h5m6 0h5m22 0h5m16 0h6m59 0h5m54 0h6m5 0h6m5 0h5m54 0h6m5 0h6m21 0h6m108 0h10m60 0h5m173 0h5M149 681h5m44 0h5m38 0h5m22 0h5m11 0h5m11 0h6m91 0h6m5 0h6m16 0h5m38 0h5m11 0h6m81 0h5m11 0h5m27 0h6M171 678h5m65 0h5m97 0h6m102 0h6m16 0h5m103 0h5m17 0h5m38 0h5M192 676h6m5 0h5m76 0h5m98 0h5m5 0h6m38 0h5m38 0h5m6 0h5m92 0h11M160 674h11m97 0h5m33 0h10m17 0h10m17 0h5m11 0h5m6 0h10m49 0h5m54 0h6m54 0h5m43 0h11m38 0h5m22 0h5M122 672h5m27 0h6m43 0h5m6 0h5m22 0h5m38 0h5m71 0h5m86 0h6m16 0h5m6 0h5m16 0h6m5 0h6m43 0h5M127 669h11m11 0h5m49 0h5m33 0h5m22 0h5m38 0h5m76 0h5m11 0h6m32 0h5m76 0h5m38 0h6m329 0h5M133 667h11m37 0h6m205 0h5m87 0h5m22 0h5m108 0h6m86 0h5M187 665h5m168 0h5m11 0h5m6 0h5m81 0h5m11 0h6m178 0h5M127 663h6m194 0h6m113 0h5m108 0h6m59 0h6m75 0h6M257 661h5m11 0h6m5 0h5m157 0h5m27 0h6m48 0h6m54 0h5m43 0h6m102 0h6m70 0h5m22 0h5M198 658h5m124 0h6m10 0h6m27 0h5m33 0h5m11 0h5m6 0h5m5 0h6m5 0h6m54 0h5m65 0h5m22 0h5m200 0h5m22 0h5M144 656h5m5 0h6m59 0h6m86 0h5m11 0h6m151 0h5m103 0h5m16 0h6m32 0h6M138 654h6m167 0h5m17 0h5m5 0h11m33 0h5m162 0h5m27 0h6m5 0h6m21 0h6m129 0h6M154 652h11m60 0h5m38 0h5m308 0h5m54 0h6m70 0h5m38 0h6M127 649h6m92 0h5m108 0h5m33 0h5m43 0h6m178 0h5m103 0h5M208 647h6m16 0h5m6 0h5m157 0h5m108 0h6m32 0h5m49 0h5m44 0h5M127 645h6m75 0h6m65 0h5m32 0h6m11 0h10m22 0h5m98 0h5m43 0h6m32 0h5m71 0h5m27 0h11m75 0h6m16 0h5m76 0h5M127 643h6m194 0h6m43 0h5m33 0h5m162 0h5m152 0h5m27 0h5m157 0h5M154 640h6m59 0h6m5 0h5m6 0h5m16 0h6m210 0h6m21 0h6m86 0h6m48 0h11m27 0h5M138 638h6m32 0h5m22 0h5m114 0h5m43 0h6m194 0h6m91 0h6m54 0h5M160 636h11m16 0h5m16 0h6m16 0h5m162 0h6m5 0h6m145 0h6m75 0h6m113 0h6M165 634h6m54 0h5m76 0h10m173 0h6m97 0h5m65 0h5m60 0h5m200 0h5M225 631h5m92 0h5m43 0h6m38 0h5m43 0h6m5 0h5m6 0h5m259 0h6M122 629h5m65 0h11m97 0h6m10 0h6m48 0h6m86 0h6m91 0h6m151 0h5m157 0h5m22 0h5m22 0h5M138 627h6m21 0h6m124 0h5m11 0h5m276 0h11m59 0h5m38 0h6M208 625h6m275 0h6m48 0h6m43 0h5m27 0h6m75 0h6M176 623h5m27 0h6m59 0h6m16 0h5m16 0h6m27 0h11m16 0h5m60 0h5m38 0h5m97 0h11m81 0h6M149 620h11m54 0h16m32 0h6m75 0h6m5 0h6m10 0h6m108 0h5m81 0h6m37 0h6m27 0h5M127 618h6m86 0h6m59 0h5m11 0h6m21 0h6m59 0h5m103 0h5m60 0h5m27 0h6m43 0h5m22 0h5m16 0h6m59 0h6m5 0h5m76 0h5M133 616h5m54 0h6m54 0h5m103 0h5m49 0h5m81 0h5m22 0h5m87 0h5m65 0h5m11 0h6M149 614h5m22 0h5m22 0h5m260 0h5m5 0h6m5 0h6m124 0h5m16 0h6m21 0h6m16 0h5M192 611h6m10 0h6m32 0h6m32 0h5m54 0h6m43 0h5m27 0h6m54 0h5m130 0h5m22 0h5m108 0h6M149 609h5m6 0h5m49 0h5m38 0h5m27 0h6m65 0h5m92 0h5m22 0h5m108 0h11m22 0h5m16 0h6m16 0h5m49 0h5m27 0h6M133 607h5m33 0h5m157 0h5m16 0h6m32 0h5m11 0h6m5 0h5m33 0h5m16 0h6m92 0h5m113 0h6m5 0h6m5 0h5M133 605h5m173 0h5m17 0h5m5 0h6m11 0h5m86 0h6m11 0h5m59 0h6m86 0h6m16 0h5m38 0h5M300 603h6m16 0h5m303 0h10M122 600h5m49 0h5m27 0h6m11 0h5m5 0h6m43 0h5m27 0h6m11 0h5m49 0h10m200 0h6m5 0h5m27 0h6m38 0h5M208 598h6m38 0h5m5 0h6m48 0h6m43 0h5m33 0h5m49 0h5m6 0h5m59 0h6m32 0h6m140 0h5M279 596h10m11 0h6m43 0h5m114 0h10m130 0h5m265 0h5M284 594h11m124 0h5m33 0h5m38 0h5m22 0h5m103 0h5m22 0h5m71 0h5M208 591h6m21 0h6m81 0h5m27 0h6m70 0h5m92 0h5m33 0h5m65 0h5m27 0h6m21 0h6m59 0h6M138 589h6m16 0h5m92 0h5m173 0h11m27 0h5m168 0h5m16 0h11M133 587h5m16 0h6m86 0h6m5 0h5m6 0h5m11 0h5m92 0h6m75 0h6m16 0h5m33 0h5m11 0h5m33 0h5m5 0h6m286 0h5M122 585h5m81 0h6m178 0h5m71 0h5m32 0h6m205 0h5M262 582h6m81 0h11m32 0h5m38 0h6m124 0h5m16 0h6m21 0h6m21 0h6m5 0h6m275 0h5M257 580h5m6 0h5m22 0h5m6 0h5m27 0h5m65 0h6m27 0h5m157 0h10m65 0h6M149 578h5m17 0h5m76 0h5m59 0h6m108 0h5m49 0h5m33 0h5m86 0h6m11 0h5m22 0h5m11 0h5m6 0h5m5 0h6M144 576h5m70 0h6m16 0h5m22 0h11m64 0h11m195 0h5m27 0h5m87 0h5m60 0h5m5 0h6m43 0h5M133 573h5m6 0h5m76 0h5m227 0h5m22 0h5m6 0h5m54 0h5M268 571h5m27 0h6m162 0h5m173 0h5M208 569h11m81 0h6m70 0h11m75 0h6m21 0h6m5 0h5m87 0h5m70 0h6m11 0h5M165 567h6m37 0h6m5 0h6m21 0h6m10 0h6m162 0h5m249 0h5m38 0h5M214 565h5m43 0h6m59 0h6m16 0h11m27 0h5m97 0h11m65 0h5M230 562h11m21 0h6m38 0h5m5 0h6m48 0h6m81 0h5m49 0h5m162 0h6m167 0h5m22 0h5M165 560h6m32 0h5m65 0h6m5 0h5m92 0h6m21 0h6m70 0h5m114 0h5m70 0h6m21 0h6M192 558h6m172 0h6m5 0h6m16 0h5m22 0h5m60 0h5m5 0h6m16 0h5m22 0h5m11 0h6m32 0h5m33 0h5m6 0h5m43 0h6m86 0h5M133 556h5m292 0h5m6 0h5m124 0h6m10 0h11m27 0h6m59 0h5M300 553h6m64 0h6m81 0h5m130 0h5m11 0h5m27 0h6m232 0h5M262 551h6m32 0h6m64 0h6m16 0h5m71 0h5m43 0h6m43 0h5m16 0h6M311 549h5m125 0h5m11 0h5m141 0h5m16 0h6m10 0h6m48 0h6m70 0h5M219 547h11m32 0h6m27 0h11m32 0h5m71 0h5m32 0h6m32 0h6m140 0h5m22 0h5m49 0h5M295 545h5m324 0h6m5 0h5m38 0h6m10 0h6M171 542h10m76 0h5m49 0h5m233 0h5m108 0h5M144 540h10m184 0h5m168 0h5m54 0h6m21 0h6m32 0h5m65 0h6m37 0h6m43 0h5M171 538h5m135 0h5m17 0h5m59 0h6m32 0h6m410 0h5m22 0h5M203 536h5m22 0h5m22 0h5m33 0h11m32 0h5m49 0h5m33 0h5m76 0h5M354 533h6m70 0h5m49 0h5m108 0h6m32 0h5m17 0h5m108 0h5M138 531h6m135 0h5m11 0h5m70 0h6m27 0h5m6 0h5m130 0h5m5 0h6m27 0h5m33 0h5M235 529h6m32 0h11m54 0h5m11 0h6m54 0h5m27 0h5m76 0h5m108 0h6m48 0h6M192 527h6m194 0h5m87 0h5m60 0h5m5 0h6m86 0h6m21 0h6m86 0h5M165 524h6m108 0h5m65 0h5m33 0h5m5 0h6m194 0h11m38 0h5m65 0h5M160 522h5m11 0h5m6 0h5m43 0h6m97 0h5m233 0h5m11 0h5m43 0h6m27 0h5M149 520h5m98 0h5m27 0h5m49 0h16m27 0h6m156 0h6m10 0h6m11 0h5m16 0h6m10 0h6m32 0h6m10 0h6M127 518h6m5 0h6m70 0h5m6 0h5m49 0h5m27 0h5m11 0h6m86 0h5m6 0h5m157 0h5m11 0h5m60 0h5m81 0h6M149 515h5m33 0h11m129 0h6m97 0h5m6 0h5m16 0h6m16 0h5m6 0h5m27 0h5m98 0h5m54 0h5M138 513h6m10 0h6m43 0h5m27 0h6m86 0h6m16 0h5m173 0h5m76 0h5m33 0h5m6 0h5m86 0h6M160 511h5m27 0h6m16 0h5m151 0h6m97 0h5m17 0h5m16 0h6m37 0h6m86 0h6m37 0h6m16 0h5m27 0h6m124 0h5m49 0h5M203 509h5m38 0h6m32 0h5m6 0h5m22 0h11m43 0h5m70 0h6m70 0h5m33 0h5m22 0h5m33 0h5m243 0h5M235 507h6m43 0h5m38 0h6m118 0h6m102 0h6m97 0h5m11 0h6M138 504h6m59 0h5m49 0h5m17 0h5m146 0h5m81 0h6m86 0h5m22 0h5m22 0h5m22 0h5m130 0h5M122 502h5m168 0h5m38 0h16m65 0h5m33 0h5m49 0h5m43 0h6m32 0h6m37 0h6m92 0h5M127 500h6m59 0h6m70 0h5m103 0h5m54 0h6m113 0h5m168 0h5m16 0h6M149 498h5m17 0h16m16 0h5m71 0h5m22 0h10m27 0h6m32 0h6m70 0h5m54 0h6m97 0h5m54 0h6m32 0h5m6 0h5m16 0h6M187 495h5m162 0h6m37 0h11m76 0h5m54 0h6m5 0h5m11 0h6m64 0h6m124 0h5M203 493h5m65 0h6m156 0h11m32 0h6m5 0h6m16 0h5m151 0h6m21 0h6M160 491h5m184 0h5m76 0h5m33 0h10m11 0h6m27 0h5m81 0h5m11 0h11M187 489h5m130 0h5m27 0h6m16 0h5m33 0h5m27 0h5m146 0h6m54 0h5m27 0h5M122 487h5m92 0h6m145 0h6m16 0h5m22 0h5m38 0h6m64 0h6m43 0h5m11 0h6m54 0h5m162 0h5M165 484h6m54 0h5m76 0h5m43 0h11m11 0h5m81 0h6m54 0h10m81 0h6m5 0h6m21 0h6m81 0h5M122 482h5m44 0h5m38 0h5m81 0h11m5 0h6m11 0h5m32 0h6m16 0h5m114 0h5m135 0h6m32 0h11M219 480h6m43 0h5m195 0h5m54 0h5M160 478h5m33 0h5m70 0h6m75 0h6m21 0h6m102 0h6m10 0h6m54 0h16m43 0h6m108 0h5M187 475h5m6 0h5m108 0h11m16 0h5m76 0h5m87 0h5m43 0h6m38 0h5m151 0h6m167 0h5M176 473h5m38 0h11m54 0h5m38 0h6m178 0h5m189 0h6m86 0h5M154 471h6m32 0h6m16 0h5m157 0h5m81 0h6m37 0h6m59 0h6m64 0h6m16 0h5m6 0h5M176 469h5m162 0h6m11 0h10m92 0h6m70 0h5m60 0h5m11 0h5M122 466h5m146 0h6m27 0h5m81 0h5m17 0h5m76 0h5m22 0h5m54 0h5m38 0h6m10 0h6m38 0h5m70 0h6m113 0h5M154 464h6m65 0h5m70 0h6m48 0h6m54 0h5m22 0h5m11 0h5m33 0h5m119 0h11m118 0h6M149 462h5m22 0h5m65 0h6m16 0h11m86 0h5m33 0h5m119 0h5m27 0h6m16 0h5M171 460h5m5 0h6m38 0h5m32 0h6m43 0h5m81 0h6m54 0h5m6 0h5m92 0h5m6 0h5m5 0h6m81 0h5m49 0h5M311 457h5m130 0h5m6 0h5m16 0h6m11 0h5m86 0h6m81 0h5m70 0h6M149 455h5m11 0h6m32 0h5m54 0h6m86 0h6m178 0h5m16 0h6m27 0h5m54 0h6m5 0h5m22 0h5m11 0h6M149 453h5m92 0h6m243 0h5m108 0h5m38 0h6m59 0h5m17 0h5m162 0h5M241 451h5m43 0h6m16 0h5m6 0h5m43 0h6m108 0h5m16 0h6m27 0h11m81 0h5m22 0h5m108 0h5M160 449h5m168 0h5m59 0h6m32 0h6m86 0h5m17 0h5m5 0h6m5 0h6m10 0h6m16 0h5M219 446h6m5 0h5m11 0h6m43 0h5m87 0h5m16 0h6m16 0h5m22 0h5m49 0h5m114 0h5m11 0h11m5 0h5m71 0h5m16 0h6M133 444h5m16 0h6m65 0h5m32 0h6m92 0h5m38 0h5m92 0h5m22 0h5M149 442h5m49 0h5m87 0h5m43 0h6m5 0h11m5 0h6m59 0h6m54 0h5m27 0h5m44 0h10m6 0h5m27 0h6m54 0h5m5 0h6M160 440h5m108 0h6m5 0h5m22 0h5m189 0h6m5 0h6m10 0h6m75 0h6m5 0h6m48 0h6m54 0h5m54 0h5m22 0h5M338 437h5m44 0h5m38 0h5m54 0h6m10 0h6m5 0h6m48 0h6m10 0h6m81 0h5M144 435h5m38 0h5m27 0h6m118 0h6m5 0h6m81 0h5m38 0h5m443 0h5M154 433h6m5 0h11m65 0h5m81 0h6m21 0h6m205 0h5m38 0h5m6 0h5m92 0h5M149 431h5m11 0h6m10 0h6m5 0h6m86 0h5m27 0h6m11 0h5m81 0h5m44 0h5m32 0h6m48 0h6m59 0h6m10 0h6m16 0h5M154 429h6m81 0h5m27 0h11m227 0h5M165 426h6m64 0h6m54 0h5m38 0h5m33 0h5m16 0h6m124 0h5m27 0h6m65 0h5m49 0h5M149 424h5m227 0h6m64 0h6m16 0h5m44 0h5m32 0h17m91 0h6M154 422h6m97 0h5m17 0h5m189 0h5m17 0h5m16 0h6m5 0h5m49 0h5m119 0h6M187 420h5m54 0h6m27 0h5m59 0h6m11 0h5m11 0h5m76 0h11m5 0h5m38 0h6m21 0h6m70 0h5m135 0h6m5 0h5M149 417h5m38 0h6m21 0h6m32 0h5m11 0h6m32 0h5m11 0h6m32 0h5m76 0h5m11 0h6m91 0h6m75 0h6m16 0h5m38 0h6m16 0h5M154 415h6m140 0h6m102 0h6m86 0h5m33 0h5m49 0h5m49 0h5m6 0h5m5 0h6m5 0h6M149 413h5m65 0h6m59 0h5m54 0h6m48 0h6m27 0h5m6 0h5m113 0h6m119 0h5m189 0h5M176 411h5m38 0h6m205 0h5m33 0h5m103 0h10m38 0h6M160 408h5m11 0h5m81 0h6m65 0h10m11 0h6m10 0h6m11 0h5m22 0h5m27 0h5m76 0h5m33 0h5m11 0h11m86 0h6M165 406h6m16 0h5m162 0h6m97 0h5m60 0h5m5 0h6m189 0h5M235 404h6m75 0h6m11 0h5m59 0h6m119 0h5m178 0h6M122 402h5m265 0h5m11 0h6m194 0h5m22 0h5m65 0h6M203 399h5m119 0h11m38 0h5m22 0h5m119 0h11m27 0h11M219 397h6m48 0h6m124 0h5m16 0h6m92 0h5m32 0h6m124 0h5M138 395h6m199 0h6m129 0h6m54 0h5m103 0h5m146 0h5M165 393h6m10 0h6m43 0h5m60 0h5m114 0h5m5 0h6m48 0h11m27 0h6m113 0h5m17 0h5m5 0h6m65 0h5M181 391h11m22 0h5m54 0h6m48 0h6m221 0h5M144 388h5m65 0h5m76 0h5m11 0h5m119 0h6m16 0h5m76 0h5m16 0h6m21 0h6m32 0h6m140 0h5m103 0h5m49 0h5M160 386h5m33 0h5m49 0h5m16 0h6m21 0h6m16 0h5m76 0h5m27 0h6m48 0h6m32 0h5m65 0h6M133 384h5m43 0h6m173 0h5m81 0h5m76 0h5m76 0h11m16 0h5m11 0h6m16 0h11m75 0h6M198 382h5m16 0h6m124 0h5m92 0h5m103 0h5m27 0h6m21 0h6m86 0h6M187 379h5m108 0h6m21 0h6m81 0h5m27 0h5m6 0h5m49 0h5m60 0h5m16 0h6M187 377h5m11 0h5m92 0h6m27 0h5m103 0h5M149 375h5m6 0h11m10 0h6m167 0h6m70 0h5m16 0h6m11 0h5m97 0h6m43 0h5M246 373h11m97 0h6m48 0h6m64 0h6m16 0h5m71 0h5m27 0h11M154 371h6m70 0h5m22 0h5m38 0h6m16 0h5m130 0h5m81 0h6m27 0h5m22 0h10m17 0h5m11 0h5m27 0h6m32 0h5M138 368h6m54 0h10m54 0h6m27 0h5m168 0h5m43 0h6m54 0h5m113 0h6M219 366h6m102 0h6m27 0h5m32 0h6m16 0h5m11 0h6m43 0h5m124 0h6m27 0h11m27 0h5M198 364h10m108 0h6m5 0h6m27 0h10m22 0h5m103 0h11m146 0h5M122 362h5m33 0h5m27 0h6m48 0h11m16 0h6m129 0h6m113 0h11m27 0h5m124 0h6M138 359h6m16 0h5m124 0h6m97 0h5m17 0h5m16 0h6m43 0h5m33 0h10m108 0h6m70 0h5m17 0h5M289 357h6m5 0h6m16 0h5m119 0h5m33 0h5m43 0h6m48 0h6m16 0h5M154 355h6m5 0h6m10 0h17m102 0h6m5 0h5m27 0h6m11 0h5m59 0h6m124 0h5m38 0h6m10 0h6m54 0h5m49 0h5M127 353h6m21 0h6m16 0h5m98 0h5m16 0h6m32 0h5m6 0h11m48 0h6m86 0h5m17 0h5m27 0h5m44 0h5M279 350h5m248 0h11m70 0h6m65 0h5M187 348h5m146 0h5m38 0h6m27 0h5m65 0h5m70 0h6m16 0h5m6 0h5m227 0h5M192 346h6m75 0h11m54 0h5m17 0h5m16 0h6m16 0h5m60 0h5m11 0h5m65 0h5m6 0h5m135 0h6m48 0h6m86 0h5M127 344h6m11 0h5m92 0h5m65 0h5m22 0h5m6 0h5m38 0h5m60 0h5m11 0h11m86 0h6m194 0h5M187 341h5m38 0h5m71 0h5m54 0h5m17 0h5m5 0h6m70 0h5m11 0h6m97 0h5m81 0h6M208 339h6m16 0h5m179 0h5m103 0h5m11 0h5m76 0h5M198 337h5m11 0h5m49 0h5m38 0h11m43 0h5m119 0h6m97 0h5M144 335h5m70 0h6m91 0h6m11 0h5m76 0h5m205 0h6m54 0h10m130 0h5M171 333h5m5 0h11m6 0h10m44 0h5m16 0h6m5 0h5m276 0h5m54 0h6M306 330h5m49 0h5m22 0h5m22 0h5m54 0h5m49 0h5m27 0h6m54 0h11m48 0h6M165 328h6m21 0h6m5 0h5m33 0h5m33 0h5m16 0h6m27 0h5m97 0h16m11 0h6m183 0h6m5 0h5m11 0h11M144 326h5m5 0h11m11 0h5m60 0h5m33 0h5m38 0h5m16 0h11m87 0h5m38 0h5m119 0h5m54 0h6m16 0h5m238 0h5M122 324h5m98 0h5m11 0h5m22 0h5m27 0h6m54 0h5m43 0h6m27 0h10m11 0h6m32 0h5m173 0h6M144 321h5m135 0h5m6 0h5m108 0h6m16 0h5m49 0h5m200 0h5M149 319h11m5 0h6m32 0h5m22 0h5m33 0h5m27 0h6m16 0h5m92 0h5m71 0h5m76 0h5m59 0h6m286 0h5M122 317h5m33 0h5m124 0h6m70 0h11m11 0h5m135 0h5m44 0h5m54 0h5m17 0h5m22 0h5M144 315h5m81 0h5m11 0h6m178 0h5m205 0h6m16 0h5m6 0h5m11 0h11m27 0h5m119 0h5M187 313h5m114 0h5m70 0h6m21 0h6m54 0h5m43 0h6m43 0h11m43 0h5m6 0h10M122 310h5m98 0h5m22 0h5m11 0h5m43 0h6m27 0h11m32 0h5m22 0h5m6 0h5m11 0h11m38 0h5m5 0h6m54 0h5m108 0h6m32 0h5m6 0h5M138 308h6m102 0h6m64 0h6m54 0h5m60 0h5m5 0h6m75 0h6m65 0h5m54 0h5m49 0h5m6 0h5m200 0h5M127 306h6m70 0h5m146 0h6m75 0h6m10 0h11m16 0h6m108 0h11m75 0h16M241 304h5m54 0h6m5 0h5m44 0h5m108 0h11m27 0h5m65 0h5m6 0h5m54 0h11m86 0h6M160 301h5m54 0h6m5 0h5m44 0h10m38 0h6m16 0h5m130 0h5m49 0h5m97 0h6m38 0h5m16 0h6M133 299h5m6 0h5m59 0h6m5 0h6m5 0h5m119 0h6m91 0h6m119 0h5m124 0h6m5 0h5m38 0h6M138 297h6m113 0h5m11 0h6m59 0h5m60 0h5m22 0h5m27 0h6m43 0h5m38 0h5m17 0h5M246 295h6m81 0h5m38 0h5m65 0h5m54 0h6m65 0h5m59 0h6m27 0h5M138 292h6m54 0h5m76 0h5m254 0h5m103 0h5m22 0h5M225 290h5m135 0h5m108 0h6m5 0h6m91 0h11M241 288h5m6 0h5m130 0h5m65 0h5m81 0h6m97 0h5M214 286h5m43 0h6m59 0h6m54 0h5m65 0h5m49 0h5m16 0h6m86 0h6m5 0h5m238 0h5M122 283h5m81 0h6m70 0h5m103 0h5m81 0h6m27 0h5m141 0h5m11 0h5M154 281h6m59 0h6m97 0h5m49 0h5m6 0h5m49 0h5m178 0h6M144 279h5m49 0h5m38 0h5m114 0h5m22 0h5m11 0h11m113 0h5m38 0h6m118 0h6M187 277h5m70 0h6m27 0h5m11 0h5m146 0h6m302 0h5M360 275h10m60 0h11m54 0h5m65 0h5m114 0h5m70 0h6M192 272h6m70 0h5m43 0h6m38 0h5m27 0h5m76 0h5m103 0h5m38 0h6m194 0h5M192 270h6m91 0h6m27 0h5m54 0h6m91 0h6m32 0h6m27 0h5m27 0h5m60 0h5m38 0h5m103 0h5M160 268h11m118 0h6m75 0h11m38 0h5m11 0h6m43 0h5m81 0h6m5 0h5M154 266h6m97 0h11m16 0h5m6 0h5m22 0h5m43 0h6m75 0h6m11 0h5m54 0h5m27 0h6m16 0h16m22 0h5m65 0h5m22 0h5M225 263h5m389 0h5m38 0h5m22 0h5m22 0h5M165 261h6m37 0h6m54 0h11m97 0h5m11 0h5m11 0h6m102 0h6m59 0h5m27 0h6m59 0h11m135 0h5M133 259h11m54 0h5m5 0h6m48 0h6m16 0h11m27 0h5m222 0h5m11 0h5m65 0h5M122 257h5m49 0h5m60 0h11m172 0h6m43 0h11m48 0h6m75 0h6m97 0h5M154 255h6m97 0h5m92 0h6m37 0h6m210 0h6m108 0h5m92 0h5m49 0h5M138 252h6m54 0h5m49 0h10m189 0h6m65 0h5m38 0h5m76 0h5M203 250h5m141 0h5m11 0h5m17 0h5m43 0h6m21 0h6m5 0h5m179 0h5m22 0h5m16 0h6M246 248h6m10 0h6m173 0h10m11 0h6m81 0h5m16 0h6m10 0h6m43 0h5M208 246h6m38 0h5m76 0h5m22 0h5m11 0h5m16 0h11m33 0h5m270 0h5M165 243h6m75 0h6m37 0h6m97 0h5m11 0h6m216 0h5M133 241h5m38 0h5m6 0h5m6 0h10m27 0h11m168 0h5m70 0h6m21 0h6m102 0h6M198 239h5m59 0h6m151 0h5m60 0h5m6 0h5m22 0h5m49 0h5m16 0h6m156 0h6M133 237h11m59 0h11m65 0h10m60 0h11m64 0h6m86 0h6m54 0h5m43 0h6m27 0h10m60 0h5M149 234h16m33 0h5m5 0h6m11 0h5m54 0h5m6 0h5m87 0h5m27 0h5m22 0h5m6 0h5m38 0h5m92 0h6m21 0h6M160 232h5m16 0h6m81 0h5m22 0h5m43 0h6m97 0h5m254 0h6m5 0h5m38 0h6M192 230h6m32 0h5m119 0h6m216 0h5m11 0h5m11 0h5m265 0h5M311 228h5m227 0h6m86 0h5m27 0h6M122 225h5m135 0h6m32 0h6m27 0h5m49 0h5m38 0h5m33 0h10m98 0h5m54 0h5m11 0h6m16 0h5M181 223h6m92 0h5m119 0h5m49 0h5m119 0h5m92 0h6m86 0h5M154 221h6m59 0h6m43 0h5m27 0h6m27 0h5m27 0h5m152 0h5m49 0h5m81 0h11M192 219h6m16 0h5m76 0h5m119 0h5m130 0h5m60 0h5m49 0h5M316 217h6m81 0h11m21 0h6m5 0h5m44 0h10m38 0h6m5 0h5m27 0h11M149 214h5m54 0h6m5 0h11m27 0h5m11 0h6m21 0h6m10 0h6m11 0h5m86 0h6m54 0h11m10 0h11m65 0h11m21 0h6M122 212h5m49 0h5m11 0h6m37 0h6m27 0h11m253 0h6m38 0h5m178 0h6M122 210h11m108 0h5m54 0h6m97 0h5m33 0h5m49 0h5m49 0h5m140 0h6m124 0h5M208 208h6m135 0h5m16 0h6m81 0h5m222 0h5M138 205h6m21 0h6m70 0h5m11 0h5m27 0h6m16 0h5m157 0h11m146 0h10M192 203h6m151 0h5m6 0h5m16 0h6m27 0h5m135 0h5m6 0h5m22 0h5m81 0h11m27 0h5M154 201h6m5 0h6m162 0h5m65 0h5m16 0h6m92 0h5m151 0h6m10 0h6M176 199h5m17 0h10m38 0h6m32 0h5m11 0h6m75 0h6m124 0h11m27 0h5m135 0h5m184 0h5M424 197h6m16 0h5m179 0h5m22 0h5m97 0h6m5 0h5M225 194h5m22 0h5m113 0h6m38 0h5m70 0h6m178 0h5m60 0h5M144 192h5m146 0h5m38 0h5m76 0h5m27 0h6m11 0h10m65 0h6m70 0h11m16 0h5m6 0h5M138 190h6m70 0h5m308 0h11m70 0h5m71 0h10m33 0h5m92 0h5m22 0h5M138 188h6m54 0h10m103 0h5m6 0h5m6 0h5m16 0h6m172 0h6m21 0h6m162 0h5M133 185h5m27 0h6m16 0h5m27 0h6m21 0h6m248 0h5m49 0h5m49 0h5m184 0h5M144 183h5m38 0h5m6 0h10m38 0h6m81 0h5m97 0h6m37 0h6m11 0h5m11 0h5m157 0h5m70 0h6M219 181h6m48 0h6m140 0h5m189 0h6m11 0h5m113 0h6M127 179h6m75 0h6m5 0h6m129 0h6m16 0h5m54 0h6m48 0h6m43 0h5M149 176h5m17 0h5m5 0h11m54 0h6m59 0h5m11 0h6m10 0h6m108 0h5m38 0h5m27 0h6m59 0h6m32 0h5m38 0h6m32 0h5m130 0h5M154 174h6m38 0h10m38 0h11m49 0h5m97 0h6m5 0h5m92 0h6m59 0h5m87 0h5m70 0h6M138 172h6m32 0h5m44 0h5m54 0h16m38 0h5m17 0h5m22 0h5m11 0h5m16 0h6m38 0h5m70 0h6m64 0h6m43 0h11m21 0h6M127 170h6m81 0h11m10 0h6m113 0h6m91 0h6m129 0h6m38 0h5m70 0h6m37 0h6M160 167h5m49 0h5m119 0h5m44 0h5m119 0h5m130 0h5m16 0h11m6 0h5M138 165h6m32 0h5m125 0h5m5 0h6m43 0h5m54 0h11m254 0h5M187 163h5m108 0h6m16 0h5m65 0h5m49 0h5m22 0h5m60 0h5m33 0h5m22 0h5m32 0h6m27 0h5m16 0h6m59 0h6m32 0h5m76 0h5M214 161h5m22 0h5m157 0h5m11 0h5m38 0h11m86 0h11m16 0h6m5 0h6M160 159h5m65 0h5m33 0h5m151 0h6m21 0h11m157 0h5m11 0h5m44 0h5M133 156h5m92 0h5m22 0h5m87 0h5m303 0h10m17 0h5M144 154h5m49 0h10m49 0h5m6 0h5m124 0h11m38 0h5m6 0h5m87 0h5m194 0h6m124 0h5M133 152h5m60 0h10m22 0h11m205 0h5m6 0h5m6 0h5m49 0h5m16 0h6m75 0h6m21 0h6m21 0h6m10 0h6M300 150h11m49 0h5m302 0h6m16 0h5M127 147h6m65 0h5m27 0h5m17 0h5m227 0h5m103 0h5m97 0h6m59 0h6M338 145h5m17 0h5m113 0h11m119 0h5m11 0h6m194 0h5M144 143h5m130 0h5m59 0h6m97 0h5m135 0h6m86 0h6m5 0h5m54 0h6m16 0h5M133 141h5m11 0h5m6 0h5m103 0h5m124 0h6m11 0h5m38 0h5M181 139h6m16 0h5m22 0h5m65 0h6m108 0h5m76 0h5m16 0h6m27 0h5m16 0h6m5 0h5m76 0h5m22 0h5m33 0h5M235 136h6m11 0h5m140 0h6m32 0h6m43 0h5m6 0h5m22 0h5m70 0h6m10 0h6m97 0h5M284 134h5m44 0h5m16 0h6m43 0h5m87 0h5m92 0h5m6 0h5m11 0h5m11 0h5m119 0h6M144 132h10m108 0h6m21 0h6m11 0h5m65 0h11m21 0h6m167 0h5m27 0h6m11 0h5m27 0h5m184 0h5M397 130h6m11 0h5m54 0h5m125 0h5m70 0h6m43 0h5m27 0h6M149 127h5m38 0h6m129 0h6m70 0h5m33 0h5m27 0h5m38 0h6m108 0h5m11 0h5M144 125h5m92 0h11m21 0h6m10 0h11m87 0h5m5 0h6m5 0h6m16 0h5m54 0h6m27 0h10m22 0h5m60 0h5m43 0h6M316 123h6m97 0h5m38 0h6m118 0h6m92 0h5M181 121h6m11 0h5m221 0h6m86 0h6m64 0h6M241 118h5m27 0h6m43 0h5m22 0h5m11 0h5m146 0h6m64 0h6m5 0h6m86 0h5m54 0h6m70 0h5m103 0h5M387 116h5m108 0h5m103 0h5M133 114h5m49 0h5m27 0h6m64 0h6m43 0h5m233 0h10m44 0h10m17 0h5m16 0h6m5 0h5M171 112h5m16 0h6m27 0h5m108 0h5m119 0h6m54 0h5m5 0h6m32 0h6m5 0h5m71 0h5m65 0h5m65 0h5M219 109h6m48 0h11m22 0h5m22 0h5m130 0h5m49 0h5m22 0h5m11 0h5m124 0h6M149 107h5m33 0h5m6 0h5m167 0h6m11 0h5m97 0h6M208 105h6m16 0h5m22 0h5m125 0h5m108 0h5m103 0h5m265 0h5M160 103h5m38 0h5m92 0h6m16 0h5m249 0h5m16 0h6M122 101h11m16 0h5m65 0h6m75 0h6m113 0h5m87 0h5m11 0h5m22 0h5m17 0h5m81 0h5m81 0h6m151 0h5M208 98h6m59 0h6m27 0h5m81 0h5m76 0h5m17 0h5m16 0h6m37 0h6m113 0h6m221 0h5M192 96h6m145 0h11m11 0h5m33 0h5m33 0h5m70 0h6m48 0h11m16 0h6m145 0h6M154 94h6m124 0h5m146 0h6m10 0h6m21 0h6m5 0h6m54 0h10m11 0h6m21 0h6m27 0h5m54 0h5m22 0h5m27 0h6M300 92h6m97 0h5m81 0h6m21 0h6m43 0h5m11 0h5m27 0h6m16 0h5m22 0h5m11 0h6m10 0h6m70 0h5m22 0h5M165 89h6m37 0h6m21 0h6m38 0h5m22 0h5m97 0h11m5 0h11m16 0h6m54 0h5m308 0h5M192 87h6m43 0h5m38 0h5m6 0h5m22 0h5m6 0h5m5 0h6m135 0h5m54 0h6m5 0h5m33 0h5m76 0h5"/>
<path stroke="#443983" stroke-width="1" d="M462 775.5h6m167 0h5M851 766.5h5M538 757.5h11m248 0h5M489 748.5h6m75 0h6m151 0h5m65 0h5m22 0h5M673 737.5h11m140 0h5M133 728.5h5m259 0h6m259 0h5M511 717.5h5m362 0h5M149 708.5h5m54 0h6m178 0h5m65 0h6m97 0h5M165 699.5h6m43 0h5m22 0h5M322 690.5h5m421 0h6M435 679.5h6m97 0h5M716 670.5h5M122 659.5h5m227 0h6m21 0h6M613 650.5h6M651 641.5h6M441 632.5h5m189 0h5M138 621.5h6m64 0h6m119 0h5M192 612.5h6m199 0h6m259 0h5M133 601.5h5m114 0h5m32 0h6m227 0h5m243 0h5M241 592.5h5m178 0h6m86 0h6m91 0h6m21 0h6M262 583.5h6m410 0h6M300 574.5h6m27 0h5M370 563.5h6m205 0h5M138 554.5h6m270 0h5m70 0h6M435 543.5h6M392 534.5h5m27 0h6m140 0h6M268 525.5h5m578 0h5M160 516.5h5m22 0h5m124 0h6m324 0h5M549 505.5h5m11 0h5m135 0h6M246 496.5h6m10 0h6m200 0h5m49 0h5m124 0h6M214 485.5h5m297 0h16m173 0h6M279 476.5h5m124 0h6m27 0h5m11 0h5M160 467.5h5m33 0h5m130 0h5m38 0h5m6 0h5m189 0h5M235 458.5h6m129 0h6m221 0h6m81 0h5M219 447.5h6m129 0h6m21 0h6M273 438.5h6m16 0h5m54 0h6m5 0h5m141 0h5M505 427.5h6M241 418.5h5m162 0h6m135 0h5M279 409.5h5M241 400.5h5m373 0h5M435 389.5h6m189 0h5M738 380.5h5m189 0h5M268 369.5h5m367 0h6M322 360.5h5m335 0h5m211 0h5M300 351.5h6m291 0h6M198 331.5h5m113 0h6M214 322.5h5m265 0h5m65 0h5M684 311.5h5M133 302.5h5m130 0h5m243 0h6m86 0h5M446 293.5h5m297 0h6M727 284.5h5m92 0h5M489 273.5h6m194 0h5m33 0h5M127 264.5h6M122 253.5h5M727 244.5h5m16 0h6M511 235.5h5m119 0h5m33 0h5M230 226.5h5m103 0h5m119 0h6m75 0h6M208 206.5h6m146 0h5m308 0h5M473 195.5h5m200 0h6M495 186.5h5M489 177.5h6m118 0h6m43 0h5m211 0h5M219 168.5h6m464 0h5M133 148.5h5m27 0h6m64 0h6m86 0h6m172 0h6m162 0h5M138 137.5h6m135 0h5m286 0h6M268 128.5h5M549 119.5h5M138 110.5h6m145 0h6m194 0h6m54 0h5m92 0h5M214 99.5h5m378 0h6M473 90.5h5m6 0h5m11 0h5m92 0h6M198 85.5h5"/>
<path stroke="#443983" stroke-width="2" d="M759 792h6M414 785h5m124 0h6M354 783h6M522 781h5m189 0h5M160 779h5m103 0h5M165 777h11m38 0h5m11 0h11m81 0h5m81 0h11m162 0h5m60 0h5m43 0h6m5 0h6m59 0h5M516 774h6m135 0h5M414 772h5m459 0h5M235 770h6m486 0h5m119 0h5M381 768h6M230 765h5m346 0h5m141 0h5m119 0h5M484 763h5m16 0h6m102 0h6m5 0h6m16 0h5M171 761h5m59 0h6m75 0h6m86 0h6m32 0h5m54 0h6m75 0h11M646 759h5M630 756h5M219 754h6m172 0h6m102 0h6m119 0h5m59 0h6M208 752h6m216 0h5m33 0h5m378 0h5M235 750h6m286 0h5m65 0h6m221 0h5M154 747h6m243 0h5m108 0h6m64 0h6m205 0h5M192 745h6m59 0h5m103 0h5m33 0h5M257 743h5m216 0h6m97 0h5M581 741h5M522 739h5m162 0h5M662 736h5M176 734h5m103 0h5m22 0h5m265 0h5M138 732h6m27 0h5m92 0h5m151 0h6m189 0h5M538 730h5m87 0h5M354 727h6m572 0h5M538 725h5M219 723h6m345 0h6m248 0h5m76 0h5M441 719h5M376 716h5m551 0h5M797 712h5M235 710h11m265 0h5m151 0h6M122 707h5m314 0h5m135 0h5m22 0h5M408 705h6m43 0h5M198 703h5m486 0h5M451 701h6M160 698h5m238 0h5m33 0h5m135 0h5m27 0h6M181 696h6m5 0h6m151 0h5M446 694h5m238 0h5M192 692h6m394 0h5M565 689h5M198 687h5m22 0h5m11 0h5m119 0h5m135 0h6M338 685h5m303 0h5m97 0h6M262 683h6m345 0h6M208 681h6M397 678h6M403 676h5m286 0h6M403 674h5m81 0h6M149 672h5m65 0h6m237 0h6m199 0h6m21 0h6M165 669h6m286 0h5m70 0h6m59 0h6M478 667h6M576 665h5m65 0h5M176 663h5m470 0h6M144 661h5m157 0h5m113 0h6m70 0h5m54 0h6M424 658h6m173 0h5M408 656h6M154 654h6m254 0h5M127 652h6m210 0h6m324 0h5m92 0h5m130 0h5M241 649h5m60 0h5m140 0h6M257 647h5m54 0h6m102 0h6M198 645h5m292 0h5M343 643h6m129 0h6M403 640h5m33 0h5m405 0h5M592 636h5M376 634h5m286 0h6M349 631h5M122 627h5m422 0h5m113 0h6M684 625h5M133 620h5m173 0h5m281 0h6m27 0h5M230 618h5m141 0h5M268 616h5M322 614h5m222 0h5M257 611h5m54 0h6m129 0h6m124 0h5M446 609h5m17 0h10m33 0h11M257 607h5m535 0h5M651 605h6m102 0h6M673 603h5M257 600h5M133 598h5m97 0h6m664 0h5M549 596h5M246 594h6m545 0h5M144 591h5m308 0h5m76 0h5m6 0h5m135 0h5M208 589h6m146 0h5m38 0h5m11 0h5M138 585h6m37 0h11M149 582h5m22 0h5m189 0h6m97 0h5m11 0h6m10 0h6M252 580h5m378 0h5m27 0h6M689 578h5M289 576h6m102 0h6m189 0h5m22 0h5m70 0h6M122 573h5m162 0h6m54 0h5m6 0h5m135 0h5M619 571h5M387 569h5m49 0h5m5 0h6M619 567h5M678 565h6M759 562h6M376 560h5m81 0h6m167 0h5M462 558h6m280 0h6M268 556h5m184 0h5m119 0h5m292 0h5M144 553h5m32 0h6m583 0h5M295 551h5m205 0h6m70 0h5M468 549h5m38 0h5M187 547h5m60 0h5m216 0h5m141 0h5m254 0h5M408 545h6m248 0h5m103 0h5m76 0h5M619 542h5M235 540h6m297 0h5m146 0h5M543 536h6M295 533h5m11 0h5m27 0h6m16 0h5M187 531h5m141 0h5m189 0h11M397 529h6M289 527h6m308 0h5M370 524h6m102 0h6m38 0h10M424 522h6m183 0h6M268 520h5m222 0h5m86 0h6M198 518h5M246 515h6m43 0h5m108 0h6m108 0h5M268 513h5m119 0h5M635 511h5m49 0h5M241 507h5m227 0h5m22 0h5M505 504h6m16 0h5M198 502h5m22 0h5m54 0h5m152 0h5m5 0h6m48 0h6M354 500h6m32 0h5m125 0h5m54 0h5M122 498h5m249 0h5m308 0h5m76 0h5M165 495h6m145 0h6m173 0h5M360 493h5M138 491h6m91 0h6m205 0h5M262 487h6m200 0h5M597 484h6m91 0h6M176 482h5M235 480h6m108 0h5m205 0h11M203 475h5m314 0h5M392 473h5m81 0h6m167 0h6M365 471h5M430 464h5m38 0h5m81 0h6M300 462h6M219 460h6m167 0h5m119 0h6M192 457h6m232 0h5M403 455h5m205 0h6m11 0h5M262 453h6M219 451h6m307 0h6m394 0h5M219 449h6m178 0h5m135 0h6M160 446h5m189 0h6M214 444h5m243 0h6M262 442h6M230 440h5m103 0h5m22 0h5m6 0h5m162 0h11m11 0h5M198 437h10m22 0h5m119 0h6m21 0h6M181 435h6m416 0h5m162 0h5M349 433h5m405 0h6M592 431h5M133 429h5m438 0h5M252 426h5m481 0h5M306 424h5m135 0h5M138 422h6m43 0h5m22 0h5m119 0h5M381 420h6m91 0h6m113 0h6M122 417h5m103 0h5m44 0h5m216 0h5m6 0h5m11 0h5M273 415h6m286 0h5m6 0h5M527 413h5M165 411h6m54 0h5m232 0h6m183 0h6m102 0h6M408 408h6m108 0h5M133 406h5m22 0h5m124 0h6m286 0h5M122 404h5m38 0h6m388 0h6M225 402h5m27 0h5m33 0h5m265 0h5m43 0h6M208 397h6m43 0h5m330 0h5m16 0h6M149 395h5m314 0h5m297 0h5M630 393h5M468 391h5M640 388h6M268 386h5m151 0h6m216 0h5M327 384h6M484 379h5m130 0h5m11 0h5m157 0h5M678 377h6M376 375h5m22 0h5m254 0h5M160 373h5m232 0h6m264 0h6M381 371h6m232 0h11m54 0h5M392 368h5M144 366h5m16 0h6M797 364h5M208 362h6m146 0h5m27 0h5m125 0h5m65 0h5M149 359h5m243 0h11m65 0h5M176 357h5m92 0h6m178 0h5m189 0h6m81 0h5m5 0h6M203 353h11m291 0h6M387 350h5M684 348h5M187 346h5m151 0h6M360 344h5m162 0h5M478 341h6m183 0h6M273 339h11m275 0h6M306 337h5M705 335h6M457 333h5M311 330h5m108 0h6m178 0h5m38 0h6M354 328h6m286 0h5m22 0h5M414 326h5m227 0h5M127 324h6m81 0h5m416 0h5M203 321h5m71 0h5m108 0h5m125 0h5m211 0h5m27 0h5M144 319h5m421 0h6m113 0h5m157 0h5M214 317h5m97 0h6m286 0h5m146 0h6M149 315h5m287 0h5m5 0h6m38 0h5m124 0h6m27 0h5M392 313h5M138 310h6m64 0h6m254 0h5M759 308h6M538 306h5M451 304h6m38 0h5m270 0h5M181 301h6m173 0h5m54 0h5m65 0h6M586 299h6m43 0h5M306 297h5m259 0h6m86 0h5M160 295h5M505 292h6M203 290h5m130 0h5m189 0h6M462 288h6M160 286h5m157 0h5m178 0h6m16 0h5m130 0h5M349 283h5M462 281h6M322 279h5m114 0h5m157 0h5m54 0h5m238 0h5M127 277h6m70 0h5m189 0h6M219 275h6m5 0h5M343 272h6m216 0h5M500 270h5m92 0h6M138 268h6m264 0h6m243 0h5M144 266h5m248 0h6m32 0h6m162 0h5m151 0h6m140 0h5M360 263h5m11 0h5M219 261h6m108 0h5m81 0h5M171 259h5m11 0h5m27 0h6m183 0h6m237 0h6M133 257h5m81 0h6m108 0h5M127 255h6m16 0h5m114 0h5m411 0h10M246 252h6m21 0h6m59 0h5m22 0h5m44 0h5m97 0h6M343 250h6M532 243h6m21 0h6M532 241h6m11 0h5m43 0h6M235 239h6m210 0h6M532 237h6m5 0h6M343 234h6m200 0h5m11 0h5M532 232h6m156 0h6M613 230h6m119 0h5M343 225h6m237 0h6M154 223h6m502 0h5M203 221h5m184 0h5m184 0h5m6 0h5M549 219h5M257 217h5m135 0h6m81 0h5M408 214h6M187 212h5m135 0h6m5 0h5m260 0h5m70 0h6m140 0h5M511 210h5M451 208h6m259 0h5M408 205h6m37 0h6m135 0h5m49 0h11m70 0h5M559 203h6M149 201h5m157 0h5m6 0h5m33 0h5m151 0h6m140 0h5M295 199h5m49 0h5m16 0h6m65 0h5m59 0h6m92 0h5M316 197h6m108 0h5m60 0h5m65 0h5m135 0h6M424 194h6m113 0h6M133 192h5M511 190h5m103 0h5M149 188h5m92 0h6m162 0h5m167 0h6m5 0h6m5 0h5M538 185h5M133 183h5m33 0h5M322 181h5m216 0h6M484 179h5m81 0h6m43 0h5M235 176h6m173 0h5m27 0h5M192 174h6m232 0h5m389 0h5M235 172h6m416 0h5m270 0h5M171 170h5m65 0h5m173 0h5m260 0h5m81 0h5M284 167h11M192 165h6m205 0h5m297 0h6M208 163h6m119 0h5m38 0h5M235 161h6m140 0h6M225 159h5m86 0h6m38 0h5m405 0h5M322 156h5m124 0h6M532 154h6M181 150h6m86 0h6m32 0h5m324 0h6M165 147h6m86 0h5M160 145h5m16 0h6M430 143h5m103 0h5M165 141h6m91 0h6m97 0h5m22 0h5m49 0h5m141 0h11m70 0h5m16 0h6M694 139h6M608 136h5M208 134h6m11 0h10m103 0h5m103 0h5M403 132h5M489 130h6m37 0h6m70 0h5M370 127h6m48 0h6m329 0h6M381 125h6m81 0h5M133 123h5m205 0h6m21 0h6m173 0h5m86 0h6m232 0h5M235 121h6m43 0h5m125 0h5M138 118h6m75 0h6m108 0h5m16 0h6m140 0h5m119 0h6m54 0h5m5 0h6M203 116h5m98 0h5m22 0h5m200 0h11m108 0h5M149 114h5m108 0h6m113 0h6M392 112h5M160 109h5m33 0h5m211 0h10m260 0h5M300 107h6m297 0h5M624 105h6m221 0h5M414 103h5m103 0h5m65 0h5M489 101h6m27 0h5m11 0h5m81 0h6m21 0h6M511 98h5m362 0h5M289 96h6m65 0h5M257 94h5m44 0h5m119 0h5m211 0h5m22 0h5M333 92h5M370 89h6M662 87h5"/>
<path stroke="#414487" stroke-width="1" d="M851 775.5h5M154 766.5h6m5 0h6m5 0h5m92 0h6m48 0h6m21 0h6m5 0h5m11 0h6m59 0h5m141 0h5m16 0h6m140 0h6M149 757.5h5m44 0h5m383 0h6M187 748.5h5M122 737.5h5m179 0h5m5 0h6m129 0h6M165 728.5h6m459 0h5M349 717.5h5m114 0h5m135 0h5m54 0h6M387 699.5h5m243 0h5M138 690.5h6m97 0h5m60 0h5m119 0h5M149 670.5h5m65 0h6m48 0h6M235 659.5h6m345 0h6M376 650.5h5m238 0h5M214 641.5h5m60 0h5m200 0h5M252 632.5h5m86 0h6m11 0h5m281 0h5M316 621.5h6m70 0h5m103 0h5m65 0h6M284 612.5h5m27 0h6m156 0h6m189 0h5M619 601.5h5m16 0h6m81 0h5M295 592.5h5m22 0h5m184 0h5M381 583.5h6m118 0h6M635 574.5h5M414 563.5h5m200 0h5m22 0h5M716 554.5h5M360 543.5h5m319 0h5m27 0h5M311 534.5h5M338 525.5h5m589 0h5M419 516.5h5M171 505.5h5M360 496.5h5m351 0h5M343 485.5h6m189 0h5m27 0h6m86 0h5M397 476.5h11M154 467.5h6m140 0h6m75 0h6m48 0h6m118 0h6m140 0h6M133 458.5h5m259 0h6M316 447.5h6M316 438.5h6m313 0h5m11 0h6M165 427.5h6m102 0h6m599 0h5M489 409.5h6M316 400.5h6m221 0h6M214 389.5h5m400 0h5M262 380.5h6m70 0h5m281 0h6M397 369.5h6m286 0h5M192 360.5h6m210 0h6m237 0h6M165 342.5h6m54 0h5m130 0h5m173 0h5m6 0h5m16 0h6m113 0h5M171 331.5h5m232 0h6m27 0h5m140 0h6m27 0h5m38 0h5M576 322.5h5M144 311.5h5m11 0h5m205 0h6m362 0h5M235 302.5h6m362 0h5M235 293.5h6m27 0h5M235 284.5h6m329 0h6m302 0h5M640 273.5h6M144 264.5h5m216 0h5m297 0h6M376 253.5h5m22 0h5M122 244.5h5m330 0h5m211 0h5M225 235.5h5m259 0h6m48 0h6M127 226.5h6m5 0h6M127 215.5h6m291 0h6m227 0h5M473 206.5h5m189 0h6m205 0h5M338 195.5h5m270 0h6M122 186.5h5m60 0h5m168 0h5m59 0h6M419 177.5h5m260 0h5M748 168.5h6M138 157.5h6m486 0h5M478 148.5h6M241 137.5h5M176 128.5h5m81 0h6m162 0h5m119 0h5M257 119.5h5m346 0h5M171 110.5h5m378 0h5m130 0h5M273 99.5h6m286 0h5M322 90.5h5m49 0h5m54 0h6M586 85.5h6m27 0h5"/>
<path stroke="#414487" stroke-width="2" d="M408 797h6M462 785h6M262 779h6M160 777h5m92 0h5m49 0h5m49 0h16m38 0h11m21 0h6m194 0h6m5 0h11m16 0h5m33 0h5m200 0h5M824 774h5M208 772h6m556 0h5M187 768h5M295 765h5m43 0h6M187 763h11m32 0h5m103 0h5m384 0h5m6 0h5m81 0h5M192 761h6m124 0h5m22 0h5M473 759h5m227 0h6M408 756h6m383 0h5M133 754h5m767 0h5M133 752h11m788 0h5M289 750h6m556 0h5M133 747h5m324 0h6M295 745h11m442 0h6M203 743h5m135 0h6m108 0h5m92 0h5m319 0h5M306 741h5M181 739h6m178 0h5m184 0h5M165 736h6m210 0h6m307 0h6M198 734h5m113 0h6m173 0h5M451 732h6M241 730h5M154 727h6m119 0h5m86 0h6m129 0h6M127 725h6m183 0h11m33 0h5m32 0h6m54 0h5m146 0h5m22 0h5m33 0h5M289 723h6m464 0h6M360 721h5m92 0h5m335 0h5m49 0h5M403 719h5m65 0h5m168 0h5M214 716h5m130 0h5m243 0h6M408 714h6m226 0h6m11 0h5M160 712h5m103 0h5m184 0h5m54 0h6M165 710h6m54 0h5m22 0h5m151 0h6M262 707h6m367 0h5M187 705h5m33 0h5m76 0h5m43 0h6M144 703h5m486 0h5m108 0h6M646 701h5M397 698h6m27 0h5m119 0h5m11 0h6M311 696h5m119 0h11m124 0h6m275 0h5M165 694h6M365 692h5m324 0h6M235 689h6m345 0h6M273 687h6m102 0h6m151 0h5M597 685h6M252 683h5m22 0h5M403 681h5m340 0h6M295 678h5m448 0h6M327 676h6m194 0h5M203 674h5m108 0h6m156 0h6m86 0h6m59 0h5M311 672h5m108 0h6m11 0h5m292 0h5M376 669h5m124 0h6m135 0h5m54 0h6M381 667h6M127 665h6m561 0h6M468 663h5m32 0h6m421 0h5M565 661h5m33 0h5m54 0h5M365 658h5m65 0h6m264 0h6M208 656h6m32 0h6M198 654h5m535 0h5M586 652h6M252 649h5M187 647h5m222 0h5M646 645h5M181 643h6m102 0h6m227 0h5M770 640h5M478 638h6M511 636h5m65 0h5m98 0h5m135 0h5M198 634h5m232 0h6m27 0h5M198 631h5m11 0h5m54 0h6m10 0h6m318 0h11M284 629h5m6 0h5m54 0h6m124 0h5M511 627h5M370 625h6m70 0h5m227 0h6M414 623h5m5 0h6m59 0h6m10 0h6M127 620h6m119 0h5m335 0h5M624 618h6M165 616h6m54 0h5m16 0h6m237 0h6M160 614h5m335 0h5M430 611h5m6 0h5m97 0h6m37 0h6M246 609h6m253 0h6M203 607h5m222 0h5M306 603h5m189 0h5m17 0h5m5 0h6M295 598h5m97 0h6m27 0h5M289 596h6M154 594h6m264 0h6m11 0h5m38 0h5m114 0h5M392 591h5m179 0h5M241 589h5M181 587h6m11 0h5m92 0h5m49 0h5m22 0h5m173 0h5M241 585h5m373 0h5m146 0h5M338 582h5m179 0h5m130 0h5m97 0h6M662 580h5M360 578h5m76 0h5m27 0h11M154 576h6m27 0h5m108 0h6m86 0h5M203 573h5m411 0h5M316 571h6m92 0h5M144 569h5M516 567h6m135 0h5M181 565h6m561 0h6M144 560h5m108 0h5m562 0h5M316 558h6m70 0h5m87 0h5m49 0h5m92 0h5M381 556h6m151 0h5M387 553h5M273 551h6m59 0h11m270 0h5M759 549h6M748 547h6M565 545h5m87 0h5M198 542h5m200 0h5M203 538h5m411 0h5m49 0h5M127 536h6m151 0h5m335 0h6m5 0h5M203 533h5m33 0h5m232 0h6m97 0h5m33 0h5M160 531h5m146 0h5m281 0h6m194 0h5M219 529h6m97 0h5m43 0h6m221 0h6m16 0h5m27 0h6M349 527h5M505 522h6m54 0h5m108 0h6M322 520h5m92 0h5m11 0h6m162 0h5m49 0h5M181 515h6m75 0h6m5 0h6m178 0h5m81 0h6M127 513h6m43 0h5m324 0h6m81 0h5m70 0h6M673 511h5M387 509h5m76 0h5m146 0h5M176 507h5m22 0h5m540 0h6M181 504h6m178 0h5m335 0h6M376 502h5M424 500h6m156 0h6M235 498h6m146 0h5m81 0h5m130 0h5M176 495h5m162 0h6M230 493h5m108 0h6m5 0h6m286 0h11m70 0h5M122 491h5m54 0h6m275 0h6m37 0h6m5 0h6m43 0h5M300 489h6m216 0h5m16 0h6m129 0h6M268 487h5m130 0h11m216 0h5M187 484h5m16 0h6m32 0h6m81 0h5m97 0h6m226 0h6M133 482h5m141 0h5m189 0h5m27 0h6M678 480h6m221 0h5M414 478h10m103 0h5m130 0h5m17 0h5M306 475h5m97 0h6m70 0h5M408 473h6m75 0h6m91 0h6m38 0h5m297 0h5M127 469h6m97 0h5m195 0h5m6 0h5m238 0h5M559 466h6M144 464h5m464 0h6M171 462h5m486 0h5M333 460h5m5 0h6m318 0h6M300 457h6m59 0h5m65 0h6m43 0h5m27 0h6m16 0h5m38 0h5m92 0h6M198 455h5m275 0h6M225 453h5m130 0h5m49 0h5m65 0h5m81 0h6m102 0h11M430 451h5m38 0h5m184 0h5m27 0h6M667 449h6M127 446h6m405 0h5m92 0h5M176 444h5m335 0h6m32 0h5m60 0h5M165 442h6m270 0h5M127 440h6m92 0h5M311 437h5m227 0h11m92 0h5M667 435h6m32 0h6M360 433h5m76 0h5m243 0h5m54 0h6m43 0h5M343 431h6m65 0h5m459 0h5M338 429h5m319 0h5m92 0h6M122 426h5m44 0h5m551 0h5M160 424h5m421 0h6m205 0h5M198 422h5M252 420h5m292 0h5m270 0h5M365 415h5m60 0h5m389 0h5M392 413h5m6 0h5m103 0h5M570 411h6M133 408h5m70 0h6m286 0h5M592 406h5M133 404h5m124 0h6m297 0h5m119 0h5M343 402h6m97 0h5m287 0h5m108 0h5M133 399h5m6 0h5m729 0h5M570 397h6m64 0h6M667 395h6M705 393h6M581 391h5M138 388h6m178 0h5m33 0h5M824 386h5m103 0h5M300 384h6m37 0h6m189 0h5M252 382h5m324 0h5m152 0h5M284 379h5m60 0h5m497 0h5M230 375h5m254 0h6M268 373h5m11 0h5m330 0h5m11 0h5m6 0h5M376 371h5m65 0h5m200 0h6M208 368h6m237 0h6m140 0h6m167 0h5M122 364h5m135 0h6M295 362h5m130 0h5m178 0h6M171 359h5m508 0h5M311 357h5m44 0h5M451 355h6m21 0h6m81 0h5M181 353h6m108 0h5m33 0h5m59 0h6M208 350h6m97 0h5M181 348h6m432 0h5m65 0h5M489 346h6m113 0h5M441 344h5M759 341h6M144 339h5m518 0h6m21 0h6M532 337h11m114 0h5M181 335h6m248 0h6m172 0h6M160 333h5m432 0h6M144 330h5m167 0h6m48 0h6m173 0h5m49 0h5M408 328h6m10 0h6m108 0h5m114 0h5M489 326h6m199 0h6M138 324h6m432 0h5M257 321h5m314 0h5M192 319h6m324 0h5M219 317h6M446 315h5m119 0h6m10 0h11m22 0h5M349 313h5m22 0h5m114 0h5m270 0h5M603 310h5m59 0h6m86 0h6M127 308h6m453 0h6m5 0h6M208 306h6m124 0h5m6 0h5M262 304h6m140 0h6m129 0h6M262 301h6m583 0h5M694 299h6M127 297h6m524 0h5m97 0h6M311 295h5m162 0h6M203 292h5m130 0h5m135 0h6m92 0h5m27 0h11M127 288h6m318 0h6m205 0h5M554 286h5m27 0h6m5 0h6M662 283h5M187 281h5m6 0h5m65 0h5m394 0h6M279 279h5m227 0h5M608 277h5M403 275h5m135 0h6M667 272h11m60 0h5m162 0h5M392 270h5M187 268h5m454 0h5M608 266h5M181 263h6m351 0h11M473 261h5m60 0h5M327 257h6m37 0h6m302 0h11M138 255h6m54 0h5m49 0h5m281 0h5m108 0h6M349 252h5m222 0h5m86 0h6M181 250h6M133 248h5m195 0h5m146 0h5m259 0h6M203 246h5m76 0h5m135 0h6m146 0h5m86 0h6M138 243h6m199 0h6m200 0h5m11 0h5m65 0h5M187 239h5m546 0h5M219 237h6m513 0h5M192 232h6m469 0h6M360 228h5M295 225h5m232 0h6m54 0h5m27 0h6m10 0h6M667 223h6M198 221h5M219 219h6m97 0h5m195 0h5M354 217h6m113 0h5M478 214h6m421 0h5M608 212h5m6 0h5m281 0h5M176 210h5m157 0h5m92 0h6m145 0h6m70 0h5M489 208h6m167 0h5M160 205h5m11 0h5m303 0h5m60 0h5m65 0h5M133 203h5m6 0h5m32 0h6m178 0h5m103 0h5m6 0h5m92 0h5m87 0h5M192 201h6m70 0h5M770 199h5M435 197h6m183 0h6M230 194h5m141 0h5M187 192h5m330 0h5m200 0h5M414 190h5m49 0h5m167 0h6M619 185h5M295 181h5m38 0h5m114 0h5m33 0h5m54 0h5M144 179h5m113 0h6M462 176h6m43 0h5M333 174h5m281 0h5M430 172h5m189 0h6m5 0h5M570 170h6m5 0h5M230 167h5m38 0h6m259 0h5m114 0h5M435 165h6m64 0h6m124 0h5m38 0h6M262 163h6m448 0h5M122 161h5m6 0h5m92 0h5m454 0h5M522 159h5m27 0h5m17 0h5m22 0h5M187 156h5m43 0h6M171 154h5m70 0h6m248 0h5m162 0h6M451 152h6M597 147h6M144 145h5m173 0h5m227 0h5m11 0h6m151 0h5M365 143h5m87 0h5M408 141h6m113 0h5m92 0h6m194 0h5m103 0h5M198 139h5M295 136h5m205 0h6m75 0h6M451 134h6m140 0h6m113 0h5M230 132h5m44 0h5m108 0h5m98 0h5M360 130h5m11 0h5m232 0h6M208 127h6m32 0h6m113 0h5M603 125h5M257 123h5m162 0h6m194 0h6M322 121h5m38 0h5m162 0h6M133 118h5m319 0h5m130 0h5m162 0h6M457 116h5m335 0h5M435 114h6m97 0h5M349 112h5m33 0h5m184 0h5M203 109h5m173 0h6M176 107h5m389 0h6M127 105h6m54 0h5m87 0h5m65 0h5m49 0h5M316 103h6m59 0h6m221 0h5M133 101h5m43 0h6m345 0h6m92 0h5M424 98h6M376 96h5M122 94h5m6 0h5m173 0h5m27 0h6m38 0h5m270 0h5M316 92h6m113 0h6m37 0h6M149 89h5M252 87h10m227 0h6m32 0h5"/>
<path stroke="#3d4d8a" stroke-width="1" d="M268 786.5h5M198 766.5h5m130 0h5m65 0h5m43 0h6m340 0h5m22 0h5M300 757.5h6m10 0h6m86 0h6m151 0h5M122 748.5h5m103 0h5m152 0h5m270 0h5M208 737.5h6M122 728.5h5m189 0h6m356 0h6M279 717.5h5m275 0h6M343 708.5h6M549 699.5h5M667 690.5h6M203 679.5h5m189 0h6M608 670.5h5m49 0h5M300 659.5h6m91 0h6m102 0h6m21 0h6M160 650.5h5m76 0h5M122 641.5h5m168 0h5m54 0h6m118 0h6M203 632.5h5M235 621.5h6m16 0h5m17 0h5m22 0h5M306 612.5h5m38 0h5m87 0h5M154 601.5h6m16 0h5m368 0h10m76 0h5M289 592.5h6m124 0h5m292 0h5M208 583.5h6m129 0h6m151 0h5m60 0h5m189 0h6M597 574.5h6m16 0h5M187 563.5h5m135 0h6m32 0h5m49 0h5m206 0h5M165 554.5h6m383 0h5m60 0h5M484 543.5h5M225 534.5h5m173 0h5m43 0h6m5 0h6M154 525.5h6m291 0h6m183 0h6m102 0h6M392 516.5h5M241 505.5h5m492 0h5M424 496.5h6m113 0h6m275 0h5M241 485.5h5M214 476.5h5m438 0h5m32 0h6M214 467.5h5m324 0h6m37 0h6M657 458.5h5M171 447.5h5m146 0h5m92 0h5m211 0h5m17 0h5M478 438.5h17M230 427.5h5m373 0h5m92 0h6M306 418.5h5m5 0h6m102 0h6m156 0h6m75 0h6m232 0h5M403 400.5h5m76 0h5m195 0h5M327 389.5h6m372 0h6M187 380.5h5m416 0h5m65 0h6M457 369.5h5m27 0h6m64 0h6m59 0h6M451 360.5h6M403 351.5h5M387 342.5h5m292 0h5M138 331.5h6m21 0h6m383 0h5M187 322.5h5m38 0h5m49 0h5m65 0h6m324 0h5M333 311.5h5m227 0h5M451 302.5h6M311 293.5h5m87 0h11m59 0h5m44 0h5M176 284.5h5m125 0h5m22 0h5m216 0h5M208 273.5h6M192 264.5h6m54 0h5m92 0h5m87 0h5m108 0h5m11 0h6M208 253.5h6m410 0h6M770 244.5h5m49 0h5M160 226.5h5m49 0h5m189 0h6m210 0h6M144 215.5h5m54 0h5m162 0h6m119 0h5m49 0h5m49 0h5m81 0h5M349 206.5h5m103 0h5m97 0h6M144 195.5h5m124 0h6M181 177.5h6m281 0h5M343 168.5h6M219 157.5h6m37 0h6M424 148.5h6m108 0h5m173 0h5M311 137.5h5M457 128.5h5M516 119.5h6M414 110.5h5M176 99.5h5m87 0h5m216 0h6M759 90.5h6m32 0h5m76 0h5M262 85.5h6m189 0h5"/>
<path stroke="#3d4d8a" stroke-width="2" d="M300 790h6m102 0h6m410 0h5M414 788h5M462 783h6M462 781h6M300 779h6m156 0h6M187 777h5m81 0h6m237 0h6m43 0h5m43 0h11m6 0h5m38 0h5M235 774h6M214 772h5m49 0h5m524 0h5m49 0h5M160 770h5M203 768h5m130 0h5M235 765h6m32 0h6m199 0h6m21 0h6m108 0h11m5 0h5m11 0h6m5 0h5m157 0h5m76 0h5M171 763h5m205 0h6m264 0h6m16 0h11m167 0h5M203 761h5m11 0h6m156 0h11m11 0h5m65 0h5m162 0h6m38 0h5m162 0h5M295 759h5m141 0h5M311 756h5m65 0h6m162 0h5m11 0h5m157 0h5M478 754h6m108 0h5m254 0h5M225 752h5m103 0h5m97 0h6m10 0h6m32 0h6M338 750h5m71 0h5m486 0h5M203 747h5m157 0h5m249 0h5m33 0h5m22 0h5M127 745h6m529 0h5M214 743h5m346 0h5m281 0h5M451 741h6M322 736h5m195 0h5M295 734h11m145 0h6m237 0h6m151 0h5m76 0h5M322 732h5m16 0h6m5 0h6m291 0h6M268 730h5m308 0h5M127 727h6m167 0h6m37 0h6m135 0h5m173 0h5M122 725h5m287 0h5m308 0h5M484 721h5m81 0h6m37 0h6m21 0h6M360 719h5m59 0h6m75 0h6m86 0h6m37 0h6M160 716h5m502 0h6M219 714h6m237 0h6m194 0h5m71 0h5M203 712h5m206 0h5m178 0h6m27 0h5m43 0h6m43 0h5m6 0h5M424 710h6m16 0h5m49 0h5m98 0h5M570 707h6m48 0h6m86 0h5M306 703h5m32 0h6m27 0h5M549 701h5m103 0h5m76 0h5M181 698h6m32 0h6M273 696h6m10 0h6m200 0h5m173 0h5M295 694h5m249 0h5M165 692h6m140 0h5m195 0h5M322 689h5m124 0h6m86 0h6m5 0h5m103 0h5M284 687h5m81 0h6M160 685h5m497 0h5M360 683h5m103 0h5m254 0h5M435 681h6m226 0h6m16 0h5M165 678h6m464 0h5M214 676h5m54 0h6m302 0h5m162 0h6m97 0h5M187 674h5m205 0h6m173 0h5m157 0h5m5 0h6m16 0h5M468 672h5M160 669h5m222 0h5M230 667h5M208 665h6m286 0h5m17 0h5m76 0h5M149 663h5m33 0h5m97 0h6m194 0h6m124 0h5M154 661h6m27 0h5M144 658h5m81 0h5m135 0h6m270 0h5M538 656h5M365 654h5m22 0h5M430 652h5M165 649h6m410 0h5M430 647h5M219 645h6m216 0h5M419 643h5m22 0h5m222 0h5M457 640h11m199 0h6m5 0h6M208 638h6M198 636h5m76 0h5m189 0h5m119 0h6m194 0h5M327 634h6m372 0h6M246 631h6m172 0h6m448 0h5M651 629h6M468 627h5m135 0h5M203 625h5m103 0h5m400 0h5M635 623h5M144 620h5m32 0h6m497 0h5M295 618h5M198 616h5m389 0h5m11 0h5M289 614h6m264 0h6M198 611h5m76 0h5m178 0h6M408 609h6m75 0h6m183 0h6M262 607h6m32 0h6m91 0h6M127 605h6m70 0h5m297 0h6m129 0h6M171 600h5m297 0h5m179 0h5M311 598h5m54 0h6m151 0h5m33 0h5m281 0h5M214 596h5m135 0h6M144 594h5m22 0h5m346 0h5M279 591h5m184 0h5m146 0h11M203 589h5m54 0h6m156 0h6m129 0h6m16 0h5m108 0h6M252 587h5m22 0h5M441 582h5m54 0h5m114 0h11m37 0h6m232 0h5M262 580h6m183 0h6M219 578h6m70 0h5m11 0h5M613 576h6m140 0h6M284 573h5m108 0h6M532 571h6M505 569h6M279 567h5M246 565h6M338 562h5m33 0h5m238 0h5M160 560h5m114 0h5m167 0h6M311 558h5m27 0h6M230 556h5m81 0h6m173 0h5m119 0h5m27 0h6M262 553h6m162 0h5m141 0h5M176 551h5m141 0h5m119 0h5m319 0h5M154 549h6m356 0h6M457 547h5m243 0h6M160 545h5m330 0h5m119 0h5M154 542h6m119 0h5m346 0h5M570 538h6m32 0h5M160 536h5M127 533h6m318 0h6m54 0h5M252 531h5m124 0h6m129 0h11m167 0h6M165 529h6m86 0h5M446 527h5m114 0h5m49 0h5m49 0h5m6 0h5M365 524h5m216 0h6M327 522h6m16 0h5m308 0h11M327 520h6m21 0h6m86 0h5m141 0h5M403 518h5m124 0h6M160 515h5m6 0h5m92 0h5m292 0h5m43 0h6M198 513h5m556 0h6M176 511h5m98 0h5M171 509h5M208 507h6m167 0h6m27 0h5m459 0h5M171 504h5m151 0h6m64 0h6m38 0h5M392 502h5m308 0h6M154 500h6m38 0h5m135 0h5M219 498h6M225 495h5m16 0h6m54 0h5M176 493h5m54 0h6M133 491h5m16 0h6m140 0h6m16 0h5m108 0h6m140 0h5m76 0h5m49 0h5M554 489h5m11 0h6M252 487h10m54 0h6M154 484h6m167 0h6m340 0h5M268 482h5m11 0h5m562 0h5M316 480h6m38 0h5m135 0h5m49 0h5m146 0h6M144 478h5m32 0h6m119 0h5M165 475h6M154 473h6m54 0h5m378 0h6m75 0h6M149 471h5m400 0h5M370 469h6m43 0h5M300 466h6m259 0h5M505 464h6m5 0h6m10 0h6M311 462h5m260 0h5M127 460h6m5 0h6m151 0h5m135 0h6m118 0h6m43 0h5M203 457h5m76 0h5m481 0h5M300 453h6m183 0h6m37 0h6m16 0h5M300 451h6M376 449h5M343 444h6m275 0h6M133 442h5m130 0h5m49 0h5M133 440h5m243 0h6m270 0h5M408 437h6M208 435h6m59 0h6m151 0h5m195 0h5M235 433h6m129 0h6m54 0h5M230 431h5m173 0h6m48 0h6M192 429h6m86 0h5M214 426h5m87 0h5m103 0h5m54 0h5m87 0h5M414 424h5m130 0h5M122 422h5m173 0h6m124 0h5M797 420h5M306 417h5m92 0h5M208 415h6m38 0h5M354 413h6m48 0h6m259 0h5M257 411h5M246 408h6m437 0h5M505 406h6M408 404h6m59 0h5m33 0h5M289 402h6m16 0h5m324 0h6M208 399h6m210 0h6M246 397h6m48 0h6m43 0h5m243 0h6M322 395h5m11 0h5m206 0h5m27 0h5M235 393h6m345 0h6M419 391h5m189 0h6m151 0h5M505 388h6m183 0h6M149 386h5m459 0h6m11 0h5M630 384h5M532 382h6M441 379h5m200 0h5M165 377h6m135 0h5m227 0h5m22 0h5m76 0h5M349 375h5m157 0h5m308 0h5M392 373h5m65 0h6M176 371h5m44 0h5m54 0h5m308 0h6M705 368h6M457 366h5M225 364h5M419 362h5m335 0h6M430 359h5m108 0h6m27 0h5m92 0h5m70 0h6m70 0h5M462 357h6m37 0h6m38 0h5M214 353h5M225 350h5m32 0h6m97 0h5m222 0h5M214 348h5m76 0h5m346 0h5M495 344h5m54 0h11m92 0h5M549 341h5M322 339h5M219 337h6m118 0h6m81 0h5m389 0h5M214 335h5m162 0h6m64 0h6m54 0h5M149 333h5m135 0h6m221 0h6M122 330h5m465 0h5M489 328h6m5 0h5M198 326h5m130 0h5m184 0h10m195 0h5M932 324h5M300 321h6m210 0h6m205 0h5M208 319h6m291 0h6m70 0h5m60 0h5M235 317h6m227 0h5m146 0h5m6 0h5m54 0h5m33 0h5M581 313h5M592 310h5m22 0h5M613 308h6m178 0h5M549 306h5m97 0h6M268 304h5M203 299h5M376 297h5m135 0h6M381 295h6M300 292h6m124 0h5m324 0h6M214 290h5m265 0h5M176 288h5m211 0h5m222 0h5M360 283h5m108 0h5m54 0h6m27 0h5M208 281h6m194 0h6m178 0h5m38 0h5M176 279h5m254 0h6m145 0h6m43 0h5m49 0h5m11 0h6M651 277h6M257 275h5m238 0h5m49 0h5M273 272h6m210 0h6m27 0h5m108 0h5M527 270h5m125 0h5M327 268h6m10 0h6M246 266h6m102 0h6M306 263h5m178 0h6m32 0h5m373 0h5M716 261h5M441 259h5m459 0h5M905 257h5M273 255h6m81 0h5m70 0h6M311 252h5m162 0h6M154 250h6m156 0h6m11 0h5M176 248h5m200 0h6m145 0h6m124 0h5m17 0h5M262 246h6M608 243h5m44 0h5M181 241h6m140 0h6m10 0h6m16 0h5M144 239h5m130 0h5m254 0h5m119 0h5M181 237h6m43 0h5m22 0h5m49 0h5m330 0h5M252 234h5m329 0h6m70 0h5M327 232h11m486 0h5m76 0h5M235 230h6m43 0h5m270 0h6M225 228h5m167 0h6m86 0h6m118 0h6M435 225h6m10 0h6m151 0h5m76 0h5M230 223h5m157 0h5M484 221h5M171 219h5m27 0h5m200 0h6m275 0h5M252 212h5m178 0h6m172 0h6M306 210h5m243 0h5M187 208h5m108 0h6m108 0h5m43 0h6m145 0h6M262 205h6m124 0h5M327 203h6M430 201h5m470 0h5M473 199h5m49 0h5m141 0h5m254 0h5M122 197h5m98 0h5m119 0h5M316 194h6M279 192h5m59 0h6m318 0h6M133 190h5m81 0h6m172 0h6m119 0h5m130 0h5M478 188h6m151 0h5M235 185h6M192 183h6m124 0h5m276 0h5M592 181h5M187 179h5m108 0h6m86 0h5m265 0h5m27 0h6M397 176h6m205 0h5M122 174h11m5 0h6m394 0h5m16 0h6M246 172h6m243 0h5M138 170h6m205 0h5m70 0h6M322 167h5m54 0h6m264 0h6M225 165h5m70 0h6m86 0h5m200 0h6m48 0h6M203 163h5m292 0h5m17 0h5M316 161h6m65 0h5M392 159h5m44 0h5m259 0h6m48 0h6M316 156h6m108 0h5m97 0h6M640 154h6M484 152h5m11 0h5m254 0h6M311 147h5m114 0h5M149 145h5m17 0h5m281 0h5m124 0h6M198 143h5m49 0h5m319 0h5M230 141h5m38 0h6m334 0h6m11 0h5m16 0h6M133 139h5m114 0h5m146 0h5m16 0h6M214 134h5m49 0h5m114 0h10m125 0h5m27 0h5m98 0h5M214 132h5m135 0h6m75 0h6M349 130h5m216 0h6m70 0h5M225 125h5m227 0h5M484 123h5M192 121h6m75 0h6m469 0h6M235 118h6m119 0h5m130 0h5m146 0h5m27 0h6M225 116h5m81 0h5m114 0h5m38 0h5m11 0h6M181 112h6m254 0h5m97 0h6M392 109h5m108 0h6M289 107h6m464 0h6M484 105h5M306 103h5M246 101h6m145 0h6m194 0h11m59 0h6m21 0h6m70 0h5M203 98h5m243 0h6m227 0h5M327 96h6m129 0h6m81 0h5M446 94h5m152 0h5M651 92h6M333 89h5"/>
<path stroke="#39568c" stroke-width="1" d="M262 786.5h6M208 775.5h6m664 0h5M316 766.5h6m97 0h11m254 0h5M797 737.5h5M619 543.5h5M619 525.5h5"/>
<path stroke="#39568c" stroke-width="2" d="M462 792h6M214 783h5m578 0h5M878 779h5M144 777h5m5 0h6m48 0h6m281 0h5m38 0h5M160 774h5m49 0h5m529 0h6M160 772h5M165 770h6m21 0h6m86 0h5m276 0h5m362 0h5M354 768h6m183 0h6m167 0h5M306 765h5m5 0h6m5 0h6m48 0h11m97 0h6m43 0h11M181 763h6m70 0h5m44 0h16m27 0h11m221 0h5m184 0h5M354 761h6m32 0h5m114 0h5m27 0h6m54 0h5M851 759h5M133 756h5m713 0h5M122 750h5M127 747h6M932 745h5M932 743h5M619 587h5M619 580h5M619 578h5M619 565h5M619 558h5M619 536h5M289 495h6M414 199h5"/>
<path stroke="#355f8d" stroke-width="1" d="M408 795.5h6M797 786.5h5M797 775.5h5M181 766.5h6m97 0h5m49 0h5m54 0h6m27 0h5m43 0h6m11 0h5m22 0h16m5 0h6m21 0h22m146 0h5M138 757.5h6m437 0h5m319 0h5M430 650.5h5M549 621.5h5M678 592.5h6M414 505.5h5M932 427.5h5M343 380.5h6M349 360.5h5"/>
<path stroke="#355f8d" stroke-width="2" d="M408 803h6M462 794h6M262 785h11m551 0h5M262 781h6M797 779h5m49 0h5M203 777h5m11 0h6m43 0h5m76 0h5m38 0h5m6 0h5m33 0h5m27 0h5m65 0h6m5 0h5m238 0h5M208 774h6m448 0h5m60 0h5M570 772h6m151 0h5m173 0h5M214 770h5m11 0h5m670 0h5M160 768h5m81 0h6m5 0h5m22 0h5m22 0h5m233 0h5m16 0h6m221 0h5M198 765h5m200 0h5m11 0h5m6 0h5m33 0h10m6 0h5m27 0h6m5 0h5m162 0h6m59 0h6M225 763h5m59 0h6m151 0h5m60 0h5m33 0h5m113 0h6m259 0h5M397 761h6M138 759h6m5 0h5M748 754h6M127 750h6M932 747h5M694 652h6M624 587h6M543 533h11M192 453h6M316 440h6m318 0h6M246 426h6M727 391h5M289 328h6M414 210h5M122 130h5"/>
<path stroke="#31688e" stroke-width="1" d="M214 786.5h5M235 766.5h11m6 0h5m38 0h5m87 0h5m92 0h5m49 0h5m16 0h6m59 0h6m37 0h6m5 0h6m10 0h6m205 0h5M878 757.5h5M851 737.5h5M273 717.5h6M468 418.5h5M554 342.5h5M441 215.5h5M619 90.5h5"/>
<path stroke="#31688e" stroke-width="2" d="M414 792h5M300 785h6m545 0h5M300 783h6M905 774h5M306 772h5m27 0h5M219 770h6m54 0h5m184 0h5m65 0h5M154 768h6m81 0h5m33 0h5m81 0h5m54 0h6m151 0h5m27 0h6M241 765h11m37 0h6m65 0h5m5 0h11m11 0h5m38 0h6m199 0h11m146 0h5M419 763h5m65 0h6m64 0h6m75 0h6m11 0h5M284 761h5m276 0h5m124 0h6M932 759h5M144 756h5M122 754h5M905 741h5M797 736h5M392 710h5M246 703h6M451 607h6M376 605h5M203 562h5M165 504h6M289 487h6M468 475h5M338 393h5M543 232h6M127 112h6"/>
<path stroke="#2d708e" stroke-width="1" d="M235 795.5h6M208 786.5h6m86 0h6M932 775.5h5M279 766.5h5m22 0h5m38 0h5m22 0h5m60 0h5m103 0h10m114 0h5M122 757.5h5M306 467.5h5M327 427.5h6M651 400.5h6M246 253.5h6M414 206.5h5M149 177.5h5M403 148.5h5"/>
<path stroke="#2d708e" stroke-width="2" d="M235 794h6M414 790h5m189 0h5M462 788h6m383 0h5M208 781h6m54 0h5M208 779h6m21 0h6m367 0h5M608 777h5M549 770h5m103 0h5m86 0h6M289 768h6m178 0h5m54 0h6M187 765h5m173 0h5m308 0h6M219 763h6m297 0h5m92 0h5m65 0h5M176 761h5m276 0h5M127 752h6M635 741h5M300 652h6M387 594h5M624 547h6M316 388h6M316 371h6M144 355h5M165 301h6M370 112h6"/>
<path stroke="#2a788e" stroke-width="1" d="M462 795.5h6M414 786.5h5m189 0h5M160 775.5h5m135 0h6m237 0h6m118 0h6m232 0h5M192 766.5h6m113 0h5m54 0h6m124 0h11"/>
<path stroke="#2a788e" stroke-width="2" d="M462 803h6M414 794h5m189 0h5M608 792h5M797 788h5M160 785h5M268 783h5m335 0h5M160 781h5m70 0h6m59 0h6m108 0h5m189 0h5M316 779h6M932 774h5M516 772h6M154 770h6m162 0h11m21 0h6m140 0h5m65 0h6m16 0h5m65 0h5m103 0h5M181 768h6m129 0h6m65 0h5m297 0h5m65 0h6m5 0h5M225 765h5m108 0h5m114 0h5m276 0h5M246 763h6M295 761h5m319 0h5M295 480h5"/>
<path stroke="#27808e" stroke-width="1" d="M462 786.5h6m356 0h5m22 0h5M149 766.5h5m411 0h5m76 0h5m38 0h5m11 0h6"/>
<path stroke="#27808e" stroke-width="2" d="M214 794h5m81 0h6M268 788h5m497 0h5M235 785h6m367 0h5m265 0h5M208 783h6m200 0h5M662 781h5m184 0h5M554 779h5M246 774h6m286 0h5M219 772h6m162 0h5m11 0h5m38 0h11m48 0h6m129 0h6m32 0h6m248 0h5M181 770h6m146 0h5m5 0h6m92 0h5m173 0h5m49 0h5m60 0h5M176 768h5m38 0h6m118 0h6m11 0h5m27 0h5m38 0h6m10 0h6m32 0h6m10 0h11m22 0h5m33 0h5m16 0h11m22 0h5m32 0h17m54 0h5M192 765h6m243 0h5m243 0h5m11 0h6M144 761h5M127 756h6M138 754h6"/>
<path stroke="#23888e" stroke-width="1" d="M878 786.5h5M570 775.5h6M257 766.5h5M127 757.5h6"/>
<path stroke="#23888e" stroke-width="2" d="M462 801h6M262 794h6M160 790h5m97 0h11m65 0h5M160 788h5m65 0h5m157 0h5m287 0h5m70 0h6M214 785h5M235 783h6M214 779h5m119 0h5m384 0h5M640 777h6M489 774h6m275 0h5M343 772h6m183 0h6m178 0h5m38 0h6M295 770h5m16 0h6m43 0h5m49 0h11m86 0h6m10 0h6m16 0h5m17 0h5m124 0h6M198 768h5m22 0h10m98 0h5m59 0h6m27 0h5m6 0h10m27 0h11m6 0h5m59 0h6m21 0h6M354 765h6"/>
<path stroke="#21918c" stroke-width="1" d="M300 795.5h6m108 0h5m189 0h5M235 786.5h6m426 0h6M235 775.5h6m178 0h5m125 0h5m194 0h6m5 0h6M360 766.5h5"/>
<path stroke="#21918c" stroke-width="2" d="M851 814h5M408 799h6m48 0h6M462 797h6M851 794h5M268 792h5M241 788h5m97 0h6m108 0h5m135 0h6m5 0h5m211 0h5m49 0h5M208 785h6M727 781h5M543 779h6m221 0h5M343 774h11m92 0h5m60 0h5M235 772h6m113 0h6m64 0h6m70 0h5m38 0h6m64 0h6m5 0h6m118 0h6M176 770h5m71 0h5m16 0h6m59 0h5m6 0h5m76 0h5m38 0h5M640 768h11m33 0h5M133 761h5"/>
<path stroke="#1f988b" stroke-width="1" d="M500 786.5h5M273 775.5h11m97 0h6m59 0h5m6 0h5m97 0h6m65 0h5"/>
<path stroke="#1f988b" stroke-width="2" d="M824 817h5m22 0h5M268 794h5M208 790h6M214 788h5m200 0h5m281 0h6M565 785h5M338 783h5m384 0h5M214 781h5M246 777h6m32 0h5M192 774h6m21 0h6m113 0h5m11 0h6m16 0h5m38 0h5m6 0h5M246 772h6m37 0h6m21 0h11m130 0h5m92 0h11m102 0h11m6 0h5M149 770h5m216 0h6m11 0h5m43 0h6m102 0h6m48 0h6m37 0h6m21 0h6m21 0h6M165 768h6m102 0h6m27 0h5m16 0h6m70 0h5m11 0h5m33 0h5m130 0h5m38 0h5m11 0h6m5 0h5M149 765h5M122 759h5"/>
<path stroke="#1fa188" stroke-width="1" d="M878 795.5h5M727 786.5h5m38 0h5m157 0h5M295 775.5h5m205 0h6m70 0h5m33 0h5m60 0h5m81 0h5"/>
<path stroke="#1fa188" stroke-width="2" d="M176 810h5M408 805h6m48 0h6m356 0h5M684 803h5m162 0h5M419 801h5m454 0h5M414 797h5M160 792h5m135 0h6M257 790h5M262 788h6m232 0h5m108 0h6M403 783h5M349 781h5m135 0h6M279 779h5m146 0h5M446 777h5m6 0h5M165 774h6m59 0h5m54 0h6m21 0h6m48 0h6m81 0h5m22 0h5m16 0h6m156 0h6m11 0h16m5 0h6m27 0h5m16 0h6M154 772h6m27 0h5m11 0h5m33 0h5m6 0h5m70 0h11m22 0h5m32 0h6m38 0h5m27 0h5m49 0h5m87 0h5m22 0h5m6 0h5m27 0h11M376 770h11m5 0h11m48 0h6m21 0h6m5 0h11m11 0h5m70 0h6m59 0h6M122 768h5m6 0h5m184 0h5m49 0h5m119 0h5m22 0h5m87 0h5m124 0h6M122 765h5M127 763h6M122 761h5"/>
<path stroke="#22a884" stroke-width="1" d="M878 815.5h5M797 795.5h5M403 786.5h5M349 775.5h11m16 0h5m119 0h5m17 0h5m38 0h5"/>
<path stroke="#22a884" stroke-width="2" d="M446 819h5M878 817h5M214 812h5M797 810h5M824 801h5M414 799h5m405 0h5M851 797h5M554 794h5M235 792h6m416 0h5M343 790h6M322 788h5m76 0h5m65 0h5m125 0h5M932 783h5M500 781h5m135 0h6m102 0h6M219 779h6m16 0h5m254 0h5m54 0h6M257 774h5m119 0h6m10 0h6m97 0h5m60 0h5m22 0h5m6 0h5m5 0h6m16 0h5m11 0h6M230 772h5m60 0h5m178 0h6m5 0h11m86 0h6m11 0h5m130 0h5M198 770h10m81 0h6m11 0h5m49 0h5m38 0h5m38 0h5m6 0h5m22 0h5m33 0h10m27 0h6m16 0h5m98 0h5M127 768h6m11 0h5m545 0h6M144 765h5M138 761h6"/>
<path stroke="#2ab07f" stroke-width="1" d="M797 815.5h5M154 775.5h6m5 0h6m54 0h5m194 0h11m97 0h6m16 0h5m27 0h6m21 0h6m97 0h5M144 766.5h5"/>
<path stroke="#2ab07f" stroke-width="2" d="M154 808h6M554 790h11M376 788h5m97 0h6m11 0h5m43 0h6M246 783h6m124 0h5m168 0h10m200 0h6M349 779h11m27 0h5m27 0h5m22 0h5m308 0h6M333 777h5m5 0h6M279 774h5m11 0h5m22 0h5m76 0h5m65 0h5m65 0h6m5 0h5m17 0h5m38 0h5M273 772h11m65 0h5m38 0h5m152 0h5m11 0h5m22 0h5m65 0h5m38 0h6M144 770h5m38 0h5m421 0h6m5 0h6m86 0h5M149 768h5m17 0h5m119 0h5m70 0h6m92 0h5m49 0h5M122 763h5M127 759h6"/>
<path stroke="#35b779" stroke-width="1" d="M268 795.5h5M559 786.5h6M387 775.5h5m59 0h6m167 0h6m43 0h5M144 757.5h5"/>
<path stroke="#35b779" stroke-width="2" d="M192 819h6M435 803h6M295 799h5M640 797h6m5 0h6m81 0h5M748 790h6m151 0h5M208 788h6m21 0h6m54 0h5m27 0h6m178 0h5m178 0h6M500 785h5M748 783h6M246 781h6m86 0h5m27 0h6m43 0h5m27 0h6m92 0h5m119 0h5m227 0h5M154 779h6m291 0h11m205 0h6M522 777h5m59 0h6m43 0h5m98 0h5M154 774h6m81 0h5m6 0h5m211 0h5m5 0h6m75 0h6m21 0h6m48 0h6m70 0h5M181 772h6m5 0h6m59 0h5m49 0h5m54 0h6m54 0h11m97 0h5m33 0h5m16 0h6m48 0h6M241 770h11m378 0h10m119 0h6M252 768h5m448 0h6M138 765h6M133 763h5m6 0h5"/>
<path stroke="#44bf70" stroke-width="1" d="M770 795.5h5M565 786.5h5M246 775.5h6m37 0h6m11 0h5m27 0h5m22 0h5m22 0h5m6 0h5m81 0h6m21 0h6m75 0h6m75 0h6m5 0h5M133 766.5h5"/>
<path stroke="#44bf70" stroke-width="2" d="M673 817h5M138 812h6M408 801h6m383 0h5M797 797h5M214 792h5M235 790h6m162 0h5M165 788h6m199 0h6m140 0h6M716 785h5m6 0h5M160 783h5m184 0h5m162 0h6m48 0h6m118 0h6M273 781h11m146 0h5m22 0h5m276 0h5m27 0h5m157 0h5M424 779h6m140 0h11m11 0h5m119 0h5m27 0h6m151 0h5M381 777h6m172 0h6m11 0h5M144 774h5m27 0h5m17 0h5m184 0h5m32 0h6m5 0h6M165 772h6m5 0h5m195 0h5m103 0h5M171 770h5m81 0h5m49 0h5m287 0h5m38 0h5M138 768h6m205 0h5m303 0h5M138 763h6"/>
<path stroke="#54c568" stroke-width="1" d="M160 786.5h5m378 0h6m124 0h5M149 775.5h5m44 0h5m49 0h5m27 0h5m27 0h6m21 0h6m21 0h6m108 0h5m6 0h5m11 0h5m11 0h5m6 0h5m108 0h6M122 766.5h5"/>
<path stroke="#54c568" stroke-width="2" d="M797 803h5M208 799h6M500 794h5m254 0h6M279 792h5m119 0h5m108 0h6m383 0h5M565 790h5M127 788h6m11 0h5m157 0h5m27 0h5m87 0h5m124 0h11m49 0h5m114 0h5M241 785h5m103 0h5m65 0h5m130 0h5m179 0h5m16 0h6M565 783h5M165 781h6m172 0h6m167 0h6m172 0h6M252 779h5m146 0h5m81 0h11m86 0h6m27 0h5m49 0h5m11 0h11M468 777h5M284 774h5m17 0h5m16 0h6m264 0h6m27 0h5M144 772h5m49 0h5m162 0h5m152 0h5M138 770h6m545 0h5M565 768h5M127 761h6M144 759h5"/>
<path stroke="#67cc5c" stroke-width="1" d="M489 786.5h6m21 0h6m32 0h5m135 0h6m48 0h6m151 0h5M203 775.5h5m11 0h6m102 0h6m27 0h5m32 0h6m70 0h5"/>
<path stroke="#67cc5c" stroke-width="2" d="M338 794h5m427 0h5M748 792h6M640 790h6m286 0h5M176 788h5m168 0h5m43 0h6m21 0h6m227 0h5m65 0h5M516 785h6m37 0h6M154 783h6m81 0h5m146 0h5m22 0h5m6 0h5m65 0h5m135 0h6m124 0h5M554 781h11m5 0h6m113 0h5M165 779h6m75 0h6m59 0h5m206 0h10m71 0h5m49 0h5m22 0h5m16 0h6m221 0h5M279 777h5m43 0h6m145 0h6m119 0h5M181 774h11m81 0h6m32 0h5m179 0h5m49 0h5m16 0h6M149 772h5m17 0h5m335 0h5m114 0h10M505 770h6M624 768h6M127 754h6"/>
<path stroke="#7ad151" stroke-width="1" d="M597 815.5h6M554 795.5h5M457 786.5h5m178 0h6m16 0h5M241 775.5h5m189 0h6m264 0h6"/>
<path stroke="#7ad151" stroke-width="2" d="M484 817h5M419 814h5M484 803h5M851 801h5M797 799h5M824 797h5M457 790h5m87 0h5m173 0h5M748 788h6m151 0h5M424 785h6M370 783h6m81 0h5m124 0h6m70 0h5m6 0h16M387 781h5m151 0h6m118 0h6M284 779h5m103 0h5m38 0h6m37 0h6m21 0h6m38 0h5M225 777h5m200 0h11m216 0h5M171 774h5m216 0h5m135 0h6m43 0h5m92 0h6M284 772h5m179 0h5m108 0h5"/>
<path stroke="#90d743" stroke-width="1" d="M851 795.5h5M716 786.5h5M311 775.5h5m152 0h5m130 0h5M127 766.5h6"/>
<path stroke="#90d743" stroke-width="2" d="M538 819h5M851 799h5M748 794h6m178 0h5M500 792h5m44 0h5M759 790h6M673 788h5M343 785h6m5 0h6m10 0h6m27 0h5m114 0h5m135 0h5m38 0h6m59 0h5M165 783h6m81 0h5m232 0h6m64 0h6m140 0h6m5 0h5m17 0h5m162 0h5M403 781h5m16 0h6m16 0h5m308 0h6M230 779h5m22 0h5m71 0h5m200 0h5m22 0h5m43 0h6m16 0h5m6 0h5m11 0h5m71 0h5M597 777h6M122 774h5m233 0h10m71 0h5m81 0h5M225 772h5m189 0h5M133 765h5"/>
<path stroke="#a5db36" stroke-width="1" d="M851 806.5h5M165 786.5h6m75 0h6m507 0h6M176 775.5h11m5 0h6m135 0h5m140 0h6m178 0h5m27 0h6"/>
<path stroke="#a5db36" stroke-width="2" d="M824 803h5m49 0h5M878 797h5M543 794h6m178 0h5M640 792h6M738 790h5M549 788h5m108 0h5M154 785h6m178 0h5m324 0h6m259 0h5M343 783h6m38 0h5m103 0h5m38 0h5M354 781h6m205 0h5m114 0h5m16 0h6M381 779h6m129 0h6m10 0h6m86 0h6m21 0h6M360 777h5m119 0h5m16 0h6M225 774h5m394 0h6M122 770h5"/>
<path stroke="#bddf26" stroke-width="1" d="M349 786.5h5m195 0h5M171 775.5h5m11 0h5m130 0h5m114 0h5m146 0h5"/>
<path stroke="#bddf26" stroke-width="2" d="M878 799h5M403 794h5m151 0h6M500 790h5m38 0h6M554 788h5M279 785h5m146 0h5m54 0h6m54 0h5m86 0h6M284 783h5m135 0h6m16 0h11m86 0h6m118 0h6M678 781h6M203 779h5m114 0h5m43 0h11m16 0h6m38 0h5M532 777h6m86 0h6M333 774h5"/>
<path stroke="#d2e21b" stroke-width="1" d="M338 786.5h5m362 0h6m27 0h5M122 775.5h5m17 0h5m108 0h5"/>
<path stroke="#d2e21b" stroke-width="2" d="M252 810h5M516 794h6m27 0h5m351 0h5M338 792h5m200 0h6m178 0h5m200 0h5M241 790h5m421 0h6M716 788h5m211 0h5M165 785h6m221 0h5m297 0h6M522 783h5M392 781h5m189 0h6M511 779h5m162 0h6M203 774h5"/>
<path stroke="#eae51a" stroke-width="1" d="M516 795.5h6M343 786.5h6m5 0h6M646 775.5h5M138 766.5h6"/>
<path stroke="#eae51a" stroke-width="2" d="M640 794h6m92 0h5M554 792h16m97 0h6m65 0h5M489 790h6m275 0h5M489 788h6m172 0h6M246 785h6m64 0h6m65 0h5m281 0h5m227 0h5M273 783h11m22 0h5m5 0h6m367 0h5M241 781h5m6 0h5m49 0h5m5 0h6m54 0h5m157 0h5M144 779h10m17 0h5m16 0h11m103 0h5m16 0h6m27 0h5m103 0h10m6 0h5m92 0h5m11 0h6m27 0h5M511 777h5M122 772h5M133 770h5M127 765h6"/>
<path stroke="#fde725" stroke-width="1" d="M122 815.5h475m6 0h97m5 0h6m5 0h5m6 0h5m6 0h5m5 0h6m5 0h6m5 0h5m49 0h5m22 0h5m49 0h5m22 0h5M122 806.5h578m5 0h6m5 0h5m6 0h5m6 0h5m5 0h6m5 0h6m5 0h5m22 0h5m22 0h5m49 0h5m22 0h5m22 0h5M122 795.5h113m6 0h21m11 0h27m6 0h102m11 0h43m6 0h48m6 0h32m5 0h49m5 0h87m5 0h6m5 0h5m6 0h5m6 0h5m5 0h6m5 0h6m140 0h5m22 0h5M122 786.5h38m11 0h37m11 0h16m6 0h5m6 0h10m11 0h27m6 0h32m22 0h43m16 0h38m11 0h21m6 0h5m5 0h11m6 0h21m27 0h38m5 0h27m6 0h16m16 0h16M127 775.5h17"/>
<path stroke="#fde725" stroke-width="2" d="M122 819h70m6 0h248m5 0h87m5 0h157m5 0h6m5 0h5m6 0h5m6 0h5m5 0h6m5 0h6m5 0h5m22 0h5m22 0h5m22 0h5m22 0h5m22 0h5m22 0h5M122 817h362m5 0h184m5 0h22m5 0h6m5 0h5m6 0h5m6 0h5m5 0h6m5 0h6m5 0h5m22 0h5m103 0h5m22 0h5M122 814h297m5 0h276m5 0h6m5 0h5m6 0h5m6 0h5m5 0h6m5 0h6m5 0h5m22 0h5m22 0h5m49 0h5m22 0h5m22 0h5M122 812h16m6 0h70m5 0h481m5 0h6m5 0h5m6 0h5m6 0h5m5 0h6m5 0h6m5 0h5m22 0h5m22 0h5m22 0h5m22 0h5m22 0h5m22 0h5M122 810h54m5 0h71m5 0h443m5 0h6m5 0h5m6 0h5m6 0h5m5 0h6m5 0h6m5 0h5m49 0h5m22 0h5m22 0h5m22 0h5m22 0h5M122 808h32m6 0h540m5 0h6m5 0h5m6 0h5m6 0h5m5 0h6m5 0h6m5 0h5m22 0h5m22 0h5m22 0h5m22 0h5m22 0h5m22 0h5M122 805h286m6 0h48m6 0h232m5 0h6m5 0h5m6 0h5m6 0h5m5 0h6m5 0h6m5 0h5m22 0h5m49 0h5m22 0h5m22 0h5m22 0h5M122 803h286m6 0h21m6 0h21m6 0h16m5 0h195m5 0h11m5 0h6m5 0h5m6 0h5m6 0h5m5 0h6m5 0h6m5 0h5m130 0h5m22 0h5M122 801h286m6 0h5m5 0h38m6 0h232m5 0h6m5 0h5m6 0h5m6 0h5m5 0h6m5 0h6m5 0h5m130 0h5m22 0h5M122 799h86m6 0h81m5 0h108m11 0h43m6 0h232m5 0h6m5 0h5m6 0h5m6 0h5m5 0h6m5 0h6m5 0h5m130 0h5m22 0h5M122 797h286m11 0h43m6 0h172m6 0h5m6 0h43m5 0h6m5 0h5m6 0h5m16 0h6m5 0h6m5 0h5m130 0h5m22 0h5M122 794h92m5 0h16m6 0h21m11 0h27m6 0h32m5 0h60m16 0h43m6 0h32m5 0h11m6 0h21m22 0h43m5 0h27m6 0h54m5 0h6m5 0h5M122 792h38m5 0h43m11 0h16m6 0h21m11 0h6m5 0h16m6 0h32m5 0h60m16 0h43m6 0h32m5 0h11m6 0h21m27 0h38m5 0h27m6 0h11m5 0h5m6 0h27m5 0h6m5 0h5M122 790h38m5 0h43m11 0h16m11 0h11m16 0h27m6 0h32m11 0h54m16 0h38m11 0h21m6 0h5m5 0h11m6 0h21m27 0h38m5 0h27m6 0h21m6 0h27m5 0h6m5 0h5M122 788h5m6 0h11m5 0h11m11 0h5m5 0h27m11 0h11m16 0h16m11 0h22m16 0h11m11 0h5m16 0h16m11 0h11m43 0h22m11 0h5m11 0h5m16 0h6m11 0h21m27 0h27m27 0h16m6 0h11m21 0h6m5 0h5M122 785h32m17 0h37m11 0h16m17 0h10m22 0h16m6 0h10m6 0h16m22 0h10m6 0h11m10 0h6m32 0h22m11 0h21m6 0h5m5 0h11m11 0h16m27 0h38m5 0h27m6 0h16m16 0h16M122 783h32m17 0h37m11 0h16m22 0h5m27 0h11m11 0h5m6 0h16m22 0h10m11 0h6m10 0h6m32 0h11m22 0h21m16 0h11m11 0h11m38 0h10m6 0h16m5 0h27m6 0h16M122 781h32m17 0h37m11 0h16m22 0h5m22 0h16m11 0h5m6 0h16m22 0h10m11 0h6m10 0h6m32 0h11m22 0h21m6 0h5m5 0h11m11 0h11m38 0h10m6 0h16m5 0h27m6 0h16M122 779h22m32 0h16m33 0h5m59 0h11m65 0h5M122 777h22m32 0h11M127 774h17M127 772h17M127 770h6"/>
</g>
<g shape-rendering="crispEdges"><path d="M98.5 85V823M962.5 85V823M98 85.5H963M98 822.5H963" stroke="#000" stroke-width="1" fill="none"/><path d="M179.5 823v5M287.5 823v5M395.5 823v5M503.5 823v5M611.5 823v5M719.5 823v5M827.5 823v5M935.5 823v5M93 85.5h5M93 206.5h5M93 327.5h5M93 448.5h5M93 568.5h5M93 689.5h5M93 810.5h5M1053 85.5h5M1053 208.5h5M1053 331.5h5M1053 454.5h5M1053 576.5h5M1053 699.5h5M1053 822.5h5" stroke="#000" stroke-width="1" fill="none"/><rect x="1017" y="86" width="35" height="736" fill="url(#vir)"/><path d="M1016.5 85V823M1052.5 85V823M1016 85.5H1053M1016 822.5H1053" stroke="#000" stroke-width="1" fill="none"/></g>
</svg>
<svg id="txt" width="1200" height="900" viewBox="0 0 1200 900">
<text x="159.65" y="44.45" font-size="30.059" textLength="41.7" lengthAdjust="spacingAndGlyphs" id="t1w0" xml:space="preserve">IRF</text>
<text x="212.1" y="44.45" font-size="30.059" textLength="86.8" lengthAdjust="spacingAndGlyphs" id="t1w1" xml:space="preserve">Kiruna</text>
<text x="311.1" y="44.45" font-size="30.059" textLength="142.6" lengthAdjust="spacingAndGlyphs" id="t1w2" xml:space="preserve">Ionosonde</text>
<text x="463.1" y="44.45" font-size="30.059" textLength="77.6" lengthAdjust="spacingAndGlyphs" id="t1w3" xml:space="preserve">KI167</text>
<text x="551.0" y="44.45" font-size="30.059" textLength="159.8" lengthAdjust="spacingAndGlyphs" id="t1w4" xml:space="preserve">2025-11-14</text>
<text x="721.0" y="44.45" font-size="30.059" textLength="122.8" lengthAdjust="spacingAndGlyphs" id="t1w5" xml:space="preserve">07:51:00</text>
<text x="863.1" y="44.45" font-size="30.059" textLength="36.8" lengthAdjust="spacingAndGlyphs" id="t1w6" xml:space="preserve">UT</text>
<text x="224.55" y="76.3" font-size="30.059" textLength="279.7" lengthAdjust="spacingAndGlyphs" id="t2w0" xml:space="preserve">noise_floor=-121.43</text>
<text x="514.55" y="76.3" font-size="30.059" textLength="56.7" lengthAdjust="spacingAndGlyphs" id="t2w1" xml:space="preserve">(dB)</text>
<text x="581.1" y="76.3" font-size="30.059" textLength="66.8" lengthAdjust="spacingAndGlyphs" id="t2w2" xml:space="preserve">peak</text>
<text x="658.0" y="76.3" font-size="30.059" textLength="175.8" lengthAdjust="spacingAndGlyphs" id="t2w3" xml:space="preserve">SNR=102.42</text>
<text x="87.9" y="817.7" font-size="22.8" text-anchor="end" textLength="12.8" lengthAdjust="spacingAndGlyphs" id="yt0" xml:space="preserve">0</text>
<text x="85.2" y="697.7" font-size="22.8" text-anchor="end" textLength="36.8" lengthAdjust="spacingAndGlyphs" id="yt1" xml:space="preserve">100</text>
<text x="86.55" y="576.7" font-size="22.8" text-anchor="end" textLength="37.7" lengthAdjust="spacingAndGlyphs" id="yt2" xml:space="preserve">200</text>
<text x="87.0" y="455.7" font-size="22.8" text-anchor="end" textLength="37.8" lengthAdjust="spacingAndGlyphs" id="yt3" xml:space="preserve">300</text>
<text x="86.55" y="334.7" font-size="22.8" text-anchor="end" textLength="38.7" lengthAdjust="spacingAndGlyphs" id="yt4" xml:space="preserve">400</text>
<text x="86.55" y="213.7" font-size="22.8" text-anchor="end" textLength="37.7" lengthAdjust="spacingAndGlyphs" id="yt5" xml:space="preserve">500</text>
<text x="86.55" y="92.7" font-size="22.8" text-anchor="end" textLength="39.5" lengthAdjust="spacingAndGlyphs" id="yt6" xml:space="preserve">600</text>
<text x="178.0" y="847.7" font-size="22.8" text-anchor="middle" textLength="11.8" lengthAdjust="spacingAndGlyphs" id="xt0" xml:space="preserve">2</text>
<text x="286.45" y="847.7" font-size="22.8" text-anchor="middle" textLength="11.1" lengthAdjust="spacingAndGlyphs" id="xt1" xml:space="preserve">4</text>
<text x="394.45" y="847.7" font-size="22.8" text-anchor="middle" textLength="12.7" lengthAdjust="spacingAndGlyphs" id="xt2" xml:space="preserve">6</text>
<text x="502.45" y="847.7" font-size="22.8" text-anchor="middle" textLength="12.7" lengthAdjust="spacingAndGlyphs" id="xt3" xml:space="preserve">8</text>
<text x="610.55" y="847.7" font-size="22.8" text-anchor="middle" textLength="23.9" lengthAdjust="spacingAndGlyphs" id="xt4" xml:space="preserve">10</text>
<text x="718.55" y="847.7" font-size="22.8" text-anchor="middle" textLength="23.9" lengthAdjust="spacingAndGlyphs" id="xt5" xml:space="preserve">12</text>
<text x="827.0" y="847.7" font-size="22.8" text-anchor="middle" textLength="24.8" lengthAdjust="spacingAndGlyphs" id="xt6" xml:space="preserve">14</text>
<text x="934.55" y="847.7" font-size="22.8" text-anchor="middle" textLength="23.9" lengthAdjust="spacingAndGlyphs" id="xt7" xml:space="preserve">16</text>
<text x="442.55" y="873.3" font-size="20.338" textLength="105.9" lengthAdjust="spacingAndGlyphs" id="xlw0" xml:space="preserve">Frequency</text>
<text x="557.0" y="873.3" font-size="20.338" textLength="58.8" lengthAdjust="spacingAndGlyphs" id="xlw1" xml:space="preserve">(MHz)</text>
<text x="37.55" y="406.9" font-size="20.338" textLength="46.8" lengthAdjust="spacingAndGlyphs" transform="rotate(-90 37.55 406.9)" id="ylw0" xml:space="preserve">(km)</text>
<text x="37.55" y="473.9" font-size="20.338" textLength="58.8" lengthAdjust="spacingAndGlyphs" transform="rotate(-90 37.55 473.9)" id="ylw1" xml:space="preserve">range</text>
<text x="37.55" y="549.55" font-size="20.338" textLength="66.9" lengthAdjust="spacingAndGlyphs" transform="rotate(-90 37.55 549.55)" id="ylw2" xml:space="preserve">Virtual</text>
<text x="1062.1" y="829.7" font-size="22.8" textLength="12.8" lengthAdjust="spacingAndGlyphs" id="ct0" xml:space="preserve">0</text>
<text x="1062.45" y="706.7" font-size="22.8" textLength="11.9" lengthAdjust="spacingAndGlyphs" id="ct1" xml:space="preserve">5</text>
<text x="1063.45" y="584.7" font-size="22.8" textLength="24.7" lengthAdjust="spacingAndGlyphs" id="ct2" xml:space="preserve">10</text>
<text x="1063.45" y="461.7" font-size="22.8" textLength="24.7" lengthAdjust="spacingAndGlyphs" id="ct3" xml:space="preserve">15</text>
<text x="1063.0" y="338.7" font-size="22.8" textLength="24.8" lengthAdjust="spacingAndGlyphs" id="ct4" xml:space="preserve">20</text>
<text x="1063.0" y="215.7" font-size="22.8" textLength="24.8" lengthAdjust="spacingAndGlyphs" id="ct5" xml:space="preserve">25</text>
<text x="1063.0" y="92.7" font-size="22.8" textLength="24.8" lengthAdjust="spacingAndGlyphs" id="ct6" xml:space="preserve">30</text>
<text x="1108.1" y="450.9" font-size="20.338" textLength="42.8" lengthAdjust="spacingAndGlyphs" transform="rotate(-90 1108.1 450.9)" id="clw0" xml:space="preserve">(dB)</text>
<text x="1108.1" y="500.9" font-size="20.338" textLength="42.8" lengthAdjust="spacingAndGlyphs" transform="rotate(-90 1108.1 500.9)" id="clw1" xml:space="preserve">SNR</text>
</svg>
</body></html>
